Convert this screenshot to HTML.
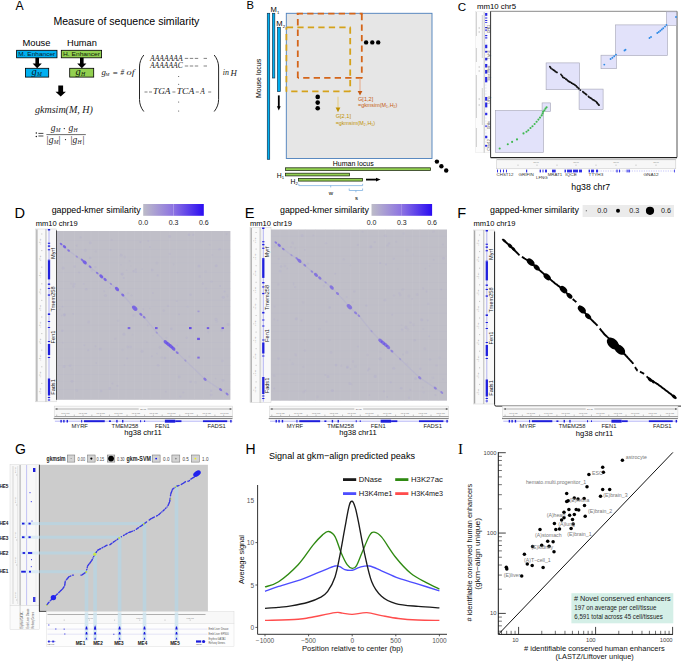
<!DOCTYPE html>
<html><head><meta charset="utf-8"><style>
html,body{margin:0;padding:0;background:#fff;}
body{width:685px;height:661px;overflow:hidden;font-family:"Liberation Sans",sans-serif;}
svg{display:block;}
</style></head><body>
<svg width="685" height="661" viewBox="0 0 685 661">
<rect x="0" y="0" width="685" height="661" fill="#fff"/>
<text x="15.6" y="10.4" font-size="12.2" fill="#000" text-anchor="start" font-family='"Liberation Sans", sans-serif' >A</text>
<text x="53.4" y="25.0" font-size="10.6" fill="#000" text-anchor="start" font-family='"Liberation Sans", sans-serif' textLength="146" lengthAdjust="spacingAndGlyphs" >Measure of sequence similarity</text>
<text x="22.4" y="45.8" font-size="9.3" fill="#000" text-anchor="start" font-family='"Liberation Sans", sans-serif' textLength="28.1" lengthAdjust="spacingAndGlyphs" >Mouse</text>
<text x="67.0" y="45.8" font-size="9.3" fill="#000" text-anchor="start" font-family='"Liberation Sans", sans-serif' textLength="29.9" lengthAdjust="spacingAndGlyphs" >Human</text>
<rect x="16.6" y="50.3" width="40.4" height="7.5" fill="#00b0f0" stroke="#000" stroke-width="0.8" />
<text x="36.8" y="56.3" font-size="6.0" fill="#0a1a28" text-anchor="middle" font-family='"Liberation Sans", sans-serif' textLength="37" lengthAdjust="spacingAndGlyphs" >M. Enhancer</text>
<rect x="61.3" y="50.3" width="40.3" height="7.5" fill="#92d050" stroke="#000" stroke-width="0.8" />
<text x="81.5" y="56.3" font-size="6.0" fill="#0a1a0a" text-anchor="middle" font-family='"Liberation Sans", sans-serif' textLength="37" lengthAdjust="spacingAndGlyphs" >H. Enhancer</text>
<path d="M35.400000000000006,57.8 L39.0,57.8 L39.0,63.6 L41.800000000000004,63.6 L37.2,68.3 L32.6,63.6 L35.400000000000006,63.6 Z" fill="#000" stroke="none" stroke-width="1" />
<path d="M80.0,57.8 L83.6,57.8 L83.6,63.6 L86.39999999999999,63.6 L81.8,68.3 L77.2,63.6 L80.0,63.6 Z" fill="#000" stroke="none" stroke-width="1" />
<rect x="25.4" y="68.3" width="23.3" height="8.8" fill="#00b0f0" stroke="#000" stroke-width="0.8" />
<rect x="69.7" y="68.3" width="24.0" height="8.8" fill="#92d050" stroke="#000" stroke-width="0.8" />
<text x="31.4" y="74.6" font-size="10.5" fill="#0a1a28" text-anchor="start" font-family='"Liberation Serif", serif' font-style="italic" >g</text>
<text x="36.9" y="75.9" font-size="5.8" fill="#0a1a28" text-anchor="start" font-family='"Liberation Serif", serif' font-style="italic" >M</text>
<text x="75.6" y="74.6" font-size="10.5" fill="#0a1a0a" text-anchor="start" font-family='"Liberation Serif", serif' font-style="italic" >g</text>
<text x="81.1" y="75.9" font-size="5.8" fill="#0a1a0a" text-anchor="start" font-family='"Liberation Serif", serif' font-style="italic" >H</text>
<path d="M58.3,85.4 L63.1,85.4 L63.1,91.8 L65.9,91.8 L60.7,96.6 L55.5,91.8 L58.3,91.8 Z" fill="#000" stroke="none" stroke-width="1" />
<text x="101.6" y="75.0" font-size="8.8" fill="#1a1a1a" text-anchor="start" font-family='"Liberation Serif", serif' font-style="italic" >g</text>
<text x="105.6" y="76.4" font-size="4.6" fill="#1a1a1a" text-anchor="start" font-family='"Liberation Serif", serif' font-style="italic" >M</text>
<text x="112.8" y="75.6" font-size="7.6" fill="#1a1a1a" text-anchor="start" font-family='"Liberation Serif", serif' textLength="5.0" lengthAdjust="spacingAndGlyphs" >=</text>
<text x="120.6" y="75.0" font-size="7.4" fill="#1a1a1a" text-anchor="start" font-family='"Liberation Serif", serif' font-style="italic" textLength="3.6" lengthAdjust="spacingAndGlyphs" >#</text>
<text x="126.6" y="75.0" font-size="8.8" fill="#1a1a1a" text-anchor="start" font-family='"Liberation Serif", serif' font-style="italic" textLength="8.0" lengthAdjust="spacingAndGlyphs" >of</text>
<path d="M143.8,55.0 C141.0,58.5 139.5,62.5 139.5,67.0 L139.5,99.5 C139.5,104 141.0,108 143.8,111.5" fill="none" stroke="#1a1a1a" stroke-width="0.95" />
<path d="M214.2,55.0 C217.0,58.5 218.6,62.5 218.6,67.0 L218.6,99.5 C218.6,104 217.0,108 214.2,111.5" fill="none" stroke="#1a1a1a" stroke-width="0.95" />
<text x="150.0" y="60.6" font-size="7.4" fill="#1a1a1a" text-anchor="start" font-family='"Liberation Serif", serif' font-style="italic" textLength="32.7" lengthAdjust="spacingAndGlyphs" >AAAAAAA</text>
<text x="150.0" y="68.2" font-size="7.4" fill="#1a1a1a" text-anchor="start" font-family='"Liberation Serif", serif' font-style="italic" textLength="32.7" lengthAdjust="spacingAndGlyphs" >AAAAAAC</text>
<line x1="184.8" y1="58.4" x2="188.20000000000002" y2="58.4" stroke="#1a1a1a" stroke-width="0.55" />
<line x1="189.8" y1="58.4" x2="193.20000000000002" y2="58.4" stroke="#1a1a1a" stroke-width="0.55" />
<line x1="194.8" y1="58.4" x2="198.20000000000002" y2="58.4" stroke="#1a1a1a" stroke-width="0.55" />
<line x1="203.6" y1="58.4" x2="207.0" y2="58.4" stroke="#1a1a1a" stroke-width="0.55" />
<line x1="184.8" y1="66.0" x2="188.20000000000002" y2="66.0" stroke="#1a1a1a" stroke-width="0.55" />
<line x1="189.8" y1="66.0" x2="193.20000000000002" y2="66.0" stroke="#1a1a1a" stroke-width="0.55" />
<line x1="194.8" y1="66.0" x2="198.20000000000002" y2="66.0" stroke="#1a1a1a" stroke-width="0.55" />
<line x1="203.6" y1="66.0" x2="207.0" y2="66.0" stroke="#1a1a1a" stroke-width="0.55" />
<circle cx="178.7" cy="76.4" r="0.5" fill="#333" />
<circle cx="178.7" cy="84.2" r="0.5" fill="#333" />
<circle cx="178.7" cy="102.0" r="0.5" fill="#333" />
<circle cx="178.7" cy="111.0" r="0.5" fill="#333" />
<line x1="144.5" y1="92.0" x2="147.5" y2="92.0" stroke="#1a1a1a" stroke-width="0.55" />
<line x1="149.0" y1="92.0" x2="152.0" y2="92.0" stroke="#1a1a1a" stroke-width="0.55" />
<line x1="172.4" y1="92.0" x2="175.4" y2="92.0" stroke="#1a1a1a" stroke-width="0.55" />
<line x1="195.8" y1="92.0" x2="198.8" y2="92.0" stroke="#1a1a1a" stroke-width="0.55" />
<line x1="208.2" y1="92.0" x2="211.2" y2="92.0" stroke="#1a1a1a" stroke-width="0.55" />
<text x="153.0" y="94.4" font-size="7.4" fill="#1a1a1a" text-anchor="start" font-family='"Liberation Serif", serif' font-style="italic" textLength="17.5" lengthAdjust="spacingAndGlyphs" >TGA</text>
<text x="176.8" y="94.4" font-size="7.4" fill="#1a1a1a" text-anchor="start" font-family='"Liberation Serif", serif' font-style="italic" textLength="17.5" lengthAdjust="spacingAndGlyphs" >TCA</text>
<text x="200.2" y="94.4" font-size="7.4" fill="#1a1a1a" text-anchor="start" font-family='"Liberation Serif", serif' font-style="italic" >A</text>
<text x="222.8" y="75.4" font-size="8.8" fill="#1a1a1a" text-anchor="start" font-family='"Liberation Serif", serif' font-style="italic" textLength="6.2" lengthAdjust="spacingAndGlyphs" >in</text>
<text x="230.6" y="76.2" font-size="8.8" fill="#1a1a1a" text-anchor="start" font-family='"Liberation Serif", serif' font-style="italic" >H</text>
<text x="35.0" y="112.6" font-size="10.4" fill="#1a1a1a" text-anchor="start" font-family='"Liberation Serif", serif' font-style="italic" textLength="57.9" lengthAdjust="spacingAndGlyphs" >gkmsim(M, H)</text>
<circle cx="36.3" cy="133.0" r="0.75" fill="#1a1a1a" />
<circle cx="36.3" cy="136.4" r="0.75" fill="#1a1a1a" />
<line x1="38.4" y1="133.4" x2="43.4" y2="133.4" stroke="#1a1a1a" stroke-width="0.8" />
<line x1="38.4" y1="136.0" x2="43.4" y2="136.0" stroke="#1a1a1a" stroke-width="0.8" />
<text x="50.8" y="131.0" font-size="9.6" fill="#1a1a1a" text-anchor="start" font-family='"Liberation Serif", serif' font-style="italic" >g</text>
<text x="55.8" y="132.2" font-size="5.6" fill="#1a1a1a" text-anchor="start" font-family='"Liberation Serif", serif' font-style="italic" >M</text>
<circle cx="64.3" cy="128.6" r="0.65" fill="#1a1a1a" />
<text x="68.6" y="131.0" font-size="9.6" fill="#1a1a1a" text-anchor="start" font-family='"Liberation Serif", serif' font-style="italic" >g</text>
<text x="73.6" y="132.2" font-size="5.6" fill="#1a1a1a" text-anchor="start" font-family='"Liberation Serif", serif' font-style="italic" >H</text>
<line x1="46.4" y1="134.6" x2="85.8" y2="134.6" stroke="#1a1a1a" stroke-width="0.65" />
<text x="46.6" y="142.8" font-size="9.6" fill="#1a1a1a" text-anchor="start" font-family='"Liberation Serif", serif' >|</text>
<text x="48.8" y="142.6" font-size="9.6" fill="#1a1a1a" text-anchor="start" font-family='"Liberation Serif", serif' font-style="italic" >g</text>
<text x="53.8" y="143.8" font-size="5.6" fill="#1a1a1a" text-anchor="start" font-family='"Liberation Serif", serif' font-style="italic" >M</text>
<text x="58.6" y="142.8" font-size="9.6" fill="#1a1a1a" text-anchor="start" font-family='"Liberation Serif", serif' >|</text>
<circle cx="65.5" cy="139.6" r="0.65" fill="#1a1a1a" />
<text x="70.4" y="142.8" font-size="9.6" fill="#1a1a1a" text-anchor="start" font-family='"Liberation Serif", serif' >|</text>
<text x="72.6" y="142.6" font-size="9.6" fill="#1a1a1a" text-anchor="start" font-family='"Liberation Serif", serif' font-style="italic" >g</text>
<text x="77.6" y="143.8" font-size="5.6" fill="#1a1a1a" text-anchor="start" font-family='"Liberation Serif", serif' font-style="italic" >H</text>
<text x="82.4" y="142.8" font-size="9.6" fill="#1a1a1a" text-anchor="start" font-family='"Liberation Serif", serif' >|</text>
<text x="246.4" y="8.9" font-size="11.2" fill="#000" text-anchor="start" font-family='"Liberation Sans", sans-serif' >B</text>
<rect x="267.3" y="13.3" width="2.4" height="146" fill="#00b0f0" stroke="#0d3a5a" stroke-width="0.7" />
<rect x="272.5" y="13.3" width="2.3" height="64.7" fill="#00b0f0" stroke="#0d3a5a" stroke-width="0.7" />
<rect x="277.5" y="27.3" width="2.8" height="64.2" fill="#00b0f0" stroke="#0d3a5a" stroke-width="0.7" />
<text x="270.5" y="12.4" font-size="7.6" fill="#000" text-anchor="start" font-family='"Liberation Sans", sans-serif' >M</text>
<text x="276.9" y="13.6" font-size="4.2" fill="#000" text-anchor="start" font-family='"Liberation Sans", sans-serif' >1</text>
<text x="276.3" y="26.4" font-size="7.6" fill="#000" text-anchor="start" font-family='"Liberation Sans", sans-serif' >M</text>
<text x="282.7" y="27.6" font-size="4.2" fill="#000" text-anchor="start" font-family='"Liberation Sans", sans-serif' >2</text>
<line x1="278.8" y1="95.4" x2="278.8" y2="107.5" stroke="#000" stroke-width="1.8" />
<path d="M276.9,106.3 L280.7,106.3 L278.8,110.5 Z" fill="#000" stroke="none" stroke-width="1" />
<rect x="286.3" y="13.3" width="145.7" height="145.2" fill="#e6e6e6" stroke="#4a7ebb" stroke-width="0.9" />
<line x1="296.7" y1="13.6" x2="362.7" y2="13.6" stroke="#d4651a" stroke-width="1.8" stroke-dasharray="6.3 4.2" stroke-dashoffset="0.00"/>
<line x1="361.8" y1="13.6" x2="361.8" y2="78.5" stroke="#d4651a" stroke-width="1.8" stroke-dasharray="6.3 4.2" stroke-dashoffset="10.10"/>
<line x1="297.8" y1="77.8" x2="362.7" y2="77.8" stroke="#d4651a" stroke-width="1.8" stroke-dasharray="6.3 4.2" stroke-dashoffset="5.10"/>
<line x1="297.8" y1="13.6" x2="297.8" y2="78.5" stroke="#d4651a" stroke-width="1.8" stroke-dasharray="6.3 4.2" stroke-dashoffset="5.00"/>
<line x1="286.4" y1="27.3" x2="350.8" y2="27.3" stroke="#d5a21b" stroke-width="1.8" stroke-dasharray="6.3 4.2" stroke-dashoffset="10.10"/>
<line x1="350.2" y1="27.3" x2="350.2" y2="91.8" stroke="#d5a21b" stroke-width="1.8" stroke-dasharray="6.3 4.2" stroke-dashoffset="10.30"/>
<line x1="286.4" y1="91.3" x2="351.0" y2="91.3" stroke="#d5a21b" stroke-width="1.8" stroke-dasharray="6.3 4.2" stroke-dashoffset="5.70"/>
<line x1="286.4" y1="27.3" x2="286.4" y2="91.8" stroke="#d5a21b" stroke-width="1.8" stroke-dasharray="6.3 4.2" stroke-dashoffset="3.80"/>
<circle cx="366.1" cy="42.4" r="2.2" fill="#000" />
<circle cx="372.3" cy="42.4" r="2.2" fill="#000" />
<circle cx="378.2" cy="42.4" r="2.2" fill="#000" />
<circle cx="317.7" cy="96.9" r="2.3" fill="#000" />
<circle cx="317.7" cy="102.6" r="2.3" fill="#000" />
<circle cx="317.7" cy="108.3" r="2.3" fill="#000" />
<line x1="360.0" y1="78.5" x2="360.0" y2="92.0" stroke="#e8a07a" stroke-width="0.9" />
<path d="M357.6,91.0 L362.4,91.0 L360.0,95.6 Z" fill="#c55a11" stroke="none" stroke-width="1" />
<text x="358.0" y="100.6" font-size="5.4" fill="#c55a11" text-anchor="start" font-family='"Liberation Sans", sans-serif' textLength="15.3" lengthAdjust="spacingAndGlyphs" >G[1,2]</text>
<text x="358.0" y="106.9" font-size="5.4" fill="#c55a11" text-anchor="start" font-family='"Liberation Sans", sans-serif' >=gkmsim(M</text>
<text x="386.0" y="107.5" font-size="3.5" fill="#c55a11" text-anchor="start" font-family='"Liberation Sans", sans-serif' >1</text>
<text x="388.2" y="106.9" font-size="5.4" fill="#c55a11" text-anchor="start" font-family='"Liberation Sans", sans-serif' >,H</text>
<text x="393.6" y="107.5" font-size="3.5" fill="#c55a11" text-anchor="start" font-family='"Liberation Sans", sans-serif' >2</text>
<text x="395.5" y="106.9" font-size="5.4" fill="#c55a11" text-anchor="start" font-family='"Liberation Sans", sans-serif' >)</text>
<line x1="338.0" y1="96.7" x2="338.0" y2="108.5" stroke="#e7c870" stroke-width="0.9" />
<path d="M335.6,107.5 L340.4,107.5 L338.0,112.3 Z" fill="#bf9000" stroke="none" stroke-width="1" />
<text x="335.7" y="118.4" font-size="5.4" fill="#bf9000" text-anchor="start" font-family='"Liberation Sans", sans-serif' textLength="15.3" lengthAdjust="spacingAndGlyphs" >G[2,1]</text>
<text x="335.7" y="124.9" font-size="5.4" fill="#bf9000" text-anchor="start" font-family='"Liberation Sans", sans-serif' >=gkmsim(M</text>
<text x="363.7" y="125.5" font-size="3.5" fill="#bf9000" text-anchor="start" font-family='"Liberation Sans", sans-serif' >2</text>
<text x="365.9" y="124.9" font-size="5.4" fill="#bf9000" text-anchor="start" font-family='"Liberation Sans", sans-serif' >,H</text>
<text x="371.3" y="125.5" font-size="3.5" fill="#bf9000" text-anchor="start" font-family='"Liberation Sans", sans-serif' >1</text>
<text x="373.2" y="124.9" font-size="5.4" fill="#bf9000" text-anchor="start" font-family='"Liberation Sans", sans-serif' >)</text>
<text x="0" y="0" font-size="7.0" fill="#000" text-anchor="middle" font-family='"Liberation Sans", sans-serif' textLength="39.3" lengthAdjust="spacingAndGlyphs" transform="translate(261.3,78.4) rotate(-90)">Mouse locus</text>
<text x="332.8" y="166.0" font-size="7.0" fill="#000" text-anchor="start" font-family='"Liberation Sans", sans-serif' textLength="40.9" lengthAdjust="spacingAndGlyphs" >Human locus</text>
<rect x="285.5" y="167.8" width="145.1" height="2.7" fill="#92d050" stroke="#1e2a12" stroke-width="0.75" />
<rect x="285.5" y="173.2" width="64.0" height="2.7" fill="#92d050" stroke="#1e2a12" stroke-width="0.75" />
<rect x="298.6" y="178.4" width="64.0" height="2.7" fill="#92d050" stroke="#1e2a12" stroke-width="0.75" />
<text x="276.8" y="178.0" font-size="6.8" fill="#000" text-anchor="start" font-family='"Liberation Sans", sans-serif' >H</text>
<text x="281.8" y="179.3" font-size="4.2" fill="#000" text-anchor="start" font-family='"Liberation Sans", sans-serif' >1</text>
<text x="290.6" y="183.5" font-size="6.8" fill="#000" text-anchor="start" font-family='"Liberation Sans", sans-serif' >H</text>
<text x="295.6" y="184.8" font-size="4.2" fill="#000" text-anchor="start" font-family='"Liberation Sans", sans-serif' >2</text>
<line x1="366.0" y1="179.6" x2="377.0" y2="179.6" stroke="#000" stroke-width="1.8" />
<path d="M376.0,177.7 L380.6,179.6 L376.0,181.5 Z" fill="#000" stroke="none" stroke-width="1" />
<circle cx="436.9" cy="161.6" r="2.2" fill="#000" />
<circle cx="441.4" cy="166.3" r="2.2" fill="#000" />
<circle cx="446.2" cy="170.5" r="2.2" fill="#000" />
<path d="M298.8,183.8 L298.8,185.6 L362.6,185.6 L362.6,183.8 M330.7,185.6 L330.7,187.4" fill="none" stroke="#6fa8dc" stroke-width="0.7" />
<path d="M349.2,188.5 L349.2,190.5 L362.6,190.5 L362.6,188.5 M355.9,190.5 L355.9,192.3" fill="none" stroke="#6fa8dc" stroke-width="0.7" />
<text x="330.8" y="194.6" font-size="6.0" fill="#000" text-anchor="middle" font-family='"Liberation Sans", sans-serif' >w</text>
<text x="356.6" y="200.2" font-size="6.0" fill="#000" text-anchor="middle" font-family='"Liberation Sans", sans-serif' >s</text>
<text x="457.8" y="10.6" font-size="11.6" fill="#000" text-anchor="start" font-family='"Liberation Sans", sans-serif' >C</text>
<text x="476.9" y="8.9" font-size="7.8" fill="#000" text-anchor="start" font-family='"Liberation Sans", sans-serif' textLength="39.1" lengthAdjust="spacingAndGlyphs" >mm10 chr5</text>
<rect x="475.3" y="11.5" width="15.2" height="141.2" fill="#fcfcfc" stroke="#e0e0e0" stroke-width="0.4" />
<line x1="476.4" y1="12" x2="476.4" y2="36" stroke="#a0a0a0" stroke-width="0.5" />
<line x1="476.4" y1="48" x2="476.4" y2="62" stroke="#a0a0a0" stroke-width="0.5" />
<line x1="476.4" y1="75" x2="476.4" y2="118" stroke="#a0a0a0" stroke-width="0.5" />
<line x1="476.4" y1="128" x2="476.4" y2="147" stroke="#a0a0a0" stroke-width="0.5" />
<line x1="482.3" y1="15" x2="482.3" y2="58" stroke="#b0b0b0" stroke-width="0.55" />
<line x1="482.3" y1="88" x2="482.3" y2="125" stroke="#b0b0b0" stroke-width="0.55" />
<line x1="479.2" y1="27" x2="479.2" y2="29" stroke="#888" stroke-width="0.4" />
<line x1="479.2" y1="31" x2="479.2" y2="33" stroke="#888" stroke-width="0.4" />
<line x1="479.2" y1="66" x2="479.2" y2="68" stroke="#888" stroke-width="0.4" />
<line x1="479.2" y1="70" x2="479.2" y2="72" stroke="#888" stroke-width="0.4" />
<line x1="479.2" y1="98" x2="479.2" y2="100" stroke="#888" stroke-width="0.4" />
<line x1="479.2" y1="104" x2="479.2" y2="106" stroke="#888" stroke-width="0.4" />
<line x1="484.2" y1="12" x2="484.2" y2="152.7" stroke="#8a8a8a" stroke-width="0.5" />
<line x1="485.4" y1="16" x2="486.4" y2="16" stroke="#8080f0" stroke-width="0.3" />
<line x1="485.4" y1="19" x2="486.4" y2="19" stroke="#8080f0" stroke-width="0.3" />
<line x1="485.4" y1="22" x2="486.4" y2="22" stroke="#8080f0" stroke-width="0.3" />
<line x1="485.4" y1="25" x2="486.4" y2="25" stroke="#8080f0" stroke-width="0.3" />
<line x1="485.4" y1="28" x2="486.4" y2="28" stroke="#8080f0" stroke-width="0.3" />
<line x1="485.4" y1="31" x2="486.4" y2="31" stroke="#8080f0" stroke-width="0.3" />
<line x1="485.4" y1="34" x2="486.4" y2="34" stroke="#8080f0" stroke-width="0.3" />
<line x1="485.4" y1="37" x2="486.4" y2="37" stroke="#8080f0" stroke-width="0.3" />
<line x1="485.4" y1="40" x2="486.4" y2="40" stroke="#8080f0" stroke-width="0.3" />
<line x1="485.4" y1="43" x2="486.4" y2="43" stroke="#8080f0" stroke-width="0.3" />
<line x1="485.4" y1="46" x2="486.4" y2="46" stroke="#8080f0" stroke-width="0.3" />
<line x1="485.4" y1="49" x2="486.4" y2="49" stroke="#8080f0" stroke-width="0.3" />
<line x1="485.4" y1="52" x2="486.4" y2="52" stroke="#8080f0" stroke-width="0.3" />
<line x1="485.4" y1="55" x2="486.4" y2="55" stroke="#8080f0" stroke-width="0.3" />
<line x1="485.4" y1="58" x2="486.4" y2="58" stroke="#8080f0" stroke-width="0.3" />
<line x1="485.4" y1="61" x2="486.4" y2="61" stroke="#8080f0" stroke-width="0.3" />
<line x1="485.4" y1="64" x2="486.4" y2="64" stroke="#8080f0" stroke-width="0.3" />
<line x1="485.4" y1="67" x2="486.4" y2="67" stroke="#8080f0" stroke-width="0.3" />
<line x1="485.4" y1="70" x2="486.4" y2="70" stroke="#8080f0" stroke-width="0.3" />
<line x1="485.4" y1="73" x2="486.4" y2="73" stroke="#8080f0" stroke-width="0.3" />
<line x1="485.4" y1="76" x2="486.4" y2="76" stroke="#8080f0" stroke-width="0.3" />
<line x1="485.4" y1="79" x2="486.4" y2="79" stroke="#8080f0" stroke-width="0.3" />
<line x1="485.4" y1="82" x2="486.4" y2="82" stroke="#8080f0" stroke-width="0.3" />
<line x1="485.4" y1="85" x2="486.4" y2="85" stroke="#8080f0" stroke-width="0.3" />
<line x1="485.4" y1="88" x2="486.4" y2="88" stroke="#8080f0" stroke-width="0.3" />
<line x1="485.4" y1="91" x2="486.4" y2="91" stroke="#8080f0" stroke-width="0.3" />
<line x1="485.4" y1="94" x2="486.4" y2="94" stroke="#8080f0" stroke-width="0.3" />
<line x1="485.4" y1="97" x2="486.4" y2="97" stroke="#8080f0" stroke-width="0.3" />
<line x1="485.4" y1="100" x2="486.4" y2="100" stroke="#8080f0" stroke-width="0.3" />
<line x1="485.4" y1="103" x2="486.4" y2="103" stroke="#8080f0" stroke-width="0.3" />
<line x1="485.4" y1="106" x2="486.4" y2="106" stroke="#8080f0" stroke-width="0.3" />
<line x1="485.4" y1="109" x2="486.4" y2="109" stroke="#8080f0" stroke-width="0.3" />
<line x1="485.4" y1="112" x2="486.4" y2="112" stroke="#8080f0" stroke-width="0.3" />
<line x1="485.4" y1="115" x2="486.4" y2="115" stroke="#8080f0" stroke-width="0.3" />
<line x1="485.4" y1="118" x2="486.4" y2="118" stroke="#8080f0" stroke-width="0.3" />
<line x1="485.4" y1="121" x2="486.4" y2="121" stroke="#8080f0" stroke-width="0.3" />
<line x1="485.4" y1="124" x2="486.4" y2="124" stroke="#8080f0" stroke-width="0.3" />
<line x1="485.4" y1="127" x2="486.4" y2="127" stroke="#8080f0" stroke-width="0.3" />
<line x1="485.4" y1="130" x2="486.4" y2="130" stroke="#8080f0" stroke-width="0.3" />
<line x1="485.4" y1="133" x2="486.4" y2="133" stroke="#8080f0" stroke-width="0.3" />
<line x1="485.4" y1="136" x2="486.4" y2="136" stroke="#8080f0" stroke-width="0.3" />
<line x1="485.4" y1="139" x2="486.4" y2="139" stroke="#8080f0" stroke-width="0.3" />
<line x1="485.4" y1="142" x2="486.4" y2="142" stroke="#8080f0" stroke-width="0.3" />
<line x1="485.4" y1="145" x2="486.4" y2="145" stroke="#8080f0" stroke-width="0.3" />
<line x1="485.4" y1="148" x2="486.4" y2="148" stroke="#8080f0" stroke-width="0.3" />
<rect x="485.1" y="13" width="2.2" height="2.8000000000000007" fill="#2a2ae6" stroke="none" stroke-width="1" />
<rect x="485.1" y="17.5" width="2.2" height="1.0" fill="#2a2ae6" stroke="none" stroke-width="1" />
<rect x="485.1" y="20" width="2.2" height="1" fill="#2a2ae6" stroke="none" stroke-width="1" />
<rect x="485.1" y="22" width="2.2" height="0.8000000000000007" fill="#2a2ae6" stroke="none" stroke-width="1" />
<rect x="485.1" y="27" width="2.2" height="1.1999999999999993" fill="#2a2ae6" stroke="none" stroke-width="1" />
<rect x="485.1" y="29.5" width="2.2" height="1.1999999999999993" fill="#2a2ae6" stroke="none" stroke-width="1" />
<rect x="485.1" y="35" width="2.2" height="1.2000000000000028" fill="#2a2ae6" stroke="none" stroke-width="1" />
<rect x="485.1" y="37.3" width="2.2" height="1.2000000000000028" fill="#2a2ae6" stroke="none" stroke-width="1" />
<rect x="485.1" y="44.7" width="2.2" height="3.5" fill="#2a2ae6" stroke="none" stroke-width="1" />
<rect x="485.1" y="50.8" width="2.2" height="1.8000000000000043" fill="#2a2ae6" stroke="none" stroke-width="1" />
<rect x="485.1" y="57.8" width="2.2" height="2.6000000000000014" fill="#2a2ae6" stroke="none" stroke-width="1" />
<rect x="485.1" y="64" width="2.2" height="3.5" fill="#2a2ae6" stroke="none" stroke-width="1" />
<rect x="485.1" y="70" width="2.2" height="3.5999999999999943" fill="#2a2ae6" stroke="none" stroke-width="1" />
<rect x="485.1" y="77" width="2.2" height="5.299999999999997" fill="#2a2ae6" stroke="none" stroke-width="1" />
<rect x="485.1" y="97" width="2.2" height="3.700000000000003" fill="#2a2ae6" stroke="none" stroke-width="1" />
<rect x="485.1" y="102.5" width="2.2" height="4.900000000000006" fill="#2a2ae6" stroke="none" stroke-width="1" />
<rect x="485.1" y="112.8" width="2.2" height="2.4000000000000057" fill="#2a2ae6" stroke="none" stroke-width="1" />
<rect x="485.1" y="125.5" width="2.2" height="1.2000000000000028" fill="#2a2ae6" stroke="none" stroke-width="1" />
<rect x="485.1" y="135.8" width="2.2" height="2.3999999999999773" fill="#2a2ae6" stroke="none" stroke-width="1" />
<rect x="485.1" y="144.9" width="2.2" height="1.799999999999983" fill="#2a2ae6" stroke="none" stroke-width="1" />
<text x="0" y="0" font-size="3.6" fill="#444" text-anchor="middle" font-family='"Liberation Sans", sans-serif' transform="translate(489.6,29) rotate(-90)">Orf11</text>
<text x="0" y="0" font-size="3.6" fill="#444" text-anchor="middle" font-family='"Liberation Sans", sans-serif' transform="translate(489.6,55) rotate(-90)">Ttyh3</text>
<text x="0" y="0" font-size="3.6" fill="#444" text-anchor="middle" font-family='"Liberation Sans", sans-serif' transform="translate(489.6,69) rotate(-90)">Mrat</text>
<text x="0" y="0" font-size="3.6" fill="#444" text-anchor="middle" font-family='"Liberation Sans", sans-serif' transform="translate(489.6,77) rotate(-90)">Iqce</text>
<text x="0" y="0" font-size="3.6" fill="#444" text-anchor="middle" font-family='"Liberation Sans", sans-serif' transform="translate(489.6,100) rotate(-90)">Lfng</text>
<text x="0" y="0" font-size="3.6" fill="#444" text-anchor="middle" font-family='"Liberation Sans", sans-serif' transform="translate(489.6,125) rotate(-90)">Grifin</text>
<text x="0" y="0" font-size="3.6" fill="#444" text-anchor="middle" font-family='"Liberation Sans", sans-serif' transform="translate(489.6,145) rotate(-90)">Chst12</text>
<line x1="490.6" y1="11.3" x2="677.0" y2="11.3" stroke="#8a8a8a" stroke-width="1.0" />
<line x1="677.0" y1="11.3" x2="677.0" y2="157.4" stroke="#555555" stroke-width="1.0" />
<line x1="490.6" y1="11.3" x2="490.6" y2="157.6" stroke="#333333" stroke-width="1.0" />
<line x1="490.6" y1="157.6" x2="677.0" y2="157.6" stroke="#222222" stroke-width="1.1" />
<rect x="495.3" y="110.5" width="48.19999999999999" height="42.0" fill="#e2e2fa" stroke="#a4a4b4" stroke-width="0.6" />
<rect x="542.1" y="102.9" width="8.600000000000023" height="8.699999999999989" fill="#e2e2fa" stroke="#a4a4b4" stroke-width="0.6" />
<rect x="546.1" y="62.9" width="33.60000000000002" height="26.800000000000004" fill="#e2e2fa" stroke="#a4a4b4" stroke-width="0.6" />
<rect x="579.1" y="89.1" width="24.0" height="20.400000000000006" fill="#e2e2fa" stroke="#a4a4b4" stroke-width="0.6" />
<rect x="601.0" y="55.2" width="15.5" height="13.5" fill="#e2e2fa" stroke="#a4a4b4" stroke-width="0.6" />
<rect x="615.5" y="24.9" width="52.0" height="30.800000000000004" fill="#e2e2fa" stroke="#a4a4b4" stroke-width="0.6" />
<rect x="666.3" y="11.8" width="10.200000000000045" height="13.599999999999998" fill="#e2e2fa" stroke="#a4a4b4" stroke-width="0.6" />
<circle cx="499.7" cy="148.5" r="1.05" fill="#3fb950" />
<circle cx="507.8" cy="144.3" r="1.05" fill="#3fb950" />
<circle cx="512.1" cy="141.9" r="1.05" fill="#3fb950" />
<circle cx="517.0" cy="139.4" r="1.05" fill="#3fb950" />
<circle cx="523.5" cy="133.4" r="1.05" fill="#3fb950" />
<circle cx="526.5" cy="131.8" r="1.05" fill="#3fb950" />
<circle cx="528.3" cy="130.3" r="1.05" fill="#3fb950" />
<circle cx="530.5" cy="128.0" r="1.05" fill="#3fb950" />
<circle cx="532.5" cy="126.2" r="1.05" fill="#3fb950" />
<circle cx="534.6" cy="124.0" r="1.05" fill="#3fb950" />
<circle cx="536.6" cy="121.8" r="1.05" fill="#3fb950" />
<circle cx="538.4" cy="119.6" r="1.05" fill="#3fb950" />
<circle cx="540.0" cy="117.6" r="1.05" fill="#3fb950" />
<circle cx="541.7" cy="115.4" r="1.05" fill="#3fb950" />
<circle cx="542.6" cy="113.4" r="1.05" fill="#3fb950" />
<circle cx="543.2" cy="111.6" r="1.05" fill="#3fb950" />
<circle cx="544.4" cy="110.2" r="1.05" fill="#3fb950" />
<circle cx="545.5" cy="108.6" r="1.05" fill="#3fb950" />
<circle cx="546.6" cy="107.2" r="1.05" fill="#3fb950" />
<circle cx="549.82" cy="66.58" r="0.88" fill="#111"/>
<circle cx="550.47" cy="67.45" r="0.88" fill="#111"/>
<circle cx="550.97" cy="68.37" r="0.88" fill="#111"/>
<circle cx="552.10" cy="69.09" r="0.88" fill="#111"/>
<circle cx="552.93" cy="69.52" r="0.88" fill="#111"/>
<circle cx="553.74" cy="70.13" r="0.88" fill="#111"/>
<circle cx="554.50" cy="70.68" r="0.88" fill="#111"/>
<circle cx="555.28" cy="71.49" r="0.88" fill="#111"/>
<circle cx="556.23" cy="72.03" r="0.88" fill="#111"/>
<circle cx="556.99" cy="72.41" r="0.88" fill="#111"/>
<circle cx="560.94" cy="74.34" r="0.88" fill="#111"/>
<circle cx="561.67" cy="75.37" r="0.88" fill="#111"/>
<circle cx="562.31" cy="76.11" r="0.88" fill="#111"/>
<circle cx="562.83" cy="77.25" r="0.88" fill="#111"/>
<circle cx="563.77" cy="77.67" r="0.88" fill="#111"/>
<circle cx="564.73" cy="78.21" r="0.88" fill="#111"/>
<circle cx="565.83" cy="79.01" r="0.88" fill="#111"/>
<circle cx="566.44" cy="79.44" r="0.88" fill="#111"/>
<circle cx="567.27" cy="80.12" r="0.88" fill="#111"/>
<circle cx="567.99" cy="80.80" r="0.88" fill="#111"/>
<circle cx="568.60" cy="81.27" r="0.88" fill="#111"/>
<circle cx="569.45" cy="81.74" r="0.88" fill="#111"/>
<circle cx="570.14" cy="82.16" r="0.88" fill="#111"/>
<circle cx="571.15" cy="82.54" r="0.88" fill="#111"/>
<circle cx="571.74" cy="83.18" r="0.88" fill="#111"/>
<circle cx="572.63" cy="83.61" r="0.88" fill="#111"/>
<circle cx="573.57" cy="84.15" r="0.88" fill="#111"/>
<circle cx="574.60" cy="84.71" r="0.88" fill="#111"/>
<circle cx="575.30" cy="85.31" r="0.88" fill="#111"/>
<circle cx="576.24" cy="85.93" r="0.88" fill="#111"/>
<circle cx="576.88" cy="86.80" r="0.88" fill="#111"/>
<circle cx="577.60" cy="87.47" r="0.88" fill="#111"/>
<circle cx="578.50" cy="88.06" r="0.88" fill="#111"/>
<circle cx="578.97" cy="88.82" r="0.88" fill="#111"/>
<circle cx="580.38" cy="90.03" r="0.88" fill="#111"/>
<circle cx="582.85" cy="91.75" r="0.88" fill="#111"/>
<circle cx="583.70" cy="92.39" r="0.88" fill="#111"/>
<circle cx="584.39" cy="93.03" r="0.88" fill="#111"/>
<circle cx="585.37" cy="93.69" r="0.88" fill="#111"/>
<circle cx="586.05" cy="94.26" r="0.88" fill="#111"/>
<circle cx="586.56" cy="94.64" r="0.88" fill="#111"/>
<circle cx="588.44" cy="96.32" r="0.88" fill="#111"/>
<circle cx="589.07" cy="97.13" r="0.88" fill="#111"/>
<circle cx="590.01" cy="97.70" r="0.88" fill="#111"/>
<circle cx="590.79" cy="98.11" r="0.88" fill="#111"/>
<circle cx="591.71" cy="98.69" r="0.88" fill="#111"/>
<circle cx="592.56" cy="99.54" r="0.88" fill="#111"/>
<circle cx="593.42" cy="99.83" r="0.88" fill="#111"/>
<circle cx="594.21" cy="100.45" r="0.88" fill="#111"/>
<circle cx="595.31" cy="101.08" r="0.88" fill="#111"/>
<circle cx="596.04" cy="101.58" r="0.88" fill="#111"/>
<circle cx="596.82" cy="102.38" r="0.88" fill="#111"/>
<circle cx="597.17" cy="102.97" r="0.88" fill="#111"/>
<circle cx="597.71" cy="103.70" r="0.88" fill="#111"/>
<circle cx="598.47" cy="104.39" r="0.88" fill="#111"/>
<circle cx="599.00" cy="105.20" r="0.88" fill="#111"/>
<circle cx="604.3" cy="64.6" r="0.95" fill="#2e8be6" />
<circle cx="610.6" cy="59.0" r="0.95" fill="#2e8be6" />
<circle cx="612.4" cy="57.7" r="0.95" fill="#2e8be6" />
<circle cx="614.2" cy="56.2" r="0.95" fill="#2e8be6" />
<circle cx="616.0" cy="54.6" r="0.95" fill="#2e8be6" />
<circle cx="624.5" cy="50.5" r="0.95" fill="#2e8be6" />
<circle cx="625.5" cy="49.8" r="0.95" fill="#2e8be6" />
<circle cx="649.5" cy="38.0" r="0.95" fill="#2e8be6" />
<circle cx="651.0" cy="37.0" r="0.95" fill="#2e8be6" />
<circle cx="657.3" cy="33.0" r="0.95" fill="#2e8be6" />
<circle cx="658.8" cy="32.0" r="0.95" fill="#2e8be6" />
<circle cx="660.3" cy="30.8" r="0.95" fill="#2e8be6" />
<circle cx="661.8" cy="29.5" r="0.95" fill="#2e8be6" />
<circle cx="663.2" cy="28.3" r="0.95" fill="#2e8be6" />
<circle cx="665.0" cy="26.6" r="0.95" fill="#2e8be6" />
<circle cx="666.5" cy="24.9" r="0.95" fill="#2e8be6" />
<circle cx="676.0" cy="17.0" r="0.95" fill="#2e8be6" />
<rect x="496.6" y="158.6" width="179.2" height="10.2" fill="#f7f7f7" stroke="#c4c4c4" stroke-width="0.5" />
<line x1="497" y1="159.6" x2="675.5" y2="159.6" stroke="#666" stroke-width="0.4" />
<line x1="518" y1="164.6" x2="518" y2="165.8" stroke="#777" stroke-width="0.4" />
<line x1="537" y1="164.6" x2="537" y2="165.8" stroke="#777" stroke-width="0.4" />
<line x1="557" y1="164.6" x2="557" y2="165.8" stroke="#777" stroke-width="0.4" />
<line x1="576" y1="164.6" x2="576" y2="165.8" stroke="#777" stroke-width="0.4" />
<line x1="596" y1="164.6" x2="596" y2="165.8" stroke="#777" stroke-width="0.4" />
<line x1="616" y1="164.6" x2="616" y2="165.8" stroke="#777" stroke-width="0.4" />
<line x1="636" y1="164.6" x2="636" y2="165.8" stroke="#777" stroke-width="0.4" />
<line x1="656" y1="164.6" x2="656" y2="165.8" stroke="#777" stroke-width="0.4" />
<text x="536" y="163.2" font-size="1.9" fill="#888" text-anchor="middle" font-family='"Liberation Sans", sans-serif' >150 kb</text>
<text x="576" y="163.2" font-size="1.9" fill="#888" text-anchor="middle" font-family='"Liberation Sans", sans-serif' >150 kb</text>
<text x="616" y="163.2" font-size="1.9" fill="#888" text-anchor="middle" font-family='"Liberation Sans", sans-serif' >150 kb</text>
<text x="656" y="163.2" font-size="1.9" fill="#888" text-anchor="middle" font-family='"Liberation Sans", sans-serif' >150 kb</text>
<line x1="588.6" y1="171.0" x2="674.5" y2="171.0" stroke="#6a6af0" stroke-width="0.4" stroke-dasharray="1.2 1.2"/>
<rect x="497" y="169.6" width="1" height="2.8" fill="#3030e6" stroke="none" stroke-width="1" />
<rect x="500" y="169.6" width="1" height="2.8" fill="#3030e6" stroke="none" stroke-width="1" />
<rect x="503" y="169.6" width="1" height="2.8" fill="#3030e6" stroke="none" stroke-width="1" />
<rect x="506" y="169.6" width="1" height="2.8" fill="#3030e6" stroke="none" stroke-width="1" />
<rect x="526" y="169.6" width="1.2000000000000455" height="2.8" fill="#3030e6" stroke="none" stroke-width="1" />
<rect x="539.6" y="169.6" width="1.3999999999999773" height="2.8" fill="#3030e6" stroke="none" stroke-width="1" />
<rect x="542.5" y="169.6" width="1.0" height="2.8" fill="#3030e6" stroke="none" stroke-width="1" />
<rect x="545" y="169.6" width="2" height="2.8" fill="#3030e6" stroke="none" stroke-width="1" />
<rect x="552" y="169.6" width="3.7000000000000455" height="2.8" fill="#3030e6" stroke="none" stroke-width="1" />
<rect x="564.5" y="169.6" width="1.5" height="2.8" fill="#3030e6" stroke="none" stroke-width="1" />
<rect x="567" y="169.6" width="5" height="2.8" fill="#3030e6" stroke="none" stroke-width="1" />
<rect x="573" y="169.6" width="5" height="2.8" fill="#3030e6" stroke="none" stroke-width="1" />
<rect x="579" y="169.6" width="3" height="2.8" fill="#3030e6" stroke="none" stroke-width="1" />
<rect x="588.6" y="169.6" width="1.3999999999999773" height="2.8" fill="#3030e6" stroke="none" stroke-width="1" />
<rect x="591" y="169.6" width="3" height="2.8" fill="#3030e6" stroke="none" stroke-width="1" />
<rect x="596" y="169.6" width="2" height="2.8" fill="#3030e6" stroke="none" stroke-width="1" />
<rect x="616.4" y="169.6" width="1.2000000000000455" height="2.8" fill="#3030e6" stroke="none" stroke-width="1" />
<rect x="619" y="169.6" width="1" height="2.8" fill="#3030e6" stroke="none" stroke-width="1" />
<rect x="626.6" y="169.6" width="1.0" height="2.8" fill="#3030e6" stroke="none" stroke-width="1" />
<rect x="628.4" y="169.6" width="1.3999999999999773" height="2.8" fill="#3030e6" stroke="none" stroke-width="1" />
<rect x="674" y="169.6" width="0.7999999999999545" height="2.8" fill="#3030e6" stroke="none" stroke-width="1" />
<text x="496.6" y="175.5" font-size="4.4" fill="#333" text-anchor="start" font-family='"Liberation Sans", sans-serif' textLength="16.8" lengthAdjust="spacingAndGlyphs" >CHST12</text>
<text x="518.5" y="175.5" font-size="4.4" fill="#333" text-anchor="start" font-family='"Liberation Sans", sans-serif' textLength="15.3" lengthAdjust="spacingAndGlyphs" >GRIFIN</text>
<text x="547.7" y="175.5" font-size="4.4" fill="#333" text-anchor="start" font-family='"Liberation Sans", sans-serif' textLength="14.6" lengthAdjust="spacingAndGlyphs" >MRAT1</text>
<text x="565.2" y="175.5" font-size="4.4" fill="#333" text-anchor="start" font-family='"Liberation Sans", sans-serif' textLength="11.7" lengthAdjust="spacingAndGlyphs" >IQCE</text>
<text x="588.6" y="175.5" font-size="4.4" fill="#333" text-anchor="start" font-family='"Liberation Sans", sans-serif' textLength="14.6" lengthAdjust="spacingAndGlyphs" >TTYH3</text>
<text x="643.4" y="175.5" font-size="4.4" fill="#333" text-anchor="start" font-family='"Liberation Sans", sans-serif' textLength="15.3" lengthAdjust="spacingAndGlyphs" >GNA12</text>
<text x="536.0" y="178.6" font-size="4.4" fill="#333" text-anchor="start" font-family='"Liberation Sans", sans-serif' textLength="11.7" lengthAdjust="spacingAndGlyphs" >LFNG</text>
<text x="571.3" y="190.2" font-size="8.75" fill="#000" text-anchor="start" font-family='"Liberation Sans", sans-serif' textLength="38.9" lengthAdjust="spacingAndGlyphs" >hg38 chr7</text>
<text x="14.6" y="218.3" font-size="14.6" fill="#000" text-anchor="start" font-family='"Liberation Sans", sans-serif' >D</text>
<text x="51.7" y="213.0" font-size="8.85" fill="#000" text-anchor="start" font-family='"Liberation Sans", sans-serif' textLength="89" lengthAdjust="spacingAndGlyphs" >gapped-kmer similarity</text>
<defs><linearGradient id="cbD" x1="0" x2="1" y1="0" y2="0"><stop offset="0" stop-color="#bdbcc8"/><stop offset="0.5" stop-color="#8c72e2"/><stop offset="1" stop-color="#2a0cf2"/></linearGradient></defs>
<rect x="143.2" y="204.0" width="60.6" height="11.8" fill="url(#cbD)" stroke="none" stroke-width="1" />
<line x1="173.5" y1="204" x2="173.5" y2="215.8" stroke="#ffffff" stroke-width="0.4" opacity="0.6"/>
<text x="143.2" y="225.2" font-size="7.0" fill="#222" text-anchor="middle" font-family='"Liberation Sans", sans-serif' >0.0</text>
<text x="173.5" y="225.2" font-size="7.0" fill="#222" text-anchor="middle" font-family='"Liberation Sans", sans-serif' >0.3</text>
<text x="203.79999999999998" y="225.2" font-size="7.0" fill="#222" text-anchor="middle" font-family='"Liberation Sans", sans-serif' >0.6</text>
<text x="35.7" y="225.7" font-size="7.6" fill="#000" text-anchor="start" font-family='"Liberation Sans", sans-serif' textLength="42" lengthAdjust="spacingAndGlyphs" >mm10 chr19</text>
<rect x="35.7" y="229.0" width="20.599999999999994" height="172.8" fill="#f9f9f9" stroke="#d0d0d0" stroke-width="0.5" />
<line x1="36.900000000000006" y1="229.5" x2="36.900000000000006" y2="401.3" stroke="#333" stroke-width="0.5" />
<line x1="45.7" y1="229.0" x2="45.7" y2="401.8" stroke="#999" stroke-width="0.45" />
<line x1="46.5" y1="229.0" x2="46.5" y2="401.8" stroke="#bbb" stroke-width="0.4" />
<line x1="49.0" y1="230.0" x2="49.0" y2="400.8" stroke="#4a4ae8" stroke-width="0.4" />
<rect x="47.85" y="229.0" width="2.3" height="1.5" fill="#1f1fdd" stroke="none" stroke-width="1" />
<rect x="47.85" y="242.7" width="2.3" height="1.1000000000000014" fill="#1f1fdd" stroke="none" stroke-width="1" />
<rect x="47.85" y="245.4" width="2.3" height="1.4000000000000004" fill="#1f1fdd" stroke="none" stroke-width="1" />
<rect x="47.85" y="249.2" width="2.3" height="1.1000000000000014" fill="#1f1fdd" stroke="none" stroke-width="1" />
<rect x="47.85" y="259.7" width="2.3" height="0.9000000000000021" fill="#1f1fdd" stroke="none" stroke-width="1" />
<rect x="47.85" y="260.6" width="2.3" height="18.799999999999997" fill="#1f1fdd" stroke="none" stroke-width="1" />
<rect x="47.85" y="283.5" width="2.3" height="1.3999999999999986" fill="#1f1fdd" stroke="none" stroke-width="1" />
<rect x="47.85" y="287.9" width="2.3" height="1.1000000000000014" fill="#1f1fdd" stroke="none" stroke-width="1" />
<rect x="47.85" y="294.4" width="2.3" height="1.3000000000000043" fill="#1f1fdd" stroke="none" stroke-width="1" />
<rect x="47.85" y="313.4" width="2.3" height="1.5999999999999943" fill="#1f1fdd" stroke="none" stroke-width="1" />
<rect x="47.85" y="321.0" width="2.3" height="1" fill="#1f1fdd" stroke="none" stroke-width="1" />
<rect x="47.85" y="327.0" width="2.3" height="1" fill="#1f1fdd" stroke="none" stroke-width="1" />
<rect x="47.85" y="341.0" width="2.3" height="1" fill="#1f1fdd" stroke="none" stroke-width="1" />
<rect x="47.85" y="344.0" width="2.3" height="11" fill="#1f1fdd" stroke="none" stroke-width="1" />
<rect x="47.85" y="357.0" width="2.3" height="1" fill="#1f1fdd" stroke="none" stroke-width="1" />
<rect x="47.85" y="378.5" width="2.3" height="17.0" fill="#1f1fdd" stroke="none" stroke-width="1" />
<rect x="47.85" y="397.0" width="2.3" height="1" fill="#1f1fdd" stroke="none" stroke-width="1" />
<rect x="47.85" y="399.5" width="2.3" height="1.0" fill="#1f1fdd" stroke="none" stroke-width="1" />
<text x="0" y="0" font-size="5.6" fill="#222" text-anchor="middle" font-family='"Liberation Sans", sans-serif' transform="translate(55.1,253.5) rotate(-90)">Myrf</text>
<text x="0" y="0" font-size="5.6" fill="#222" text-anchor="middle" font-family='"Liberation Sans", sans-serif' transform="translate(55.1,299.0) rotate(-90)">Tmem258</text>
<text x="0" y="0" font-size="5.6" fill="#222" text-anchor="middle" font-family='"Liberation Sans", sans-serif' transform="translate(55.1,337.0) rotate(-90)">Fen1</text>
<text x="0" y="0" font-size="5.6" fill="#222" text-anchor="middle" font-family='"Liberation Sans", sans-serif' transform="translate(55.1,387.0) rotate(-90)">Fads1</text>
<line x1="41.300000000000004" y1="234.0" x2="42.300000000000004" y2="234.0" stroke="#666" stroke-width="0.4" />
<line x1="38.900000000000006" y1="242.3" x2="39.900000000000006" y2="242.3" stroke="#888" stroke-width="0.35" />
<text x="0" y="0" font-size="1.9" fill="#999" text-anchor="middle" font-family='"Liberation Sans", sans-serif' transform="translate(41.300000000000004,241.5) rotate(-90)">5.5 Mb</text>
<line x1="41.300000000000004" y1="250.6" x2="42.300000000000004" y2="250.6" stroke="#666" stroke-width="0.4" />
<line x1="38.900000000000006" y1="258.9" x2="39.900000000000006" y2="258.9" stroke="#888" stroke-width="0.35" />
<text x="0" y="0" font-size="1.9" fill="#999" text-anchor="middle" font-family='"Liberation Sans", sans-serif' transform="translate(41.300000000000004,258.1) rotate(-90)">5.5 Mb</text>
<line x1="41.300000000000004" y1="267.2" x2="42.300000000000004" y2="267.2" stroke="#666" stroke-width="0.4" />
<line x1="38.900000000000006" y1="275.5" x2="39.900000000000006" y2="275.5" stroke="#888" stroke-width="0.35" />
<text x="0" y="0" font-size="1.9" fill="#999" text-anchor="middle" font-family='"Liberation Sans", sans-serif' transform="translate(41.300000000000004,274.7) rotate(-90)">5.5 Mb</text>
<line x1="41.300000000000004" y1="283.8" x2="42.300000000000004" y2="283.8" stroke="#666" stroke-width="0.4" />
<line x1="38.900000000000006" y1="292.1" x2="39.900000000000006" y2="292.1" stroke="#888" stroke-width="0.35" />
<text x="0" y="0" font-size="1.9" fill="#999" text-anchor="middle" font-family='"Liberation Sans", sans-serif' transform="translate(41.300000000000004,291.3) rotate(-90)">5.5 Mb</text>
<line x1="41.300000000000004" y1="300.4" x2="42.300000000000004" y2="300.4" stroke="#666" stroke-width="0.4" />
<line x1="38.900000000000006" y1="308.7" x2="39.900000000000006" y2="308.7" stroke="#888" stroke-width="0.35" />
<text x="0" y="0" font-size="1.9" fill="#999" text-anchor="middle" font-family='"Liberation Sans", sans-serif' transform="translate(41.300000000000004,307.9) rotate(-90)">5.5 Mb</text>
<line x1="41.300000000000004" y1="317.0" x2="42.300000000000004" y2="317.0" stroke="#666" stroke-width="0.4" />
<line x1="38.900000000000006" y1="325.3" x2="39.900000000000006" y2="325.3" stroke="#888" stroke-width="0.35" />
<text x="0" y="0" font-size="1.9" fill="#999" text-anchor="middle" font-family='"Liberation Sans", sans-serif' transform="translate(41.300000000000004,324.5) rotate(-90)">5.5 Mb</text>
<line x1="41.300000000000004" y1="333.6" x2="42.300000000000004" y2="333.6" stroke="#666" stroke-width="0.4" />
<line x1="38.900000000000006" y1="341.90000000000003" x2="39.900000000000006" y2="341.90000000000003" stroke="#888" stroke-width="0.35" />
<text x="0" y="0" font-size="1.9" fill="#999" text-anchor="middle" font-family='"Liberation Sans", sans-serif' transform="translate(41.300000000000004,341.1) rotate(-90)">5.5 Mb</text>
<line x1="41.300000000000004" y1="350.20000000000005" x2="42.300000000000004" y2="350.20000000000005" stroke="#666" stroke-width="0.4" />
<line x1="38.900000000000006" y1="358.50000000000006" x2="39.900000000000006" y2="358.50000000000006" stroke="#888" stroke-width="0.35" />
<text x="0" y="0" font-size="1.9" fill="#999" text-anchor="middle" font-family='"Liberation Sans", sans-serif' transform="translate(41.300000000000004,357.70000000000005) rotate(-90)">5.5 Mb</text>
<line x1="41.300000000000004" y1="366.8" x2="42.300000000000004" y2="366.8" stroke="#666" stroke-width="0.4" />
<line x1="38.900000000000006" y1="375.1" x2="39.900000000000006" y2="375.1" stroke="#888" stroke-width="0.35" />
<text x="0" y="0" font-size="1.9" fill="#999" text-anchor="middle" font-family='"Liberation Sans", sans-serif' transform="translate(41.300000000000004,374.3) rotate(-90)">5.5 Mb</text>
<line x1="41.300000000000004" y1="383.4" x2="42.300000000000004" y2="383.4" stroke="#666" stroke-width="0.4" />
<line x1="38.900000000000006" y1="391.7" x2="39.900000000000006" y2="391.7" stroke="#888" stroke-width="0.35" />
<text x="0" y="0" font-size="1.9" fill="#999" text-anchor="middle" font-family='"Liberation Sans", sans-serif' transform="translate(41.300000000000004,390.9) rotate(-90)">5.5 Mb</text>
<rect x="56.3" y="231.0" width="174.10000000000002" height="168.8" fill="#c0bfc8" stroke="none" stroke-width="1" />
<line x1="63.7" y1="231.0" x2="63.7" y2="399.8" stroke="#c8c7cf" stroke-width="0.7" opacity="0.45"/>
<line x1="74.5" y1="231.0" x2="74.5" y2="399.8" stroke="#c8c7cf" stroke-width="0.7" opacity="0.45"/>
<line x1="83.0" y1="231.0" x2="83.0" y2="399.8" stroke="#c8c7cf" stroke-width="0.7" opacity="0.45"/>
<line x1="91.0" y1="231.0" x2="91.0" y2="399.8" stroke="#c8c7cf" stroke-width="0.7" opacity="0.45"/>
<line x1="98.7" y1="231.0" x2="98.7" y2="399.8" stroke="#c8c7cf" stroke-width="0.7" opacity="0.45"/>
<line x1="109.7" y1="231.0" x2="109.7" y2="399.8" stroke="#c8c7cf" stroke-width="0.7" opacity="0.45"/>
<line x1="118.5" y1="231.0" x2="118.5" y2="399.8" stroke="#c8c7cf" stroke-width="0.7" opacity="0.45"/>
<line x1="126.0" y1="231.0" x2="126.0" y2="399.8" stroke="#c8c7cf" stroke-width="0.7" opacity="0.45"/>
<line x1="134.7" y1="231.0" x2="134.7" y2="399.8" stroke="#c8c7cf" stroke-width="0.7" opacity="0.45"/>
<line x1="142.3" y1="231.0" x2="142.3" y2="399.8" stroke="#c8c7cf" stroke-width="0.7" opacity="0.45"/>
<line x1="150.1" y1="231.0" x2="150.1" y2="399.8" stroke="#c8c7cf" stroke-width="0.7" opacity="0.45"/>
<line x1="160.2" y1="231.0" x2="160.2" y2="399.8" stroke="#c8c7cf" stroke-width="0.7" opacity="0.45"/>
<line x1="169.8" y1="231.0" x2="169.8" y2="399.8" stroke="#c8c7cf" stroke-width="0.7" opacity="0.45"/>
<line x1="176.4" y1="231.0" x2="176.4" y2="399.8" stroke="#c8c7cf" stroke-width="0.7" opacity="0.45"/>
<line x1="188.1" y1="231.0" x2="188.1" y2="399.8" stroke="#c8c7cf" stroke-width="0.7" opacity="0.45"/>
<line x1="194.5" y1="231.0" x2="194.5" y2="399.8" stroke="#c8c7cf" stroke-width="0.7" opacity="0.45"/>
<line x1="203.2" y1="231.0" x2="203.2" y2="399.8" stroke="#c8c7cf" stroke-width="0.7" opacity="0.45"/>
<line x1="211.2" y1="231.0" x2="211.2" y2="399.8" stroke="#c8c7cf" stroke-width="0.7" opacity="0.45"/>
<line x1="223.7" y1="231.0" x2="223.7" y2="399.8" stroke="#c8c7cf" stroke-width="0.7" opacity="0.45"/>
<line x1="56.3" y1="240.4" x2="230.4" y2="240.4" stroke="#b8b6c8" stroke-width="0.7" opacity="0.25"/>
<line x1="56.3" y1="249.4" x2="230.4" y2="249.4" stroke="#b8b6c8" stroke-width="0.7" opacity="0.25"/>
<line x1="56.3" y1="256.8" x2="230.4" y2="256.8" stroke="#b8b6c8" stroke-width="0.7" opacity="0.25"/>
<line x1="56.3" y1="262.9" x2="230.4" y2="262.9" stroke="#b8b6c8" stroke-width="0.7" opacity="0.25"/>
<line x1="56.3" y1="272.5" x2="230.4" y2="272.5" stroke="#b8b6c8" stroke-width="0.7" opacity="0.25"/>
<line x1="56.3" y1="281.6" x2="230.4" y2="281.6" stroke="#b8b6c8" stroke-width="0.7" opacity="0.25"/>
<line x1="56.3" y1="288.5" x2="230.4" y2="288.5" stroke="#b8b6c8" stroke-width="0.7" opacity="0.25"/>
<line x1="56.3" y1="300.3" x2="230.4" y2="300.3" stroke="#b8b6c8" stroke-width="0.7" opacity="0.25"/>
<line x1="56.3" y1="306.4" x2="230.4" y2="306.4" stroke="#b8b6c8" stroke-width="0.7" opacity="0.25"/>
<line x1="56.3" y1="314.0" x2="230.4" y2="314.0" stroke="#b8b6c8" stroke-width="0.7" opacity="0.25"/>
<line x1="56.3" y1="325.1" x2="230.4" y2="325.1" stroke="#b8b6c8" stroke-width="0.7" opacity="0.25"/>
<line x1="56.3" y1="330.8" x2="230.4" y2="330.8" stroke="#b8b6c8" stroke-width="0.7" opacity="0.25"/>
<line x1="56.3" y1="342.4" x2="230.4" y2="342.4" stroke="#b8b6c8" stroke-width="0.7" opacity="0.25"/>
<line x1="56.3" y1="349.0" x2="230.4" y2="349.0" stroke="#b8b6c8" stroke-width="0.7" opacity="0.25"/>
<line x1="56.3" y1="357.8" x2="230.4" y2="357.8" stroke="#b8b6c8" stroke-width="0.7" opacity="0.25"/>
<line x1="56.3" y1="365.4" x2="230.4" y2="365.4" stroke="#b8b6c8" stroke-width="0.7" opacity="0.25"/>
<line x1="56.3" y1="374.4" x2="230.4" y2="374.4" stroke="#b8b6c8" stroke-width="0.7" opacity="0.25"/>
<line x1="56.3" y1="381.7" x2="230.4" y2="381.7" stroke="#b8b6c8" stroke-width="0.7" opacity="0.25"/>
<line x1="56.3" y1="389.5" x2="230.4" y2="389.5" stroke="#b8b6c8" stroke-width="0.7" opacity="0.25"/>
<circle cx="205.6" cy="271.7" r="1.4" fill="#9c94d8" opacity="0.08"/>
<circle cx="223.1" cy="380.3" r="1.4" fill="#9c94d8" opacity="0.14"/>
<circle cx="157.1" cy="353.3" r="0.9" fill="#9c94d8" opacity="0.11"/>
<circle cx="199.0" cy="266.1" r="1.5" fill="#9c94d8" opacity="0.15"/>
<circle cx="128.0" cy="293.2" r="1.2" fill="#9c94d8" opacity="0.10"/>
<circle cx="227.5" cy="296.7" r="0.8" fill="#9c94d8" opacity="0.07"/>
<circle cx="180.4" cy="396.6" r="1.2" fill="#9c94d8" opacity="0.11"/>
<circle cx="151.9" cy="356.3" r="1.0" fill="#9c94d8" opacity="0.12"/>
<circle cx="153.0" cy="335.6" r="0.9" fill="#9c94d8" opacity="0.08"/>
<circle cx="117.5" cy="385.8" r="1.1" fill="#9c94d8" opacity="0.12"/>
<circle cx="110.5" cy="250.0" r="0.9" fill="#9c94d8" opacity="0.14"/>
<circle cx="190.5" cy="294.8" r="1.3" fill="#9c94d8" opacity="0.13"/>
<circle cx="211.2" cy="390.9" r="1.1" fill="#9c94d8" opacity="0.16"/>
<circle cx="221.8" cy="330.3" r="1.5" fill="#9c94d8" opacity="0.11"/>
<circle cx="122.2" cy="273.7" r="1.5" fill="#9c94d8" opacity="0.08"/>
<circle cx="70.1" cy="365.7" r="1.4" fill="#9c94d8" opacity="0.11"/>
<circle cx="200.7" cy="241.6" r="1.0" fill="#9c94d8" opacity="0.09"/>
<circle cx="129.7" cy="261.1" r="0.9" fill="#9c94d8" opacity="0.09"/>
<circle cx="211.2" cy="395.1" r="1.4" fill="#9c94d8" opacity="0.11"/>
<circle cx="101.2" cy="391.0" r="1.2" fill="#9c94d8" opacity="0.13"/>
<circle cx="63.1" cy="268.0" r="1.5" fill="#9c94d8" opacity="0.14"/>
<circle cx="208.2" cy="332.1" r="1.1" fill="#9c94d8" opacity="0.12"/>
<circle cx="202.8" cy="283.8" r="1.2" fill="#9c94d8" opacity="0.09"/>
<circle cx="189.0" cy="234.7" r="1.3" fill="#9c94d8" opacity="0.16"/>
<circle cx="62.3" cy="330.8" r="1.3" fill="#9c94d8" opacity="0.15"/>
<circle cx="157.7" cy="275.4" r="1.1" fill="#9c94d8" opacity="0.16"/>
<circle cx="212.3" cy="255.0" r="0.9" fill="#9c94d8" opacity="0.07"/>
<circle cx="62.6" cy="306.6" r="0.9" fill="#9c94d8" opacity="0.15"/>
<circle cx="169.8" cy="253.9" r="1.2" fill="#9c94d8" opacity="0.09"/>
<circle cx="142.3" cy="269.2" r="0.9" fill="#9c94d8" opacity="0.08"/>
<circle cx="122.6" cy="350.0" r="1.2" fill="#9c94d8" opacity="0.06"/>
<circle cx="179.2" cy="377.0" r="1.4" fill="#9c94d8" opacity="0.14"/>
<circle cx="59.6" cy="309.4" r="0.9" fill="#9c94d8" opacity="0.14"/>
<circle cx="88.1" cy="350.3" r="1.0" fill="#9c94d8" opacity="0.13"/>
<circle cx="111.6" cy="239.9" r="1.1" fill="#9c94d8" opacity="0.09"/>
<circle cx="211.5" cy="281.6" r="1.2" fill="#9c94d8" opacity="0.11"/>
<circle cx="219.6" cy="249.2" r="1.3" fill="#9c94d8" opacity="0.11"/>
<circle cx="183.3" cy="392.4" r="1.0" fill="#9c94d8" opacity="0.13"/>
<circle cx="147.7" cy="325.4" r="0.9" fill="#9c94d8" opacity="0.14"/>
<circle cx="224.5" cy="291.5" r="1.1" fill="#9c94d8" opacity="0.16"/>
<circle cx="76.6" cy="245.5" r="0.9" fill="#9c94d8" opacity="0.14"/>
<circle cx="187.6" cy="306.8" r="1.3" fill="#9c94d8" opacity="0.06"/>
<circle cx="168.0" cy="305.9" r="1.2" fill="#9c94d8" opacity="0.10"/>
<circle cx="126.6" cy="270.2" r="0.8" fill="#9c94d8" opacity="0.10"/>
<circle cx="100.3" cy="349.0" r="1.5" fill="#9c94d8" opacity="0.13"/>
<circle cx="135.9" cy="272.0" r="1.1" fill="#9c94d8" opacity="0.11"/>
<circle cx="165.8" cy="391.7" r="0.9" fill="#9c94d8" opacity="0.11"/>
<circle cx="142.0" cy="351.2" r="1.5" fill="#9c94d8" opacity="0.14"/>
<circle cx="164.9" cy="358.0" r="1.3" fill="#9c94d8" opacity="0.15"/>
<circle cx="177.2" cy="345.6" r="1.0" fill="#9c94d8" opacity="0.15"/>
<circle cx="124.0" cy="334.3" r="1.5" fill="#9c94d8" opacity="0.16"/>
<circle cx="226.6" cy="234.1" r="1.1" fill="#9c94d8" opacity="0.09"/>
<circle cx="124.8" cy="257.0" r="1.2" fill="#9c94d8" opacity="0.07"/>
<circle cx="109.8" cy="388.5" r="1.4" fill="#9c94d8" opacity="0.11"/>
<circle cx="76.7" cy="390.5" r="1.4" fill="#9c94d8" opacity="0.08"/>
<circle cx="115.3" cy="338.7" r="1.3" fill="#9c94d8" opacity="0.09"/>
<circle cx="220.1" cy="286.1" r="1.0" fill="#9c94d8" opacity="0.14"/>
<circle cx="84.4" cy="345.3" r="1.0" fill="#9c94d8" opacity="0.12"/>
<circle cx="105.5" cy="295.5" r="1.6" fill="#9c94d8" opacity="0.11"/>
<circle cx="132.6" cy="334.7" r="1.0" fill="#9c94d8" opacity="0.08"/>
<circle cx="123.7" cy="277.9" r="1.0" fill="#9c94d8" opacity="0.16"/>
<circle cx="64.1" cy="366.6" r="1.5" fill="#9c94d8" opacity="0.13"/>
<circle cx="61.5" cy="315.6" r="0.8" fill="#9c94d8" opacity="0.12"/>
<circle cx="177.4" cy="272.6" r="0.8" fill="#9c94d8" opacity="0.11"/>
<circle cx="74.4" cy="283.9" r="1.2" fill="#9c94d8" opacity="0.15"/>
<circle cx="121.2" cy="255.2" r="1.4" fill="#9c94d8" opacity="0.14"/>
<circle cx="148.4" cy="241.1" r="1.0" fill="#9c94d8" opacity="0.10"/>
<circle cx="152.2" cy="270.1" r="1.4" fill="#9c94d8" opacity="0.14"/>
<circle cx="215.7" cy="378.6" r="0.8" fill="#9c94d8" opacity="0.12"/>
<circle cx="72.0" cy="381.3" r="1.4" fill="#9c94d8" opacity="0.14"/>
<circle cx="90.3" cy="242.8" r="1.5" fill="#9c94d8" opacity="0.12"/>
<circle cx="163.8" cy="310.6" r="1.4" fill="#9c94d8" opacity="0.09"/>
<circle cx="104.2" cy="291.2" r="1.0" fill="#9c94d8" opacity="0.12"/>
<circle cx="209.7" cy="244.7" r="0.9" fill="#9c94d8" opacity="0.11"/>
<circle cx="173.6" cy="264.3" r="1.0" fill="#9c94d8" opacity="0.07"/>
<circle cx="64.6" cy="314.6" r="1.3" fill="#9c94d8" opacity="0.13"/>
<circle cx="85.2" cy="250.2" r="1.5" fill="#9c94d8" opacity="0.11"/>
<circle cx="127.8" cy="346.9" r="1.4" fill="#9c94d8" opacity="0.11"/>
<circle cx="71.6" cy="369.3" r="1.0" fill="#9c94d8" opacity="0.06"/>
<circle cx="118.2" cy="320.8" r="1.3" fill="#9c94d8" opacity="0.08"/>
<circle cx="179.0" cy="314.4" r="0.9" fill="#9c94d8" opacity="0.15"/>
<circle cx="195.5" cy="382.4" r="1.3" fill="#9c94d8" opacity="0.08"/>
<circle cx="190.6" cy="381.8" r="1.2" fill="#9c94d8" opacity="0.15"/>
<circle cx="223.3" cy="297.3" r="1.6" fill="#9c94d8" opacity="0.15"/>
<circle cx="193.3" cy="234.9" r="1.1" fill="#9c94d8" opacity="0.12"/>
<circle cx="161.6" cy="357.5" r="1.3" fill="#9c94d8" opacity="0.08"/>
<circle cx="216.6" cy="321.4" r="1.5" fill="#9c94d8" opacity="0.08"/>
<circle cx="228.1" cy="324.4" r="1.4" fill="#9c94d8" opacity="0.13"/>
<circle cx="208.5" cy="292.7" r="0.9" fill="#9c94d8" opacity="0.10"/>
<circle cx="88.6" cy="322.0" r="1.5" fill="#9c94d8" opacity="0.10"/>
<circle cx="80.6" cy="237.4" r="1.1" fill="#9c94d8" opacity="0.12"/>
<circle cx="62.8" cy="342.7" r="1.0" fill="#9c94d8" opacity="0.07"/>
<circle cx="216.1" cy="319.2" r="1.5" fill="#9c94d8" opacity="0.11"/>
<circle cx="79.2" cy="272.6" r="1.1" fill="#9c94d8" opacity="0.12"/>
<circle cx="189.4" cy="356.8" r="1.3" fill="#9c94d8" opacity="0.09"/>
<circle cx="131.5" cy="295.3" r="1.2" fill="#9c94d8" opacity="0.09"/>
<circle cx="149.8" cy="308.6" r="0.8" fill="#9c94d8" opacity="0.14"/>
<circle cx="158.1" cy="365.3" r="1.4" fill="#9c94d8" opacity="0.13"/>
<circle cx="227.3" cy="295.1" r="1.1" fill="#9c94d8" opacity="0.06"/>
<circle cx="171.3" cy="328.8" r="1.3" fill="#9c94d8" opacity="0.16"/>
<circle cx="91.8" cy="270.5" r="1.4" fill="#9c94d8" opacity="0.14"/>
<circle cx="140.4" cy="242.1" r="1.1" fill="#9c94d8" opacity="0.14"/>
<circle cx="143.3" cy="309.1" r="1.1" fill="#9c94d8" opacity="0.12"/>
<circle cx="160.1" cy="347.2" r="1.5" fill="#9c94d8" opacity="0.14"/>
<circle cx="122.1" cy="274.3" r="1.4" fill="#9c94d8" opacity="0.14"/>
<circle cx="216.2" cy="265.8" r="1.5" fill="#9c94d8" opacity="0.15"/>
<circle cx="71.4" cy="283.8" r="1.3" fill="#9c94d8" opacity="0.07"/>
<circle cx="199.7" cy="276.6" r="1.3" fill="#9c94d8" opacity="0.09"/>
<circle cx="95.4" cy="267.1" r="1.2" fill="#9c94d8" opacity="0.13"/>
<circle cx="95.4" cy="346.1" r="1.1" fill="#9c94d8" opacity="0.12"/>
<circle cx="120.9" cy="264.8" r="0.9" fill="#9c94d8" opacity="0.07"/>
<circle cx="176.7" cy="301.2" r="0.9" fill="#9c94d8" opacity="0.15"/>
<circle cx="169.7" cy="236.5" r="1.4" fill="#9c94d8" opacity="0.12"/>
<circle cx="133.8" cy="315.5" r="1.6" fill="#9c94d8" opacity="0.10"/>
<circle cx="166.5" cy="337.8" r="1.1" fill="#9c94d8" opacity="0.09"/>
<circle cx="186.7" cy="337.8" r="1.2" fill="#9c94d8" opacity="0.11"/>
<circle cx="96.3" cy="363.1" r="0.8" fill="#9c94d8" opacity="0.12"/>
<circle cx="135.7" cy="269.5" r="1.3" fill="#9c94d8" opacity="0.12"/>
<circle cx="73.1" cy="313.8" r="0.9" fill="#9c94d8" opacity="0.14"/>
<circle cx="113.9" cy="287.1" r="1.0" fill="#9c94d8" opacity="0.06"/>
<circle cx="90.1" cy="258.0" r="1.3" fill="#9c94d8" opacity="0.14"/>
<circle cx="95.9" cy="251.4" r="1.2" fill="#9c94d8" opacity="0.07"/>
<circle cx="127.2" cy="358.4" r="1.0" fill="#9c94d8" opacity="0.13"/>
<circle cx="149.9" cy="247.0" r="1.0" fill="#9c94d8" opacity="0.12"/>
<circle cx="74.7" cy="266.6" r="1.3" fill="#9c94d8" opacity="0.14"/>
<circle cx="146.8" cy="342.3" r="0.8" fill="#9c94d8" opacity="0.09"/>
<circle cx="112.4" cy="383.5" r="1.1" fill="#9c94d8" opacity="0.14"/>
<circle cx="64.1" cy="315.1" r="1.5" fill="#9c94d8" opacity="0.14"/>
<circle cx="156.9" cy="263.0" r="1.5" fill="#9c94d8" opacity="0.07"/>
<circle cx="222.4" cy="360.9" r="1.4" fill="#9c94d8" opacity="0.11"/>
<circle cx="86.2" cy="289.2" r="1.3" fill="#9c94d8" opacity="0.13"/>
<circle cx="124.5" cy="365.0" r="0.8" fill="#9c94d8" opacity="0.09"/>
<circle cx="73.7" cy="286.5" r="1.4" fill="#9c94d8" opacity="0.14"/>
<circle cx="83.7" cy="283.8" r="0.9" fill="#9c94d8" opacity="0.13"/>
<circle cx="133.6" cy="271.2" r="1.1" fill="#9c94d8" opacity="0.15"/>
<circle cx="130.6" cy="346.9" r="1.3" fill="#9c94d8" opacity="0.11"/>
<circle cx="152.9" cy="293.0" r="1.0" fill="#9c94d8" opacity="0.11"/>
<circle cx="110.1" cy="287.4" r="0.9" fill="#9c94d8" opacity="0.15"/>
<circle cx="130.7" cy="266.0" r="0.8" fill="#9c94d8" opacity="0.08"/>
<circle cx="206.0" cy="288.5" r="1.3" fill="#9c94d8" opacity="0.08"/>
<line x1="56.5" y1="230.4" x2="56.5" y2="399.8" stroke="#3a3a3a" stroke-width="0.9" />
<defs><filter id="blD" x="-10%" y="-10%" width="120%" height="120%"><feGaussianBlur stdDeviation="0.45"/></filter></defs>
<g filter="url(#blD)">
<polyline points="61.1,244.0 64.5,246.8 68.6,250.5 76.8,256.6 82.2,260.0 84.7,262.3 90.1,266.8 97.2,273.0 101.3,276.4 105.1,279.5 110.9,283.9 117.0,289.0 122.8,295.0 134.7,308.2 140.9,314.4 144.2,317.2 156.8,332.7 165.8,342.2 168.3,344.3 170.8,346.3 173.3,348.5 177.2,352.6 185.4,360.5 205.0,379.3 220.6,389.6 227.1,394.0" fill="none" stroke="#8e80e0" stroke-width="1.3" opacity="0.13"/>
<ellipse cx="61.1" cy="244.0" rx="1.56" ry="1.02" transform="rotate(42 61.1 244.0)" fill="#6a52e8" opacity="0.77"/>
<ellipse cx="64.5" cy="246.8" rx="1.95" ry="1.27" transform="rotate(42 64.5 246.8)" fill="#6a52e8" opacity="0.85"/>
<ellipse cx="68.6" cy="250.5" rx="1.56" ry="1.02" transform="rotate(42 68.6 250.5)" fill="#6a52e8" opacity="0.68"/>
<ellipse cx="76.8" cy="256.6" rx="1.30" ry="0.85" transform="rotate(42 76.8 256.6)" fill="#6a52e8" opacity="0.38"/>
<ellipse cx="82.2" cy="260.0" rx="1.69" ry="1.10" transform="rotate(42 82.2 260.0)" fill="#6a52e8" opacity="0.68"/>
<ellipse cx="84.7" cy="262.3" rx="2.47" ry="1.61" transform="rotate(42 84.7 262.3)" fill="#6a52e8" opacity="0.85"/>
<ellipse cx="90.1" cy="266.8" rx="1.69" ry="1.10" transform="rotate(42 90.1 266.8)" fill="#6a52e8" opacity="0.64"/>
<ellipse cx="97.2" cy="273.0" rx="1.56" ry="1.02" transform="rotate(42 97.2 273.0)" fill="#6a52e8" opacity="0.59"/>
<ellipse cx="101.3" cy="276.4" rx="2.34" ry="1.53" transform="rotate(42 101.3 276.4)" fill="#6a52e8" opacity="0.85"/>
<ellipse cx="105.1" cy="279.5" rx="1.95" ry="1.27" transform="rotate(42 105.1 279.5)" fill="#6a52e8" opacity="0.77"/>
<ellipse cx="110.9" cy="283.9" rx="1.30" ry="0.85" transform="rotate(42 110.9 283.9)" fill="#6a52e8" opacity="0.42"/>
<ellipse cx="117.0" cy="289.0" rx="2.47" ry="1.61" transform="rotate(42 117.0 289.0)" fill="#6a52e8" opacity="0.85"/>
<ellipse cx="122.8" cy="295.0" rx="1.82" ry="1.19" transform="rotate(42 122.8 295.0)" fill="#6a52e8" opacity="0.72"/>
<ellipse cx="134.7" cy="308.2" rx="3.12" ry="2.04" transform="rotate(42 134.7 308.2)" fill="#6a52e8" opacity="0.81"/>
<ellipse cx="140.9" cy="314.4" rx="1.82" ry="1.19" transform="rotate(42 140.9 314.4)" fill="#6a52e8" opacity="0.68"/>
<ellipse cx="144.2" cy="317.2" rx="1.56" ry="1.02" transform="rotate(42 144.2 317.2)" fill="#6a52e8" opacity="0.59"/>
<ellipse cx="156.8" cy="332.7" rx="1.30" ry="0.85" transform="rotate(42 156.8 332.7)" fill="#6a52e8" opacity="0.30"/>
<ellipse cx="165.8" cy="342.2" rx="2.60" ry="1.70" transform="rotate(42 165.8 342.2)" fill="#6a52e8" opacity="0.85"/>
<ellipse cx="168.3" cy="344.3" rx="2.60" ry="1.70" transform="rotate(42 168.3 344.3)" fill="#6a52e8" opacity="0.85"/>
<ellipse cx="170.8" cy="346.3" rx="2.60" ry="1.70" transform="rotate(42 170.8 346.3)" fill="#6a52e8" opacity="0.85"/>
<ellipse cx="173.3" cy="348.5" rx="2.47" ry="1.61" transform="rotate(42 173.3 348.5)" fill="#6a52e8" opacity="0.85"/>
<ellipse cx="177.2" cy="352.6" rx="1.69" ry="1.10" transform="rotate(42 177.2 352.6)" fill="#6a52e8" opacity="0.64"/>
<ellipse cx="185.4" cy="360.5" rx="1.30" ry="0.85" transform="rotate(42 185.4 360.5)" fill="#6a52e8" opacity="0.30"/>
<ellipse cx="205.0" cy="379.3" rx="1.95" ry="1.27" transform="rotate(42 205.0 379.3)" fill="#6a52e8" opacity="0.64"/>
<ellipse cx="220.6" cy="389.6" rx="1.82" ry="1.19" transform="rotate(42 220.6 389.6)" fill="#6a52e8" opacity="0.64"/>
<ellipse cx="227.1" cy="394.0" rx="1.69" ry="1.10" transform="rotate(42 227.1 394.0)" fill="#6a52e8" opacity="0.59"/>
</g>
<rect x="127.7" y="327.06" width="2.6" height="2.08" fill="#5234ee" stroke="none" stroke-width="1" opacity="0.63" filter="url(#blD)"/>
<rect x="155.0" y="327.06" width="2.6" height="2.08" fill="#5234ee" stroke="none" stroke-width="1" opacity="0.72" filter="url(#blD)"/>
<rect x="189.0" y="327.06" width="2.6" height="2.08" fill="#5234ee" stroke="none" stroke-width="1" opacity="0.85" filter="url(#blD)"/>
<rect x="206.8" y="327.14000000000004" width="2.4" height="1.92" fill="#5234ee" stroke="none" stroke-width="1" opacity="0.72" filter="url(#blD)"/>
<rect x="221.5" y="327.14000000000004" width="2.4" height="1.92" fill="#5234ee" stroke="none" stroke-width="1" opacity="0.72" filter="url(#blD)"/>
<rect x="197.1" y="337.78" width="2.8" height="2.2399999999999998" fill="#5234ee" stroke="none" stroke-width="1" opacity="0.77" filter="url(#blD)"/>
<rect x="197.3" y="356.64000000000004" width="2.4" height="1.92" fill="#5234ee" stroke="none" stroke-width="1" opacity="0.59" filter="url(#blD)"/>
<rect x="197.5" y="310.59999999999997" width="2.0" height="1.6" fill="#5234ee" stroke="none" stroke-width="1" opacity="0.27" filter="url(#blD)"/>
<rect x="54.2" y="406.1" width="178.3" height="12.0" fill="#f8f8f8" stroke="#d0d0d0" stroke-width="0.5" />
<line x1="55.300000000000004" y1="409.0" x2="138.70521008403364" y2="409.0" stroke="#9a9a9a" stroke-width="0.7" />
<line x1="147.49535014005605" y1="409.0" x2="231.8" y2="409.0" stroke="#9a9a9a" stroke-width="0.7" />
<path d="M55.2,409 L57.400000000000006,408 L57.400000000000006,410 Z" fill="#555" stroke="none" stroke-width="1" />
<path d="M231.9,409 L229.7,408 L229.7,410 Z" fill="#555" stroke="none" stroke-width="1" />
<text x="143.10028011204483" y="410.2" font-size="2.4" fill="#666" text-anchor="middle" font-family='"Liberation Sans", sans-serif' >20 kb</text>
<line x1="56.69719887955183" y1="414.6" x2="56.69719887955183" y2="416.0" stroke="#777" stroke-width="0.4" />
<line x1="65.48733893557424" y1="414.6" x2="65.48733893557424" y2="416.0" stroke="#777" stroke-width="0.4" />
<line x1="74.27747899159665" y1="414.6" x2="74.27747899159665" y2="416.0" stroke="#777" stroke-width="0.4" />
<line x1="83.06761904761906" y1="414.6" x2="83.06761904761906" y2="416.0" stroke="#777" stroke-width="0.4" />
<line x1="91.85775910364147" y1="414.6" x2="91.85775910364147" y2="416.0" stroke="#777" stroke-width="0.4" />
<line x1="100.64789915966388" y1="414.6" x2="100.64789915966388" y2="416.0" stroke="#777" stroke-width="0.4" />
<line x1="109.43803921568629" y1="414.6" x2="109.43803921568629" y2="416.0" stroke="#777" stroke-width="0.4" />
<line x1="118.22817927170871" y1="414.6" x2="118.22817927170871" y2="416.0" stroke="#777" stroke-width="0.4" />
<line x1="127.01831932773112" y1="414.6" x2="127.01831932773112" y2="416.0" stroke="#777" stroke-width="0.4" />
<line x1="135.80845938375353" y1="414.6" x2="135.80845938375353" y2="416.0" stroke="#777" stroke-width="0.4" />
<line x1="144.59859943977594" y1="414.6" x2="144.59859943977594" y2="416.0" stroke="#777" stroke-width="0.4" />
<line x1="153.38873949579835" y1="414.6" x2="153.38873949579835" y2="416.0" stroke="#777" stroke-width="0.4" />
<line x1="162.17887955182076" y1="414.6" x2="162.17887955182076" y2="416.0" stroke="#777" stroke-width="0.4" />
<line x1="170.96901960784317" y1="414.6" x2="170.96901960784317" y2="416.0" stroke="#777" stroke-width="0.4" />
<line x1="179.75915966386557" y1="414.6" x2="179.75915966386557" y2="416.0" stroke="#777" stroke-width="0.4" />
<line x1="188.54929971988798" y1="414.6" x2="188.54929971988798" y2="416.0" stroke="#777" stroke-width="0.4" />
<line x1="197.3394397759104" y1="414.6" x2="197.3394397759104" y2="416.0" stroke="#777" stroke-width="0.4" />
<line x1="206.1295798319328" y1="414.6" x2="206.1295798319328" y2="416.0" stroke="#777" stroke-width="0.4" />
<line x1="214.9197198879552" y1="414.6" x2="214.9197198879552" y2="416.0" stroke="#777" stroke-width="0.4" />
<line x1="223.70985994397762" y1="414.6" x2="223.70985994397762" y2="416.0" stroke="#777" stroke-width="0.4" />
<text x="65.28756302521009" y="413.6" font-size="2.3" fill="#777" text-anchor="middle" font-family='"Liberation Sans", sans-serif' >61.5 Mb</text>
<text x="82.96773109243698" y="413.6" font-size="2.3" fill="#777" text-anchor="middle" font-family='"Liberation Sans", sans-serif' >61.5 Mb</text>
<text x="100.64789915966387" y="413.6" font-size="2.3" fill="#777" text-anchor="middle" font-family='"Liberation Sans", sans-serif' >61.5 Mb</text>
<text x="118.32806722689077" y="413.6" font-size="2.3" fill="#777" text-anchor="middle" font-family='"Liberation Sans", sans-serif' >61.5 Mb</text>
<text x="136.00823529411764" y="413.6" font-size="2.3" fill="#777" text-anchor="middle" font-family='"Liberation Sans", sans-serif' >61.5 Mb</text>
<text x="153.68840336134457" y="413.6" font-size="2.3" fill="#777" text-anchor="middle" font-family='"Liberation Sans", sans-serif' >61.5 Mb</text>
<text x="171.36857142857144" y="413.6" font-size="2.3" fill="#777" text-anchor="middle" font-family='"Liberation Sans", sans-serif' >61.5 Mb</text>
<text x="189.04873949579832" y="413.6" font-size="2.3" fill="#777" text-anchor="middle" font-family='"Liberation Sans", sans-serif' >61.5 Mb</text>
<text x="206.72890756302522" y="413.6" font-size="2.3" fill="#777" text-anchor="middle" font-family='"Liberation Sans", sans-serif' >61.5 Mb</text>
<text x="224.40907563025212" y="413.6" font-size="2.3" fill="#777" text-anchor="middle" font-family='"Liberation Sans", sans-serif' >61.5 Mb</text>
<line x1="54.5" y1="416.5" x2="232.5" y2="416.5" stroke="#9a9a9a" stroke-width="0.9" />
<line x1="53.6" y1="418.6" x2="232.5" y2="418.6" stroke="#7a7a7a" stroke-width="1.0" />
<line x1="54.900000000000006" y1="421.2" x2="232.5" y2="421.2" stroke="#5a5aea" stroke-width="0.45" />
<rect x="60.39305322128852" y="419.9" width="1.3984313725490192" height="2.6" fill="#1e1edc" stroke="none" stroke-width="1" />
<rect x="63.18991596638656" y="419.9" width="1.39843137254902" height="2.6" fill="#1e1edc" stroke="none" stroke-width="1" />
<rect x="66.58610644257703" y="419.9" width="1.39843137254902" height="2.6" fill="#1e1edc" stroke="none" stroke-width="1" />
<rect x="81.16974789915967" y="419.9" width="0.9988795518207284" height="2.6" fill="#1e1edc" stroke="none" stroke-width="1" />
<rect x="83.96661064425771" y="420.2" width="20.776694677871152" height="2.0" fill="#1e1edc" stroke="none" stroke-width="1" />
<rect x="108.93859943977591" y="420.4" width="1.9977591036414568" height="1.6" fill="#1e1edc" stroke="none" stroke-width="1" />
<rect x="116.23042016806724" y="419.9" width="1.3984313725490183" height="2.6" fill="#1e1edc" stroke="none" stroke-width="1" />
<rect x="122.02392156862747" y="419.9" width="1.3984313725490112" height="2.6" fill="#1e1edc" stroke="none" stroke-width="1" />
<rect x="140.10364145658264" y="420.2" width="0.9988795518207284" height="2.0" fill="#1e1edc" stroke="none" stroke-width="1" />
<rect x="144.09915966386558" y="420.4" width="0.9988795518207284" height="1.6" fill="#1e1edc" stroke="none" stroke-width="1" />
<rect x="164.87585434173673" y="419.7" width="10.388347338935581" height="3.0" fill="#1e1edc" stroke="none" stroke-width="1" />
<rect x="175.26420168067227" y="420.3" width="6.193053221288519" height="1.8" fill="#1e1edc" stroke="none" stroke-width="1" />
<rect x="202.93316526610647" y="420.3" width="24.272773109243683" height="1.8" fill="#1e1edc" stroke="none" stroke-width="1" />
<rect x="230.20257703081234" y="419.9" width="1.3984313725490254" height="2.6" fill="#1e1edc" stroke="none" stroke-width="1" />
<text x="79.6969" y="427.6" font-size="5.8" fill="#222" text-anchor="middle" font-family='"Liberation Sans", sans-serif' >MYRF</text>
<text x="124.98510000000002" y="427.6" font-size="5.8" fill="#222" text-anchor="middle" font-family='"Liberation Sans", sans-serif' >TMEM258</text>
<text x="162.4281" y="427.6" font-size="5.8" fill="#222" text-anchor="middle" font-family='"Liberation Sans", sans-serif' >FEN1</text>
<text x="216.6313" y="427.6" font-size="5.8" fill="#222" text-anchor="middle" font-family='"Liberation Sans", sans-serif' >FADS1</text>
<text x="143.0" y="434.6" font-size="7.6" fill="#000" text-anchor="middle" font-family='"Liberation Sans", sans-serif' textLength="37.3" lengthAdjust="spacingAndGlyphs" >hg38 chr11</text>
<text x="244.8" y="218.3" font-size="14.6" fill="#000" text-anchor="start" font-family='"Liberation Sans", sans-serif' >E</text>
<text x="280.0" y="213.0" font-size="8.85" fill="#000" text-anchor="start" font-family='"Liberation Sans", sans-serif' textLength="89" lengthAdjust="spacingAndGlyphs" >gapped-kmer similarity</text>
<defs><linearGradient id="cbE" x1="0" x2="1" y1="0" y2="0"><stop offset="0" stop-color="#bdbcc8"/><stop offset="0.5" stop-color="#8c72e2"/><stop offset="1" stop-color="#2a0cf2"/></linearGradient></defs>
<rect x="371.5" y="204.0" width="60.6" height="11.8" fill="url(#cbE)" stroke="none" stroke-width="1" />
<line x1="401.8" y1="204" x2="401.8" y2="215.8" stroke="#ffffff" stroke-width="0.4" opacity="0.6"/>
<text x="371.5" y="225.2" font-size="7.0" fill="#222" text-anchor="middle" font-family='"Liberation Sans", sans-serif' >0.0</text>
<text x="401.8" y="225.2" font-size="7.0" fill="#222" text-anchor="middle" font-family='"Liberation Sans", sans-serif' >0.3</text>
<text x="432.1" y="225.2" font-size="7.0" fill="#222" text-anchor="middle" font-family='"Liberation Sans", sans-serif' >0.6</text>
<text x="250.0" y="225.7" font-size="7.6" fill="#000" text-anchor="start" font-family='"Liberation Sans", sans-serif' textLength="42" lengthAdjust="spacingAndGlyphs" >mm10 chr19</text>
<rect x="250.0" y="227.5" width="21.0" height="175.2" fill="#f9f9f9" stroke="#d0d0d0" stroke-width="0.5" />
<line x1="251.2" y1="228.0" x2="251.2" y2="402.2" stroke="#333" stroke-width="0.5" />
<line x1="260.0" y1="227.5" x2="260.0" y2="402.7" stroke="#999" stroke-width="0.45" />
<line x1="260.8" y1="227.5" x2="260.8" y2="402.7" stroke="#bbb" stroke-width="0.4" />
<line x1="263.3" y1="228.5" x2="263.3" y2="401.7" stroke="#4a4ae8" stroke-width="0.4" />
<rect x="262.15000000000003" y="227.5" width="2.3" height="1.5" fill="#1f1fdd" stroke="none" stroke-width="1" />
<rect x="262.15000000000003" y="241.2" width="2.3" height="1.1000000000000014" fill="#1f1fdd" stroke="none" stroke-width="1" />
<rect x="262.15000000000003" y="243.9" width="2.3" height="1.4000000000000004" fill="#1f1fdd" stroke="none" stroke-width="1" />
<rect x="262.15000000000003" y="247.7" width="2.3" height="1.1000000000000014" fill="#1f1fdd" stroke="none" stroke-width="1" />
<rect x="262.15000000000003" y="258.2" width="2.3" height="0.9000000000000021" fill="#1f1fdd" stroke="none" stroke-width="1" />
<rect x="262.15000000000003" y="259.1" width="2.3" height="18.799999999999997" fill="#1f1fdd" stroke="none" stroke-width="1" />
<rect x="262.15000000000003" y="282.0" width="2.3" height="1.3999999999999986" fill="#1f1fdd" stroke="none" stroke-width="1" />
<rect x="262.15000000000003" y="286.4" width="2.3" height="1.1000000000000014" fill="#1f1fdd" stroke="none" stroke-width="1" />
<rect x="262.15000000000003" y="292.9" width="2.3" height="1.3000000000000043" fill="#1f1fdd" stroke="none" stroke-width="1" />
<rect x="262.15000000000003" y="311.9" width="2.3" height="1.5999999999999943" fill="#1f1fdd" stroke="none" stroke-width="1" />
<rect x="262.15000000000003" y="319.5" width="2.3" height="1" fill="#1f1fdd" stroke="none" stroke-width="1" />
<rect x="262.15000000000003" y="325.5" width="2.3" height="1" fill="#1f1fdd" stroke="none" stroke-width="1" />
<rect x="262.15000000000003" y="339.5" width="2.3" height="1" fill="#1f1fdd" stroke="none" stroke-width="1" />
<rect x="262.15000000000003" y="342.5" width="2.3" height="11" fill="#1f1fdd" stroke="none" stroke-width="1" />
<rect x="262.15000000000003" y="355.5" width="2.3" height="1" fill="#1f1fdd" stroke="none" stroke-width="1" />
<rect x="262.15000000000003" y="377.0" width="2.3" height="17.0" fill="#1f1fdd" stroke="none" stroke-width="1" />
<rect x="262.15000000000003" y="395.5" width="2.3" height="1" fill="#1f1fdd" stroke="none" stroke-width="1" />
<rect x="262.15000000000003" y="398.0" width="2.3" height="1.0" fill="#1f1fdd" stroke="none" stroke-width="1" />
<text x="0" y="0" font-size="5.6" fill="#222" text-anchor="middle" font-family='"Liberation Sans", sans-serif' transform="translate(269.4,252.0) rotate(-90)">Myrf</text>
<text x="0" y="0" font-size="5.6" fill="#222" text-anchor="middle" font-family='"Liberation Sans", sans-serif' transform="translate(269.4,297.5) rotate(-90)">Tmem258</text>
<text x="0" y="0" font-size="5.6" fill="#222" text-anchor="middle" font-family='"Liberation Sans", sans-serif' transform="translate(269.4,335.5) rotate(-90)">Fen1</text>
<text x="0" y="0" font-size="5.6" fill="#222" text-anchor="middle" font-family='"Liberation Sans", sans-serif' transform="translate(269.4,385.5) rotate(-90)">Fads1</text>
<line x1="255.6" y1="232.5" x2="256.6" y2="232.5" stroke="#666" stroke-width="0.4" />
<line x1="253.2" y1="240.8" x2="254.2" y2="240.8" stroke="#888" stroke-width="0.35" />
<text x="0" y="0" font-size="1.9" fill="#999" text-anchor="middle" font-family='"Liberation Sans", sans-serif' transform="translate(255.6,240.0) rotate(-90)">5.5 Mb</text>
<line x1="255.6" y1="249.1" x2="256.6" y2="249.1" stroke="#666" stroke-width="0.4" />
<line x1="253.2" y1="257.4" x2="254.2" y2="257.4" stroke="#888" stroke-width="0.35" />
<text x="0" y="0" font-size="1.9" fill="#999" text-anchor="middle" font-family='"Liberation Sans", sans-serif' transform="translate(255.6,256.6) rotate(-90)">5.5 Mb</text>
<line x1="255.6" y1="265.7" x2="256.6" y2="265.7" stroke="#666" stroke-width="0.4" />
<line x1="253.2" y1="274.0" x2="254.2" y2="274.0" stroke="#888" stroke-width="0.35" />
<text x="0" y="0" font-size="1.9" fill="#999" text-anchor="middle" font-family='"Liberation Sans", sans-serif' transform="translate(255.6,273.2) rotate(-90)">5.5 Mb</text>
<line x1="255.6" y1="282.3" x2="256.6" y2="282.3" stroke="#666" stroke-width="0.4" />
<line x1="253.2" y1="290.6" x2="254.2" y2="290.6" stroke="#888" stroke-width="0.35" />
<text x="0" y="0" font-size="1.9" fill="#999" text-anchor="middle" font-family='"Liberation Sans", sans-serif' transform="translate(255.6,289.8) rotate(-90)">5.5 Mb</text>
<line x1="255.6" y1="298.9" x2="256.6" y2="298.9" stroke="#666" stroke-width="0.4" />
<line x1="253.2" y1="307.2" x2="254.2" y2="307.2" stroke="#888" stroke-width="0.35" />
<text x="0" y="0" font-size="1.9" fill="#999" text-anchor="middle" font-family='"Liberation Sans", sans-serif' transform="translate(255.6,306.4) rotate(-90)">5.5 Mb</text>
<line x1="255.6" y1="315.5" x2="256.6" y2="315.5" stroke="#666" stroke-width="0.4" />
<line x1="253.2" y1="323.8" x2="254.2" y2="323.8" stroke="#888" stroke-width="0.35" />
<text x="0" y="0" font-size="1.9" fill="#999" text-anchor="middle" font-family='"Liberation Sans", sans-serif' transform="translate(255.6,323.0) rotate(-90)">5.5 Mb</text>
<line x1="255.6" y1="332.1" x2="256.6" y2="332.1" stroke="#666" stroke-width="0.4" />
<line x1="253.2" y1="340.40000000000003" x2="254.2" y2="340.40000000000003" stroke="#888" stroke-width="0.35" />
<text x="0" y="0" font-size="1.9" fill="#999" text-anchor="middle" font-family='"Liberation Sans", sans-serif' transform="translate(255.6,339.6) rotate(-90)">5.5 Mb</text>
<line x1="255.6" y1="348.70000000000005" x2="256.6" y2="348.70000000000005" stroke="#666" stroke-width="0.4" />
<line x1="253.2" y1="357.00000000000006" x2="254.2" y2="357.00000000000006" stroke="#888" stroke-width="0.35" />
<text x="0" y="0" font-size="1.9" fill="#999" text-anchor="middle" font-family='"Liberation Sans", sans-serif' transform="translate(255.6,356.20000000000005) rotate(-90)">5.5 Mb</text>
<line x1="255.6" y1="365.3" x2="256.6" y2="365.3" stroke="#666" stroke-width="0.4" />
<line x1="253.2" y1="373.6" x2="254.2" y2="373.6" stroke="#888" stroke-width="0.35" />
<text x="0" y="0" font-size="1.9" fill="#999" text-anchor="middle" font-family='"Liberation Sans", sans-serif' transform="translate(255.6,372.8) rotate(-90)">5.5 Mb</text>
<line x1="255.6" y1="381.9" x2="256.6" y2="381.9" stroke="#666" stroke-width="0.4" />
<line x1="253.2" y1="390.2" x2="254.2" y2="390.2" stroke="#888" stroke-width="0.35" />
<text x="0" y="0" font-size="1.9" fill="#999" text-anchor="middle" font-family='"Liberation Sans", sans-serif' transform="translate(255.6,389.4) rotate(-90)">5.5 Mb</text>
<rect x="271.0" y="229.5" width="176.0" height="171.2" fill="#c0bfc8" stroke="none" stroke-width="1" />
<line x1="280.1" y1="229.5" x2="280.1" y2="400.7" stroke="#c8c7cf" stroke-width="0.7" opacity="0.45"/>
<line x1="289.1" y1="229.5" x2="289.1" y2="400.7" stroke="#c8c7cf" stroke-width="0.7" opacity="0.45"/>
<line x1="298.7" y1="229.5" x2="298.7" y2="400.7" stroke="#c8c7cf" stroke-width="0.7" opacity="0.45"/>
<line x1="305.3" y1="229.5" x2="305.3" y2="400.7" stroke="#c8c7cf" stroke-width="0.7" opacity="0.45"/>
<line x1="315.6" y1="229.5" x2="315.6" y2="400.7" stroke="#c8c7cf" stroke-width="0.7" opacity="0.45"/>
<line x1="325.4" y1="229.5" x2="325.4" y2="400.7" stroke="#c8c7cf" stroke-width="0.7" opacity="0.45"/>
<line x1="334.2" y1="229.5" x2="334.2" y2="400.7" stroke="#c8c7cf" stroke-width="0.7" opacity="0.45"/>
<line x1="340.1" y1="229.5" x2="340.1" y2="400.7" stroke="#c8c7cf" stroke-width="0.7" opacity="0.45"/>
<line x1="350.8" y1="229.5" x2="350.8" y2="400.7" stroke="#c8c7cf" stroke-width="0.7" opacity="0.45"/>
<line x1="359.5" y1="229.5" x2="359.5" y2="400.7" stroke="#c8c7cf" stroke-width="0.7" opacity="0.45"/>
<line x1="367.8" y1="229.5" x2="367.8" y2="400.7" stroke="#c8c7cf" stroke-width="0.7" opacity="0.45"/>
<line x1="378.5" y1="229.5" x2="378.5" y2="400.7" stroke="#c8c7cf" stroke-width="0.7" opacity="0.45"/>
<line x1="385.5" y1="229.5" x2="385.5" y2="400.7" stroke="#c8c7cf" stroke-width="0.7" opacity="0.45"/>
<line x1="394.0" y1="229.5" x2="394.0" y2="400.7" stroke="#c8c7cf" stroke-width="0.7" opacity="0.45"/>
<line x1="404.8" y1="229.5" x2="404.8" y2="400.7" stroke="#c8c7cf" stroke-width="0.7" opacity="0.45"/>
<line x1="412.3" y1="229.5" x2="412.3" y2="400.7" stroke="#c8c7cf" stroke-width="0.7" opacity="0.45"/>
<line x1="419.8" y1="229.5" x2="419.8" y2="400.7" stroke="#c8c7cf" stroke-width="0.7" opacity="0.45"/>
<line x1="428.6" y1="229.5" x2="428.6" y2="400.7" stroke="#c8c7cf" stroke-width="0.7" opacity="0.45"/>
<line x1="438.2" y1="229.5" x2="438.2" y2="400.7" stroke="#c8c7cf" stroke-width="0.7" opacity="0.45"/>
<line x1="271.0" y1="236.3" x2="447.0" y2="236.3" stroke="#b8b6c8" stroke-width="0.7" opacity="0.25"/>
<line x1="271.0" y1="247.1" x2="447.0" y2="247.1" stroke="#b8b6c8" stroke-width="0.7" opacity="0.25"/>
<line x1="271.0" y1="256.1" x2="447.0" y2="256.1" stroke="#b8b6c8" stroke-width="0.7" opacity="0.25"/>
<line x1="271.0" y1="263.4" x2="447.0" y2="263.4" stroke="#b8b6c8" stroke-width="0.7" opacity="0.25"/>
<line x1="271.0" y1="273.7" x2="447.0" y2="273.7" stroke="#b8b6c8" stroke-width="0.7" opacity="0.25"/>
<line x1="271.0" y1="282.6" x2="447.0" y2="282.6" stroke="#b8b6c8" stroke-width="0.7" opacity="0.25"/>
<line x1="271.0" y1="289.6" x2="447.0" y2="289.6" stroke="#b8b6c8" stroke-width="0.7" opacity="0.25"/>
<line x1="271.0" y1="298.7" x2="447.0" y2="298.7" stroke="#b8b6c8" stroke-width="0.7" opacity="0.25"/>
<line x1="271.0" y1="305.0" x2="447.0" y2="305.0" stroke="#b8b6c8" stroke-width="0.7" opacity="0.25"/>
<line x1="271.0" y1="313.3" x2="447.0" y2="313.3" stroke="#b8b6c8" stroke-width="0.7" opacity="0.25"/>
<line x1="271.0" y1="325.6" x2="447.0" y2="325.6" stroke="#b8b6c8" stroke-width="0.7" opacity="0.25"/>
<line x1="271.0" y1="331.4" x2="447.0" y2="331.4" stroke="#b8b6c8" stroke-width="0.7" opacity="0.25"/>
<line x1="271.0" y1="339.6" x2="447.0" y2="339.6" stroke="#b8b6c8" stroke-width="0.7" opacity="0.25"/>
<line x1="271.0" y1="350.9" x2="447.0" y2="350.9" stroke="#b8b6c8" stroke-width="0.7" opacity="0.25"/>
<line x1="271.0" y1="358.9" x2="447.0" y2="358.9" stroke="#b8b6c8" stroke-width="0.7" opacity="0.25"/>
<line x1="271.0" y1="365.0" x2="447.0" y2="365.0" stroke="#b8b6c8" stroke-width="0.7" opacity="0.25"/>
<line x1="271.0" y1="374.3" x2="447.0" y2="374.3" stroke="#b8b6c8" stroke-width="0.7" opacity="0.25"/>
<line x1="271.0" y1="382.6" x2="447.0" y2="382.6" stroke="#b8b6c8" stroke-width="0.7" opacity="0.25"/>
<line x1="271.0" y1="391.2" x2="447.0" y2="391.2" stroke="#b8b6c8" stroke-width="0.7" opacity="0.25"/>
<circle cx="274.1" cy="319.2" r="1.0" fill="#9c94d8" opacity="0.10"/>
<circle cx="304.9" cy="249.9" r="0.8" fill="#9c94d8" opacity="0.15"/>
<circle cx="401.5" cy="325.1" r="0.9" fill="#9c94d8" opacity="0.07"/>
<circle cx="293.6" cy="284.4" r="0.8" fill="#9c94d8" opacity="0.09"/>
<circle cx="307.9" cy="263.7" r="1.3" fill="#9c94d8" opacity="0.11"/>
<circle cx="354.4" cy="291.4" r="1.2" fill="#9c94d8" opacity="0.14"/>
<circle cx="326.0" cy="243.2" r="1.2" fill="#9c94d8" opacity="0.10"/>
<circle cx="407.2" cy="250.1" r="1.5" fill="#9c94d8" opacity="0.06"/>
<circle cx="366.3" cy="305.7" r="1.1" fill="#9c94d8" opacity="0.15"/>
<circle cx="393.8" cy="258.8" r="1.2" fill="#9c94d8" opacity="0.12"/>
<circle cx="278.8" cy="246.1" r="1.3" fill="#9c94d8" opacity="0.13"/>
<circle cx="352.6" cy="302.1" r="1.2" fill="#9c94d8" opacity="0.09"/>
<circle cx="423.8" cy="392.3" r="1.2" fill="#9c94d8" opacity="0.06"/>
<circle cx="341.3" cy="365.8" r="1.1" fill="#9c94d8" opacity="0.07"/>
<circle cx="304.9" cy="350.5" r="1.3" fill="#9c94d8" opacity="0.09"/>
<circle cx="380.3" cy="358.7" r="1.6" fill="#9c94d8" opacity="0.14"/>
<circle cx="347.6" cy="366.9" r="1.5" fill="#9c94d8" opacity="0.15"/>
<circle cx="402.1" cy="329.6" r="1.2" fill="#9c94d8" opacity="0.15"/>
<circle cx="380.5" cy="352.1" r="1.0" fill="#9c94d8" opacity="0.07"/>
<circle cx="319.5" cy="329.0" r="1.3" fill="#9c94d8" opacity="0.08"/>
<circle cx="305.4" cy="390.4" r="0.9" fill="#9c94d8" opacity="0.15"/>
<circle cx="405.8" cy="327.4" r="1.6" fill="#9c94d8" opacity="0.13"/>
<circle cx="274.2" cy="388.5" r="1.1" fill="#9c94d8" opacity="0.15"/>
<circle cx="413.0" cy="254.6" r="0.8" fill="#9c94d8" opacity="0.06"/>
<circle cx="407.3" cy="363.8" r="1.0" fill="#9c94d8" opacity="0.07"/>
<circle cx="336.0" cy="365.1" r="1.4" fill="#9c94d8" opacity="0.15"/>
<circle cx="439.5" cy="357.7" r="1.5" fill="#9c94d8" opacity="0.06"/>
<circle cx="274.1" cy="375.7" r="1.3" fill="#9c94d8" opacity="0.09"/>
<circle cx="295.1" cy="287.1" r="1.1" fill="#9c94d8" opacity="0.11"/>
<circle cx="350.4" cy="265.3" r="0.9" fill="#9c94d8" opacity="0.08"/>
<circle cx="295.1" cy="248.3" r="1.1" fill="#9c94d8" opacity="0.07"/>
<circle cx="410.6" cy="322.6" r="1.2" fill="#9c94d8" opacity="0.12"/>
<circle cx="313.4" cy="235.4" r="0.9" fill="#9c94d8" opacity="0.09"/>
<circle cx="335.1" cy="273.7" r="1.0" fill="#9c94d8" opacity="0.14"/>
<circle cx="274.5" cy="306.6" r="1.1" fill="#9c94d8" opacity="0.09"/>
<circle cx="397.7" cy="269.0" r="0.8" fill="#9c94d8" opacity="0.08"/>
<circle cx="441.3" cy="289.3" r="0.9" fill="#9c94d8" opacity="0.16"/>
<circle cx="383.9" cy="391.4" r="1.1" fill="#9c94d8" opacity="0.14"/>
<circle cx="280.1" cy="271.2" r="1.4" fill="#9c94d8" opacity="0.11"/>
<circle cx="408.8" cy="296.0" r="1.5" fill="#9c94d8" opacity="0.07"/>
<circle cx="380.2" cy="263.0" r="1.0" fill="#9c94d8" opacity="0.15"/>
<circle cx="347.0" cy="367.4" r="1.0" fill="#9c94d8" opacity="0.13"/>
<circle cx="429.1" cy="336.3" r="1.0" fill="#9c94d8" opacity="0.13"/>
<circle cx="436.5" cy="365.5" r="1.2" fill="#9c94d8" opacity="0.10"/>
<circle cx="290.0" cy="360.0" r="0.9" fill="#9c94d8" opacity="0.08"/>
<circle cx="278.7" cy="258.9" r="1.1" fill="#9c94d8" opacity="0.11"/>
<circle cx="303.1" cy="302.5" r="1.4" fill="#9c94d8" opacity="0.07"/>
<circle cx="296.3" cy="318.8" r="1.5" fill="#9c94d8" opacity="0.15"/>
<circle cx="370.9" cy="246.8" r="1.5" fill="#9c94d8" opacity="0.16"/>
<circle cx="427.7" cy="320.3" r="1.1" fill="#9c94d8" opacity="0.12"/>
<circle cx="409.0" cy="397.7" r="1.2" fill="#9c94d8" opacity="0.11"/>
<circle cx="326.4" cy="321.8" r="1.2" fill="#9c94d8" opacity="0.09"/>
<circle cx="351.8" cy="384.6" r="1.0" fill="#9c94d8" opacity="0.09"/>
<circle cx="325.4" cy="375.0" r="1.0" fill="#9c94d8" opacity="0.14"/>
<circle cx="432.8" cy="377.9" r="1.4" fill="#9c94d8" opacity="0.08"/>
<circle cx="350.5" cy="369.1" r="1.0" fill="#9c94d8" opacity="0.12"/>
<circle cx="422.8" cy="387.6" r="1.1" fill="#9c94d8" opacity="0.07"/>
<circle cx="278.3" cy="284.4" r="1.2" fill="#9c94d8" opacity="0.09"/>
<circle cx="414.7" cy="340.2" r="1.3" fill="#9c94d8" opacity="0.14"/>
<circle cx="329.5" cy="340.2" r="1.1" fill="#9c94d8" opacity="0.09"/>
<circle cx="292.7" cy="363.4" r="1.5" fill="#9c94d8" opacity="0.06"/>
<circle cx="396.2" cy="241.9" r="1.1" fill="#9c94d8" opacity="0.09"/>
<circle cx="428.3" cy="303.9" r="1.2" fill="#9c94d8" opacity="0.10"/>
<circle cx="316.8" cy="272.2" r="0.8" fill="#9c94d8" opacity="0.06"/>
<circle cx="367.6" cy="355.0" r="1.3" fill="#9c94d8" opacity="0.09"/>
<circle cx="443.0" cy="244.7" r="1.1" fill="#9c94d8" opacity="0.09"/>
<circle cx="303.8" cy="392.2" r="1.4" fill="#9c94d8" opacity="0.07"/>
<circle cx="303.4" cy="366.9" r="1.1" fill="#9c94d8" opacity="0.09"/>
<circle cx="324.0" cy="285.9" r="1.3" fill="#9c94d8" opacity="0.09"/>
<circle cx="374.8" cy="242.1" r="1.2" fill="#9c94d8" opacity="0.12"/>
<circle cx="328.0" cy="376.6" r="1.5" fill="#9c94d8" opacity="0.13"/>
<circle cx="343.8" cy="259.2" r="1.3" fill="#9c94d8" opacity="0.09"/>
<circle cx="301.4" cy="320.5" r="1.0" fill="#9c94d8" opacity="0.12"/>
<circle cx="403.7" cy="233.5" r="1.3" fill="#9c94d8" opacity="0.08"/>
<circle cx="331.0" cy="352.4" r="1.6" fill="#9c94d8" opacity="0.09"/>
<circle cx="402.8" cy="289.5" r="1.6" fill="#9c94d8" opacity="0.08"/>
<circle cx="387.4" cy="245.4" r="1.2" fill="#9c94d8" opacity="0.13"/>
<circle cx="430.1" cy="359.5" r="1.2" fill="#9c94d8" opacity="0.10"/>
<circle cx="381.4" cy="339.9" r="1.3" fill="#9c94d8" opacity="0.13"/>
<circle cx="401.2" cy="388.2" r="1.3" fill="#9c94d8" opacity="0.15"/>
<circle cx="400.3" cy="295.1" r="1.4" fill="#9c94d8" opacity="0.10"/>
<circle cx="415.5" cy="378.5" r="1.5" fill="#9c94d8" opacity="0.15"/>
<circle cx="392.1" cy="314.8" r="1.0" fill="#9c94d8" opacity="0.12"/>
<circle cx="426.5" cy="291.4" r="1.0" fill="#9c94d8" opacity="0.14"/>
<circle cx="429.4" cy="266.0" r="0.9" fill="#9c94d8" opacity="0.07"/>
<circle cx="367.9" cy="370.6" r="1.0" fill="#9c94d8" opacity="0.14"/>
<circle cx="281.0" cy="266.5" r="1.2" fill="#9c94d8" opacity="0.14"/>
<circle cx="357.9" cy="346.5" r="1.1" fill="#9c94d8" opacity="0.10"/>
<circle cx="362.6" cy="231.8" r="1.0" fill="#9c94d8" opacity="0.10"/>
<circle cx="385.9" cy="264.4" r="1.0" fill="#9c94d8" opacity="0.16"/>
<circle cx="384.9" cy="300.2" r="1.4" fill="#9c94d8" opacity="0.13"/>
<circle cx="413.5" cy="324.9" r="1.3" fill="#9c94d8" opacity="0.07"/>
<circle cx="346.7" cy="297.1" r="1.0" fill="#9c94d8" opacity="0.10"/>
<circle cx="425.4" cy="268.7" r="0.9" fill="#9c94d8" opacity="0.09"/>
<circle cx="302.1" cy="235.4" r="1.5" fill="#9c94d8" opacity="0.11"/>
<circle cx="277.6" cy="320.3" r="0.9" fill="#9c94d8" opacity="0.11"/>
<circle cx="435.5" cy="395.1" r="1.1" fill="#9c94d8" opacity="0.14"/>
<circle cx="357.8" cy="244.9" r="1.1" fill="#9c94d8" opacity="0.14"/>
<circle cx="406.8" cy="352.4" r="1.6" fill="#9c94d8" opacity="0.10"/>
<circle cx="393.8" cy="368.3" r="1.5" fill="#9c94d8" opacity="0.15"/>
<circle cx="423.1" cy="288.4" r="1.1" fill="#9c94d8" opacity="0.12"/>
<circle cx="293.6" cy="283.0" r="1.1" fill="#9c94d8" opacity="0.08"/>
<circle cx="304.9" cy="340.6" r="1.0" fill="#9c94d8" opacity="0.07"/>
<circle cx="410.3" cy="389.7" r="1.0" fill="#9c94d8" opacity="0.13"/>
<circle cx="287.3" cy="268.4" r="0.9" fill="#9c94d8" opacity="0.12"/>
<circle cx="369.1" cy="368.9" r="1.3" fill="#9c94d8" opacity="0.14"/>
<circle cx="423.4" cy="329.0" r="1.0" fill="#9c94d8" opacity="0.08"/>
<circle cx="420.3" cy="368.7" r="1.3" fill="#9c94d8" opacity="0.16"/>
<circle cx="412.2" cy="298.9" r="0.9" fill="#9c94d8" opacity="0.10"/>
<circle cx="430.8" cy="380.1" r="0.8" fill="#9c94d8" opacity="0.06"/>
<circle cx="349.8" cy="383.6" r="1.5" fill="#9c94d8" opacity="0.14"/>
<circle cx="284.9" cy="265.9" r="1.4" fill="#9c94d8" opacity="0.10"/>
<circle cx="327.9" cy="392.1" r="0.8" fill="#9c94d8" opacity="0.11"/>
<circle cx="424.8" cy="348.7" r="1.5" fill="#9c94d8" opacity="0.09"/>
<circle cx="369.4" cy="395.2" r="0.9" fill="#9c94d8" opacity="0.10"/>
<circle cx="443.5" cy="258.3" r="1.4" fill="#9c94d8" opacity="0.13"/>
<circle cx="317.3" cy="397.0" r="1.4" fill="#9c94d8" opacity="0.07"/>
<circle cx="443.3" cy="379.1" r="1.2" fill="#9c94d8" opacity="0.06"/>
<circle cx="407.9" cy="329.3" r="1.4" fill="#9c94d8" opacity="0.07"/>
<circle cx="355.5" cy="366.6" r="1.4" fill="#9c94d8" opacity="0.08"/>
<circle cx="329.7" cy="307.5" r="1.2" fill="#9c94d8" opacity="0.16"/>
<circle cx="433.6" cy="231.8" r="1.3" fill="#9c94d8" opacity="0.07"/>
<circle cx="421.7" cy="319.7" r="1.5" fill="#9c94d8" opacity="0.15"/>
<circle cx="433.7" cy="259.7" r="0.9" fill="#9c94d8" opacity="0.14"/>
<circle cx="353.0" cy="361.5" r="1.2" fill="#9c94d8" opacity="0.10"/>
<circle cx="399.3" cy="293.1" r="1.2" fill="#9c94d8" opacity="0.10"/>
<circle cx="389.1" cy="243.4" r="1.2" fill="#9c94d8" opacity="0.12"/>
<circle cx="390.8" cy="382.3" r="1.1" fill="#9c94d8" opacity="0.16"/>
<circle cx="393.9" cy="295.6" r="1.2" fill="#9c94d8" opacity="0.10"/>
<circle cx="385.3" cy="235.7" r="1.5" fill="#9c94d8" opacity="0.10"/>
<circle cx="275.0" cy="245.9" r="1.1" fill="#9c94d8" opacity="0.09"/>
<circle cx="417.1" cy="294.4" r="1.5" fill="#9c94d8" opacity="0.09"/>
<circle cx="332.3" cy="390.6" r="1.5" fill="#9c94d8" opacity="0.15"/>
<circle cx="292.7" cy="243.0" r="1.4" fill="#9c94d8" opacity="0.09"/>
<circle cx="291.0" cy="247.0" r="1.1" fill="#9c94d8" opacity="0.09"/>
<circle cx="387.2" cy="396.9" r="0.9" fill="#9c94d8" opacity="0.14"/>
<circle cx="375.2" cy="376.4" r="1.6" fill="#9c94d8" opacity="0.15"/>
<circle cx="295.7" cy="355.0" r="1.4" fill="#9c94d8" opacity="0.10"/>
<circle cx="278.5" cy="358.6" r="1.3" fill="#9c94d8" opacity="0.14"/>
<circle cx="403.0" cy="354.4" r="0.8" fill="#9c94d8" opacity="0.15"/>
<defs><filter id="blE" x="-10%" y="-10%" width="120%" height="120%"><feGaussianBlur stdDeviation="0.45"/></filter></defs>
<g filter="url(#blE)">
<polyline points="275.8,242.5 279.2,245.3 283.3,249.0 291.5,255.1 296.9,258.5 299.4,260.8 304.8,265.3 311.9,271.5 316.0,274.9 319.8,278.0 325.6,282.4 331.7,287.5 337.5,293.5 349.4,306.7 355.6,312.9 358.9,315.7 371.5,331.2 380.5,340.7 383.0,342.8 385.5,344.8 388.0,347.0 391.9,351.1 400.1,359.0 419.7,377.8 435.3,388.1 441.8,392.5" fill="none" stroke="#8e80e0" stroke-width="1.3" opacity="0.13"/>
<ellipse cx="275.8" cy="242.5" rx="1.56" ry="1.02" transform="rotate(42 275.8 242.5)" fill="#6a52e8" opacity="0.61"/>
<ellipse cx="279.2" cy="245.3" rx="1.95" ry="1.27" transform="rotate(42 279.2 245.3)" fill="#6a52e8" opacity="0.68"/>
<ellipse cx="283.3" cy="249.0" rx="1.56" ry="1.02" transform="rotate(42 283.3 249.0)" fill="#6a52e8" opacity="0.54"/>
<ellipse cx="291.5" cy="255.1" rx="1.30" ry="0.85" transform="rotate(42 291.5 255.1)" fill="#6a52e8" opacity="0.31"/>
<ellipse cx="296.9" cy="258.5" rx="1.69" ry="1.10" transform="rotate(42 296.9 258.5)" fill="#6a52e8" opacity="0.54"/>
<ellipse cx="299.4" cy="260.8" rx="2.47" ry="1.61" transform="rotate(42 299.4 260.8)" fill="#6a52e8" opacity="0.68"/>
<ellipse cx="304.8" cy="265.3" rx="1.69" ry="1.10" transform="rotate(42 304.8 265.3)" fill="#6a52e8" opacity="0.51"/>
<ellipse cx="311.9" cy="271.5" rx="1.56" ry="1.02" transform="rotate(42 311.9 271.5)" fill="#6a52e8" opacity="0.48"/>
<ellipse cx="316.0" cy="274.9" rx="2.34" ry="1.53" transform="rotate(42 316.0 274.9)" fill="#6a52e8" opacity="0.68"/>
<ellipse cx="319.8" cy="278.0" rx="1.95" ry="1.27" transform="rotate(42 319.8 278.0)" fill="#6a52e8" opacity="0.61"/>
<ellipse cx="325.6" cy="282.4" rx="1.30" ry="0.85" transform="rotate(42 325.6 282.4)" fill="#6a52e8" opacity="0.34"/>
<ellipse cx="331.7" cy="287.5" rx="2.47" ry="1.61" transform="rotate(42 331.7 287.5)" fill="#6a52e8" opacity="0.68"/>
<ellipse cx="337.5" cy="293.5" rx="1.82" ry="1.19" transform="rotate(42 337.5 293.5)" fill="#6a52e8" opacity="0.58"/>
<ellipse cx="349.4" cy="306.7" rx="3.12" ry="2.04" transform="rotate(42 349.4 306.7)" fill="#6a52e8" opacity="0.65"/>
<ellipse cx="355.6" cy="312.9" rx="1.82" ry="1.19" transform="rotate(42 355.6 312.9)" fill="#6a52e8" opacity="0.54"/>
<ellipse cx="358.9" cy="315.7" rx="1.56" ry="1.02" transform="rotate(42 358.9 315.7)" fill="#6a52e8" opacity="0.48"/>
<ellipse cx="371.5" cy="331.2" rx="1.30" ry="0.85" transform="rotate(42 371.5 331.2)" fill="#6a52e8" opacity="0.24"/>
<ellipse cx="380.5" cy="340.7" rx="2.60" ry="1.70" transform="rotate(42 380.5 340.7)" fill="#6a52e8" opacity="0.68"/>
<ellipse cx="383.0" cy="342.8" rx="2.60" ry="1.70" transform="rotate(42 383.0 342.8)" fill="#6a52e8" opacity="0.68"/>
<ellipse cx="385.5" cy="344.8" rx="2.60" ry="1.70" transform="rotate(42 385.5 344.8)" fill="#6a52e8" opacity="0.68"/>
<ellipse cx="388.0" cy="347.0" rx="2.47" ry="1.61" transform="rotate(42 388.0 347.0)" fill="#6a52e8" opacity="0.68"/>
<ellipse cx="391.9" cy="351.1" rx="1.69" ry="1.10" transform="rotate(42 391.9 351.1)" fill="#6a52e8" opacity="0.51"/>
<ellipse cx="400.1" cy="359.0" rx="1.30" ry="0.85" transform="rotate(42 400.1 359.0)" fill="#6a52e8" opacity="0.24"/>
<ellipse cx="419.7" cy="377.8" rx="1.95" ry="1.27" transform="rotate(42 419.7 377.8)" fill="#6a52e8" opacity="0.51"/>
<ellipse cx="435.3" cy="388.1" rx="1.82" ry="1.19" transform="rotate(42 435.3 388.1)" fill="#6a52e8" opacity="0.51"/>
<ellipse cx="441.8" cy="392.5" rx="1.69" ry="1.10" transform="rotate(42 441.8 392.5)" fill="#6a52e8" opacity="0.48"/>
</g>
<rect x="269.3" y="406.1" width="179.39999999999998" height="12.0" fill="#f8f8f8" stroke="#d0d0d0" stroke-width="0.5" />
<line x1="270.40000000000003" y1="409.0" x2="354.32655462184874" y2="409.0" stroke="#9a9a9a" stroke-width="0.7" />
<line x1="363.1709243697479" y1="409.0" x2="448.0" y2="409.0" stroke="#9a9a9a" stroke-width="0.7" />
<path d="M270.3,409 L272.5,408 L272.5,410 Z" fill="#555" stroke="none" stroke-width="1" />
<path d="M448.09999999999997,409 L445.9,408 L445.9,410 Z" fill="#555" stroke="none" stroke-width="1" />
<text x="358.7487394957983" y="410.2" font-size="2.4" fill="#666" text-anchor="middle" font-family='"Liberation Sans", sans-serif' >20 kb</text>
<line x1="271.8126050420168" y1="414.6" x2="271.8126050420168" y2="416.0" stroke="#777" stroke-width="0.4" />
<line x1="280.656974789916" y1="414.6" x2="280.656974789916" y2="416.0" stroke="#777" stroke-width="0.4" />
<line x1="289.5013445378151" y1="414.6" x2="289.5013445378151" y2="416.0" stroke="#777" stroke-width="0.4" />
<line x1="298.3457142857143" y1="414.6" x2="298.3457142857143" y2="416.0" stroke="#777" stroke-width="0.4" />
<line x1="307.19008403361346" y1="414.6" x2="307.19008403361346" y2="416.0" stroke="#777" stroke-width="0.4" />
<line x1="316.0344537815126" y1="414.6" x2="316.0344537815126" y2="416.0" stroke="#777" stroke-width="0.4" />
<line x1="324.87882352941176" y1="414.6" x2="324.87882352941176" y2="416.0" stroke="#777" stroke-width="0.4" />
<line x1="333.72319327731094" y1="414.6" x2="333.72319327731094" y2="416.0" stroke="#777" stroke-width="0.4" />
<line x1="342.56756302521006" y1="414.6" x2="342.56756302521006" y2="416.0" stroke="#777" stroke-width="0.4" />
<line x1="351.41193277310924" y1="414.6" x2="351.41193277310924" y2="416.0" stroke="#777" stroke-width="0.4" />
<line x1="360.25630252100837" y1="414.6" x2="360.25630252100837" y2="416.0" stroke="#777" stroke-width="0.4" />
<line x1="369.10067226890754" y1="414.6" x2="369.10067226890754" y2="416.0" stroke="#777" stroke-width="0.4" />
<line x1="377.9450420168067" y1="414.6" x2="377.9450420168067" y2="416.0" stroke="#777" stroke-width="0.4" />
<line x1="386.78941176470585" y1="414.6" x2="386.78941176470585" y2="416.0" stroke="#777" stroke-width="0.4" />
<line x1="395.6337815126051" y1="414.6" x2="395.6337815126051" y2="416.0" stroke="#777" stroke-width="0.4" />
<line x1="404.4781512605042" y1="414.6" x2="404.4781512605042" y2="416.0" stroke="#777" stroke-width="0.4" />
<line x1="413.3225210084033" y1="414.6" x2="413.3225210084033" y2="416.0" stroke="#777" stroke-width="0.4" />
<line x1="422.16689075630256" y1="414.6" x2="422.16689075630256" y2="416.0" stroke="#777" stroke-width="0.4" />
<line x1="431.0112605042017" y1="414.6" x2="431.0112605042017" y2="416.0" stroke="#777" stroke-width="0.4" />
<line x1="439.8556302521008" y1="414.6" x2="439.8556302521008" y2="416.0" stroke="#777" stroke-width="0.4" />
<text x="280.4559663865546" y="413.6" font-size="2.3" fill="#777" text-anchor="middle" font-family='"Liberation Sans", sans-serif' >61.5 Mb</text>
<text x="298.2452100840336" y="413.6" font-size="2.3" fill="#777" text-anchor="middle" font-family='"Liberation Sans", sans-serif' >61.5 Mb</text>
<text x="316.0344537815126" y="413.6" font-size="2.3" fill="#777" text-anchor="middle" font-family='"Liberation Sans", sans-serif' >61.5 Mb</text>
<text x="333.82369747899156" y="413.6" font-size="2.3" fill="#777" text-anchor="middle" font-family='"Liberation Sans", sans-serif' >61.5 Mb</text>
<text x="351.6129411764706" y="413.6" font-size="2.3" fill="#777" text-anchor="middle" font-family='"Liberation Sans", sans-serif' >61.5 Mb</text>
<text x="369.4021848739496" y="413.6" font-size="2.3" fill="#777" text-anchor="middle" font-family='"Liberation Sans", sans-serif' >61.5 Mb</text>
<text x="387.19142857142856" y="413.6" font-size="2.3" fill="#777" text-anchor="middle" font-family='"Liberation Sans", sans-serif' >61.5 Mb</text>
<text x="404.98067226890754" y="413.6" font-size="2.3" fill="#777" text-anchor="middle" font-family='"Liberation Sans", sans-serif' >61.5 Mb</text>
<text x="422.7699159663865" y="413.6" font-size="2.3" fill="#777" text-anchor="middle" font-family='"Liberation Sans", sans-serif' >61.5 Mb</text>
<text x="440.55915966386556" y="413.6" font-size="2.3" fill="#777" text-anchor="middle" font-family='"Liberation Sans", sans-serif' >61.5 Mb</text>
<line x1="269.6" y1="416.5" x2="448.7" y2="416.5" stroke="#9a9a9a" stroke-width="0.9" />
<line x1="268.7" y1="418.6" x2="448.7" y2="418.6" stroke="#7a7a7a" stroke-width="1.0" />
<line x1="270.0" y1="421.2" x2="448.7" y2="421.2" stroke="#5a5aea" stroke-width="0.45" />
<rect x="275.53126050420167" y="419.9" width="1.4070588235294113" height="2.6" fill="#1e1edc" stroke="none" stroke-width="1" />
<rect x="278.3453781512605" y="419.9" width="1.4070588235294121" height="2.6" fill="#1e1edc" stroke="none" stroke-width="1" />
<rect x="281.7625210084034" y="419.9" width="1.4070588235294121" height="2.6" fill="#1e1edc" stroke="none" stroke-width="1" />
<rect x="296.4361344537815" y="419.9" width="1.0050420168067227" height="2.6" fill="#1e1edc" stroke="none" stroke-width="1" />
<rect x="299.2502521008403" y="420.2" width="20.904873949579834" height="2.0" fill="#1e1edc" stroke="none" stroke-width="1" />
<rect x="324.3763025210084" y="420.4" width="2.0100840336134453" height="1.6" fill="#1e1edc" stroke="none" stroke-width="1" />
<rect x="331.7131092436975" y="419.9" width="1.4070588235294104" height="2.6" fill="#1e1edc" stroke="none" stroke-width="1" />
<rect x="337.5423529411765" y="419.9" width="1.4070588235294033" height="2.6" fill="#1e1edc" stroke="none" stroke-width="1" />
<rect x="355.7336134453782" y="420.2" width="1.0050420168067227" height="2.0" fill="#1e1edc" stroke="none" stroke-width="1" />
<rect x="359.7537815126051" y="420.4" width="1.0050420168067227" height="1.6" fill="#1e1edc" stroke="none" stroke-width="1" />
<rect x="380.65865546218487" y="419.7" width="10.452436974789922" height="3.0" fill="#1e1edc" stroke="none" stroke-width="1" />
<rect x="391.1110924369748" y="420.3" width="6.231260504201684" height="1.8" fill="#1e1edc" stroke="none" stroke-width="1" />
<rect x="418.95075630252103" y="420.3" width="24.422521008403344" height="1.8" fill="#1e1edc" stroke="none" stroke-width="1" />
<rect x="446.38840336134456" y="419.9" width="1.4070588235294175" height="2.6" fill="#1e1edc" stroke="none" stroke-width="1" />
<text x="294.9542" y="427.6" font-size="5.8" fill="#222" text-anchor="middle" font-family='"Liberation Sans", sans-serif' >MYRF</text>
<text x="340.5218" y="427.6" font-size="5.8" fill="#222" text-anchor="middle" font-family='"Liberation Sans", sans-serif' >TMEM258</text>
<text x="378.19579999999996" y="427.6" font-size="5.8" fill="#222" text-anchor="middle" font-family='"Liberation Sans", sans-serif' >FEN1</text>
<text x="432.73339999999996" y="427.6" font-size="5.8" fill="#222" text-anchor="middle" font-family='"Liberation Sans", sans-serif' >FADS1</text>
<text x="358.0" y="434.6" font-size="7.6" fill="#000" text-anchor="middle" font-family='"Liberation Sans", sans-serif' textLength="37.3" lengthAdjust="spacingAndGlyphs" >hg38 chr11</text>
<text x="457.3" y="218.3" font-size="14.6" fill="#000" text-anchor="start" font-family='"Liberation Sans", sans-serif' >F</text>
<text x="490.0" y="213.0" font-size="8.85" fill="#000" text-anchor="start" font-family='"Liberation Sans", sans-serif' textLength="89" lengthAdjust="spacingAndGlyphs" >gapped-kmer similarity</text>
<rect x="582.6" y="205.0" width="91.4" height="12.0" fill="#ebebeb" stroke="none" stroke-width="1" />
<circle cx="586.3" cy="210.8" r="0.55" fill="#222" />
<text x="602.2" y="213.4" font-size="7.2" fill="#222" text-anchor="middle" font-family='"Liberation Sans", sans-serif' >0.0</text>
<circle cx="618.0" cy="210.8" r="2.0" fill="#000" />
<text x="634.2" y="213.4" font-size="7.2" fill="#222" text-anchor="middle" font-family='"Liberation Sans", sans-serif' >0.3</text>
<circle cx="650.0" cy="210.8" r="4.1" fill="#000" />
<text x="666.0" y="213.4" font-size="7.2" fill="#222" text-anchor="middle" font-family='"Liberation Sans", sans-serif' >0.6</text>
<text x="473.5" y="225.7" font-size="7.6" fill="#000" text-anchor="start" font-family='"Liberation Sans", sans-serif' textLength="42" lengthAdjust="spacingAndGlyphs" >mm10 chr19</text>
<rect x="473.5" y="230.0" width="21.100000000000023" height="174.0" fill="#f9f9f9" stroke="#d0d0d0" stroke-width="0.5" />
<line x1="474.7" y1="230.5" x2="474.7" y2="403.5" stroke="#333" stroke-width="0.5" />
<line x1="483.5" y1="230.0" x2="483.5" y2="404.0" stroke="#999" stroke-width="0.45" />
<line x1="484.3" y1="230.0" x2="484.3" y2="404.0" stroke="#bbb" stroke-width="0.4" />
<line x1="486.8" y1="231.0" x2="486.8" y2="403.0" stroke="#4a4ae8" stroke-width="0.4" />
<rect x="485.65000000000003" y="230.0" width="2.3" height="1.5" fill="#1f1fdd" stroke="none" stroke-width="1" />
<rect x="485.65000000000003" y="243.7" width="2.3" height="1.1000000000000014" fill="#1f1fdd" stroke="none" stroke-width="1" />
<rect x="485.65000000000003" y="246.4" width="2.3" height="1.4000000000000004" fill="#1f1fdd" stroke="none" stroke-width="1" />
<rect x="485.65000000000003" y="250.2" width="2.3" height="1.1000000000000014" fill="#1f1fdd" stroke="none" stroke-width="1" />
<rect x="485.65000000000003" y="260.7" width="2.3" height="0.9000000000000021" fill="#1f1fdd" stroke="none" stroke-width="1" />
<rect x="485.65000000000003" y="261.6" width="2.3" height="18.799999999999997" fill="#1f1fdd" stroke="none" stroke-width="1" />
<rect x="485.65000000000003" y="284.5" width="2.3" height="1.3999999999999986" fill="#1f1fdd" stroke="none" stroke-width="1" />
<rect x="485.65000000000003" y="288.9" width="2.3" height="1.1000000000000014" fill="#1f1fdd" stroke="none" stroke-width="1" />
<rect x="485.65000000000003" y="295.4" width="2.3" height="1.3000000000000043" fill="#1f1fdd" stroke="none" stroke-width="1" />
<rect x="485.65000000000003" y="314.4" width="2.3" height="1.5999999999999943" fill="#1f1fdd" stroke="none" stroke-width="1" />
<rect x="485.65000000000003" y="322.0" width="2.3" height="1" fill="#1f1fdd" stroke="none" stroke-width="1" />
<rect x="485.65000000000003" y="328.0" width="2.3" height="1" fill="#1f1fdd" stroke="none" stroke-width="1" />
<rect x="485.65000000000003" y="342.0" width="2.3" height="1" fill="#1f1fdd" stroke="none" stroke-width="1" />
<rect x="485.65000000000003" y="345.0" width="2.3" height="11" fill="#1f1fdd" stroke="none" stroke-width="1" />
<rect x="485.65000000000003" y="358.0" width="2.3" height="1" fill="#1f1fdd" stroke="none" stroke-width="1" />
<rect x="485.65000000000003" y="379.5" width="2.3" height="17.0" fill="#1f1fdd" stroke="none" stroke-width="1" />
<rect x="485.65000000000003" y="398.0" width="2.3" height="1" fill="#1f1fdd" stroke="none" stroke-width="1" />
<rect x="485.65000000000003" y="400.5" width="2.3" height="1.0" fill="#1f1fdd" stroke="none" stroke-width="1" />
<text x="0" y="0" font-size="5.6" fill="#222" text-anchor="middle" font-family='"Liberation Sans", sans-serif' transform="translate(492.9,254.5) rotate(-90)">Myrf</text>
<text x="0" y="0" font-size="5.6" fill="#222" text-anchor="middle" font-family='"Liberation Sans", sans-serif' transform="translate(492.9,300.0) rotate(-90)">Tmem258</text>
<text x="0" y="0" font-size="5.6" fill="#222" text-anchor="middle" font-family='"Liberation Sans", sans-serif' transform="translate(492.9,338.0) rotate(-90)">Fen1</text>
<text x="0" y="0" font-size="5.6" fill="#222" text-anchor="middle" font-family='"Liberation Sans", sans-serif' transform="translate(492.9,388.0) rotate(-90)">Fads1</text>
<line x1="479.1" y1="235.0" x2="480.1" y2="235.0" stroke="#666" stroke-width="0.4" />
<line x1="476.7" y1="243.3" x2="477.7" y2="243.3" stroke="#888" stroke-width="0.35" />
<text x="0" y="0" font-size="1.9" fill="#999" text-anchor="middle" font-family='"Liberation Sans", sans-serif' transform="translate(479.1,242.5) rotate(-90)">5.5 Mb</text>
<line x1="479.1" y1="251.6" x2="480.1" y2="251.6" stroke="#666" stroke-width="0.4" />
<line x1="476.7" y1="259.9" x2="477.7" y2="259.9" stroke="#888" stroke-width="0.35" />
<text x="0" y="0" font-size="1.9" fill="#999" text-anchor="middle" font-family='"Liberation Sans", sans-serif' transform="translate(479.1,259.1) rotate(-90)">5.5 Mb</text>
<line x1="479.1" y1="268.2" x2="480.1" y2="268.2" stroke="#666" stroke-width="0.4" />
<line x1="476.7" y1="276.5" x2="477.7" y2="276.5" stroke="#888" stroke-width="0.35" />
<text x="0" y="0" font-size="1.9" fill="#999" text-anchor="middle" font-family='"Liberation Sans", sans-serif' transform="translate(479.1,275.7) rotate(-90)">5.5 Mb</text>
<line x1="479.1" y1="284.8" x2="480.1" y2="284.8" stroke="#666" stroke-width="0.4" />
<line x1="476.7" y1="293.1" x2="477.7" y2="293.1" stroke="#888" stroke-width="0.35" />
<text x="0" y="0" font-size="1.9" fill="#999" text-anchor="middle" font-family='"Liberation Sans", sans-serif' transform="translate(479.1,292.3) rotate(-90)">5.5 Mb</text>
<line x1="479.1" y1="301.4" x2="480.1" y2="301.4" stroke="#666" stroke-width="0.4" />
<line x1="476.7" y1="309.7" x2="477.7" y2="309.7" stroke="#888" stroke-width="0.35" />
<text x="0" y="0" font-size="1.9" fill="#999" text-anchor="middle" font-family='"Liberation Sans", sans-serif' transform="translate(479.1,308.9) rotate(-90)">5.5 Mb</text>
<line x1="479.1" y1="318.0" x2="480.1" y2="318.0" stroke="#666" stroke-width="0.4" />
<line x1="476.7" y1="326.3" x2="477.7" y2="326.3" stroke="#888" stroke-width="0.35" />
<text x="0" y="0" font-size="1.9" fill="#999" text-anchor="middle" font-family='"Liberation Sans", sans-serif' transform="translate(479.1,325.5) rotate(-90)">5.5 Mb</text>
<line x1="479.1" y1="334.6" x2="480.1" y2="334.6" stroke="#666" stroke-width="0.4" />
<line x1="476.7" y1="342.90000000000003" x2="477.7" y2="342.90000000000003" stroke="#888" stroke-width="0.35" />
<text x="0" y="0" font-size="1.9" fill="#999" text-anchor="middle" font-family='"Liberation Sans", sans-serif' transform="translate(479.1,342.1) rotate(-90)">5.5 Mb</text>
<line x1="479.1" y1="351.20000000000005" x2="480.1" y2="351.20000000000005" stroke="#666" stroke-width="0.4" />
<line x1="476.7" y1="359.50000000000006" x2="477.7" y2="359.50000000000006" stroke="#888" stroke-width="0.35" />
<text x="0" y="0" font-size="1.9" fill="#999" text-anchor="middle" font-family='"Liberation Sans", sans-serif' transform="translate(479.1,358.70000000000005) rotate(-90)">5.5 Mb</text>
<line x1="479.1" y1="367.8" x2="480.1" y2="367.8" stroke="#666" stroke-width="0.4" />
<line x1="476.7" y1="376.1" x2="477.7" y2="376.1" stroke="#888" stroke-width="0.35" />
<text x="0" y="0" font-size="1.9" fill="#999" text-anchor="middle" font-family='"Liberation Sans", sans-serif' transform="translate(479.1,375.3) rotate(-90)">5.5 Mb</text>
<line x1="479.1" y1="384.4" x2="480.1" y2="384.4" stroke="#666" stroke-width="0.4" />
<line x1="476.7" y1="392.7" x2="477.7" y2="392.7" stroke="#888" stroke-width="0.35" />
<text x="0" y="0" font-size="1.9" fill="#999" text-anchor="middle" font-family='"Liberation Sans", sans-serif' transform="translate(479.1,391.9) rotate(-90)">5.5 Mb</text>
<path d="M494.6,231.5 L494.6,404.6 Q494.6,406.1 496.1,406.1 L681,406.1" fill="none" stroke="#222" stroke-width="1.0" />
<polyline points="502.3,239.1 503.1,239.8 503.9,240.5 504.6,241.1 505.4,241.8 506.2,242.5 507.0,243.2 507.8,243.9 508.5,244.5 509.3,245.2 510.1,245.9 510.8,246.6 511.6,247.4 512.3,248.1 513.0,248.8 513.7,249.5 514.5,250.3 515.2,251.0 515.9,251.7 516.7,252.5 517.4,253.2 518.1,253.9 518.8,254.6 519.6,255.3 519.6,255.3" fill="none" stroke="#000" stroke-width="1.9" stroke-linecap="butt"/>
<polyline points="521.9,256.8 522.7,257.3 523.6,257.9 524.5,258.5 525.4,259.0 526.2,259.5 527.1,260.0 528.0,260.6 528.9,261.1 529.7,261.6 530.6,262.1 531.4,262.8 532.1,263.5 532.9,264.1 533.6,264.8 534.4,265.5 535.1,266.1 535.9,266.8 536.6,267.5 537.4,268.2 538.1,268.8 538.9,269.5 539.6,270.2 540.4,270.9 541.1,271.5 541.9,272.2 542.7,272.9 543.4,273.5 544.2,274.2 544.9,274.9 545.7,275.6 546.4,276.2 547.2,276.9 548.0,277.5 548.8,278.2 549.6,278.8 550.4,279.5 551.2,280.1 551.9,280.8 552.7,281.4 553.5,282.1 554.3,282.7 555.1,283.4 555.9,284.0 556.8,284.6 557.6,285.3 558.4,285.9 559.3,286.5 560.1,287.1 561.0,287.7 561.8,288.4 562.7,289.0 563.5,289.6 564.2,290.3 564.9,291.1 565.6,291.8 566.3,292.6 567.0,293.3 567.7,294.0 568.4,294.8 569.1,295.5 569.9,296.3 569.9,296.3" fill="none" stroke="#000" stroke-width="1.9" stroke-linecap="butt"/>
<polyline points="572.7,299.0 573.5,299.7 574.3,300.4 575.1,301.1 575.9,301.8 576.3,302.2" fill="none" stroke="#000" stroke-width="1.9" stroke-linecap="butt"/>
<polyline points="579.0,305.9 579.7,306.7 580.3,307.5 580.9,308.3 581.5,309.1 582.1,309.9 582.8,310.6 583.5,311.4 584.2,312.1 585.0,312.9 585.6,313.7 586.4,314.4 587.0,315.2 587.8,315.9 588.5,316.7 589.2,317.4 589.9,318.1 590.6,318.8 591.4,319.6 592.1,320.3 592.8,321.0 593.6,321.8 594.3,322.5 595.0,323.2 595.7,323.9 596.5,324.7 597.2,325.4 597.5,325.8" fill="none" stroke="#000" stroke-width="1.9" stroke-linecap="butt"/>
<polyline points="599.7,328.5 600.4,329.3 601.0,330.1 601.6,330.9 602.3,331.7 602.9,332.4 603.5,333.2 604.2,334.0 604.9,334.8 605.7,335.5 606.5,336.2 607.2,336.9 608.0,337.6 608.8,338.3 609.5,339.1 610.2,339.9 610.8,340.7 611.4,341.6 612.0,342.4 612.7,343.2 613.4,343.9 614.1,344.6 614.9,345.3 615.6,345.9 616.4,346.6 617.2,347.3 617.9,347.9 618.7,348.6 619.4,349.3 620.2,350.0 620.9,350.7 621.7,351.4 622.4,352.1 623.2,352.9 623.9,353.6 624.7,354.3 625.4,355.0 626.1,355.8 626.8,356.5 627.5,357.3 628.2,358.1 628.9,358.8 629.6,359.6 630.3,360.3 631.0,361.1 631.7,361.9 632.4,362.6 633.0,363.4 633.2,363.9" fill="none" stroke="#000" stroke-width="1.9" stroke-linecap="butt"/>
<polyline points="635.1,367.0 635.6,367.9 636.1,368.7 636.7,369.6 637.2,370.5 637.7,370.7" fill="none" stroke="#000" stroke-width="1.9" stroke-linecap="butt"/>
<polyline points="640.0,371.7 640.9,372.2 641.8,372.6 642.7,373.0 643.6,373.6 644.0,373.9" fill="none" stroke="#000" stroke-width="1.9" stroke-linecap="butt"/>
<polyline points="646.6,376.4 647.4,377.1 648.1,377.8 648.9,378.5 649.6,379.2 650.4,379.9 651.3,380.4 652.2,380.9 653.1,381.5 654.0,382.0 654.9,382.5 655.8,383.0 656.7,383.6 657.6,384.1 658.4,384.7 659.3,385.4 660.1,386.0 660.9,386.6 661.7,387.2 662.6,387.9 663.4,388.5 664.2,389.1 665.0,389.7 665.9,390.4 666.7,391.0 667.5,391.6 668.3,392.2 669.2,392.9 670.0,393.5 670.8,394.1 671.6,394.8 672.4,395.4 673.2,396.0 674.0,396.6 674.9,397.2 675.7,397.9 676.5,398.5 676.5,398.5" fill="none" stroke="#000" stroke-width="1.9" stroke-linecap="butt"/>
<ellipse cx="504.5" cy="240.8" rx="1.82" ry="1.17" transform="rotate(43 504.5 240.8)" fill="#000"/>
<ellipse cx="510.1" cy="245.9" rx="2.66" ry="1.71" transform="rotate(43 510.1 245.9)" fill="#000"/>
<ellipse cx="513.5" cy="249.0" rx="2.24" ry="1.44" transform="rotate(43 513.5 249.0)" fill="#000"/>
<ellipse cx="530.6" cy="262.1" rx="4.48" ry="2.88" transform="rotate(43 530.6 262.1)" fill="#000"/>
<ellipse cx="536.6" cy="267.5" rx="3.50" ry="2.25" transform="rotate(43 536.6 267.5)" fill="#000"/>
<ellipse cx="547.2" cy="276.9" rx="4.20" ry="2.70" transform="rotate(43 547.2 276.9)" fill="#000"/>
<ellipse cx="563.5" cy="289.6" rx="4.34" ry="2.79" transform="rotate(43 563.5 289.6)" fill="#000"/>
<ellipse cx="569.5" cy="295.9" rx="3.36" ry="2.16" transform="rotate(43 569.5 295.9)" fill="#000"/>
<ellipse cx="581.8" cy="309.5" rx="4.62" ry="2.97" transform="rotate(43 581.8 309.5)" fill="#000"/>
<ellipse cx="588.1" cy="316.3" rx="3.50" ry="2.25" transform="rotate(43 588.1 316.3)" fill="#000"/>
<ellipse cx="613.0" cy="343.6" rx="7.28" ry="4.68" transform="rotate(43 613.0 343.6)" fill="#000"/>
<ellipse cx="619.8" cy="349.6" rx="6.30" ry="4.05" transform="rotate(43 619.8 349.6)" fill="#000"/>
<ellipse cx="650.0" cy="379.6" rx="2.52" ry="1.62" transform="rotate(43 650.0 379.6)" fill="#000"/>
<ellipse cx="653.0" cy="381.6" rx="2.10" ry="1.35" transform="rotate(43 653.0 381.6)" fill="#000"/>
<ellipse cx="674.0" cy="396.6" rx="2.52" ry="1.62" transform="rotate(43 674.0 396.6)" fill="#000"/>
<rect x="502.6" y="406.1" width="175.29999999999995" height="12.0" fill="#f8f8f8" stroke="#d0d0d0" stroke-width="0.5" />
<line x1="503.70000000000005" y1="409.0" x2="585.6833613445378" y2="409.0" stroke="#9a9a9a" stroke-width="0.7" />
<line x1="594.3256022408964" y1="409.0" x2="677.1999999999999" y2="409.0" stroke="#9a9a9a" stroke-width="0.7" />
<path d="M503.6,409 L505.8,408 L505.8,410 Z" fill="#555" stroke="none" stroke-width="1" />
<path d="M677.3,409 L675.1,408 L675.1,410 Z" fill="#555" stroke="none" stroke-width="1" />
<text x="590.0044817927171" y="410.2" font-size="2.4" fill="#666" text-anchor="middle" font-family='"Liberation Sans", sans-serif' >20 kb</text>
<line x1="505.05518207282915" y1="414.6" x2="505.05518207282915" y2="416.0" stroke="#777" stroke-width="0.4" />
<line x1="513.6974229691876" y1="414.6" x2="513.6974229691876" y2="416.0" stroke="#777" stroke-width="0.4" />
<line x1="522.3396638655462" y1="414.6" x2="522.3396638655462" y2="416.0" stroke="#777" stroke-width="0.4" />
<line x1="530.9819047619047" y1="414.6" x2="530.9819047619047" y2="416.0" stroke="#777" stroke-width="0.4" />
<line x1="539.6241456582633" y1="414.6" x2="539.6241456582633" y2="416.0" stroke="#777" stroke-width="0.4" />
<line x1="548.2663865546218" y1="414.6" x2="548.2663865546218" y2="416.0" stroke="#777" stroke-width="0.4" />
<line x1="556.9086274509804" y1="414.6" x2="556.9086274509804" y2="416.0" stroke="#777" stroke-width="0.4" />
<line x1="565.5508683473389" y1="414.6" x2="565.5508683473389" y2="416.0" stroke="#777" stroke-width="0.4" />
<line x1="574.1931092436974" y1="414.6" x2="574.1931092436974" y2="416.0" stroke="#777" stroke-width="0.4" />
<line x1="582.835350140056" y1="414.6" x2="582.835350140056" y2="416.0" stroke="#777" stroke-width="0.4" />
<line x1="591.4775910364145" y1="414.6" x2="591.4775910364145" y2="416.0" stroke="#777" stroke-width="0.4" />
<line x1="600.1198319327731" y1="414.6" x2="600.1198319327731" y2="416.0" stroke="#777" stroke-width="0.4" />
<line x1="608.7620728291316" y1="414.6" x2="608.7620728291316" y2="416.0" stroke="#777" stroke-width="0.4" />
<line x1="617.4043137254902" y1="414.6" x2="617.4043137254902" y2="416.0" stroke="#777" stroke-width="0.4" />
<line x1="626.0465546218487" y1="414.6" x2="626.0465546218487" y2="416.0" stroke="#777" stroke-width="0.4" />
<line x1="634.6887955182073" y1="414.6" x2="634.6887955182073" y2="416.0" stroke="#777" stroke-width="0.4" />
<line x1="643.3310364145658" y1="414.6" x2="643.3310364145658" y2="416.0" stroke="#777" stroke-width="0.4" />
<line x1="651.9732773109243" y1="414.6" x2="651.9732773109243" y2="416.0" stroke="#777" stroke-width="0.4" />
<line x1="660.6155182072829" y1="414.6" x2="660.6155182072829" y2="416.0" stroke="#777" stroke-width="0.4" />
<line x1="669.2577591036414" y1="414.6" x2="669.2577591036414" y2="416.0" stroke="#777" stroke-width="0.4" />
<text x="513.5010084033613" y="413.6" font-size="2.3" fill="#777" text-anchor="middle" font-family='"Liberation Sans", sans-serif' >61.5 Mb</text>
<text x="530.8836974789915" y="413.6" font-size="2.3" fill="#777" text-anchor="middle" font-family='"Liberation Sans", sans-serif' >61.5 Mb</text>
<text x="548.2663865546218" y="413.6" font-size="2.3" fill="#777" text-anchor="middle" font-family='"Liberation Sans", sans-serif' >61.5 Mb</text>
<text x="565.649075630252" y="413.6" font-size="2.3" fill="#777" text-anchor="middle" font-family='"Liberation Sans", sans-serif' >61.5 Mb</text>
<text x="583.0317647058823" y="413.6" font-size="2.3" fill="#777" text-anchor="middle" font-family='"Liberation Sans", sans-serif' >61.5 Mb</text>
<text x="600.4144537815125" y="413.6" font-size="2.3" fill="#777" text-anchor="middle" font-family='"Liberation Sans", sans-serif' >61.5 Mb</text>
<text x="617.7971428571428" y="413.6" font-size="2.3" fill="#777" text-anchor="middle" font-family='"Liberation Sans", sans-serif' >61.5 Mb</text>
<text x="635.179831932773" y="413.6" font-size="2.3" fill="#777" text-anchor="middle" font-family='"Liberation Sans", sans-serif' >61.5 Mb</text>
<text x="652.5625210084033" y="413.6" font-size="2.3" fill="#777" text-anchor="middle" font-family='"Liberation Sans", sans-serif' >61.5 Mb</text>
<text x="669.9452100840335" y="413.6" font-size="2.3" fill="#777" text-anchor="middle" font-family='"Liberation Sans", sans-serif' >61.5 Mb</text>
<line x1="502.90000000000003" y1="416.5" x2="677.9" y2="416.5" stroke="#9a9a9a" stroke-width="0.9" />
<line x1="502.0" y1="418.6" x2="677.9" y2="418.6" stroke="#7a7a7a" stroke-width="1.0" />
<line x1="503.3" y1="421.2" x2="677.9" y2="421.2" stroke="#5a5aea" stroke-width="0.45" />
<rect x="508.68885154061627" y="419.9" width="1.374901960784313" height="2.6" fill="#1e1edc" stroke="none" stroke-width="1" />
<rect x="511.4386554621849" y="419.9" width="1.3749019607843136" height="2.6" fill="#1e1edc" stroke="none" stroke-width="1" />
<rect x="514.7777030812325" y="419.9" width="1.3749019607843136" height="2.6" fill="#1e1edc" stroke="none" stroke-width="1" />
<rect x="529.1159663865546" y="419.9" width="0.9820728291316524" height="2.6" fill="#1e1edc" stroke="none" stroke-width="1" />
<rect x="531.8657703081233" y="420.2" width="20.42711484593837" height="2.0" fill="#1e1edc" stroke="none" stroke-width="1" />
<rect x="556.4175910364146" y="420.4" width="1.9641456582633048" height="1.6" fill="#1e1edc" stroke="none" stroke-width="1" />
<rect x="563.5867226890756" y="419.9" width="1.374901960784312" height="2.6" fill="#1e1edc" stroke="none" stroke-width="1" />
<rect x="569.2827450980392" y="419.9" width="1.374901960784305" height="2.6" fill="#1e1edc" stroke="none" stroke-width="1" />
<rect x="587.0582633053222" y="420.2" width="0.9820728291316524" height="2.0" fill="#1e1edc" stroke="none" stroke-width="1" />
<rect x="590.9865546218488" y="420.4" width="0.9820728291316524" height="1.6" fill="#1e1edc" stroke="none" stroke-width="1" />
<rect x="611.4136694677871" y="419.7" width="10.21355742296919" height="3.0" fill="#1e1edc" stroke="none" stroke-width="1" />
<rect x="621.6272268907563" y="420.3" width="6.088851540616248" height="1.8" fill="#1e1edc" stroke="none" stroke-width="1" />
<rect x="648.830644257703" y="420.3" width="23.864369747899136" height="1.8" fill="#1e1edc" stroke="none" stroke-width="1" />
<rect x="675.6412324929972" y="419.9" width="1.374901960784319" height="2.6" fill="#1e1edc" stroke="none" stroke-width="1" />
<text x="527.6679" y="427.6" font-size="5.8" fill="#222" text-anchor="middle" font-family='"Liberation Sans", sans-serif' >MYRF</text>
<text x="572.1941" y="427.6" font-size="5.8" fill="#222" text-anchor="middle" font-family='"Liberation Sans", sans-serif' >TMEM258</text>
<text x="609.0071" y="427.6" font-size="5.8" fill="#222" text-anchor="middle" font-family='"Liberation Sans", sans-serif' >FEN1</text>
<text x="662.2982999999999" y="427.6" font-size="5.8" fill="#222" text-anchor="middle" font-family='"Liberation Sans", sans-serif' >FADS1</text>
<text x="594.5" y="436.0" font-size="7.6" fill="#000" text-anchor="middle" font-family='"Liberation Sans", sans-serif' textLength="37.3" lengthAdjust="spacingAndGlyphs" >hg38 chr11</text>
<text x="15.0" y="453.7" font-size="14.0" fill="#000" text-anchor="start" font-family='"Liberation Sans", sans-serif' >G</text>
<text x="46.6" y="461.4" font-size="6.6" fill="#1a1a1a" text-anchor="start" font-family='"Liberation Sans", sans-serif' textLength="19" lengthAdjust="spacingAndGlyphs" font-weight="bold">gkmsim</text>
<rect x="67.3" y="455.0" width="7.5" height="7.1" fill="#d4d4d4" stroke="#6a6a6a" stroke-width="0.5" />
<circle cx="71.05" cy="458.55" r="0.35" fill="#000" />
<text x="77.5" y="460.7" font-size="4.6" fill="#444" text-anchor="start" font-family='"Liberation Sans", sans-serif' textLength="7.6" lengthAdjust="spacingAndGlyphs" >0.00</text>
<rect x="87.6" y="455.0" width="7.5" height="7.1" fill="#d4d4d4" stroke="#6a6a6a" stroke-width="0.5" />
<circle cx="91.35" cy="458.55" r="1.1" fill="#000" />
<text x="96.5" y="460.7" font-size="4.6" fill="#444" text-anchor="start" font-family='"Liberation Sans", sans-serif' textLength="7.6" lengthAdjust="spacingAndGlyphs" >0.15</text>
<rect x="107.3" y="455.0" width="7.5" height="7.1" fill="#d4d4d4" stroke="#6a6a6a" stroke-width="0.5" />
<circle cx="111.05" cy="458.55" r="2.9" fill="#000" />
<text x="116.9" y="460.7" font-size="4.6" fill="#444" text-anchor="start" font-family='"Liberation Sans", sans-serif' textLength="7.6" lengthAdjust="spacingAndGlyphs" >0.30</text>
<text x="126.6" y="461.4" font-size="6.6" fill="#1a1a1a" text-anchor="start" font-family='"Liberation Sans", sans-serif' textLength="24.3" lengthAdjust="spacingAndGlyphs" font-weight="bold">gkm-SVM</text>
<rect x="152.2" y="455.0" width="7.9" height="7.1" fill="#d4d4d4" stroke="#6a6a6a" stroke-width="0.5" />
<circle cx="156.14999999999998" cy="458.55" r="0.9" fill="#1010f0" />
<text x="163.1" y="460.7" font-size="4.6" fill="#444" text-anchor="start" font-family='"Liberation Sans", sans-serif' textLength="6.4" lengthAdjust="spacingAndGlyphs" >0.0</text>
<rect x="171.9" y="455.0" width="7.9" height="7.1" fill="#d4d4d4" stroke="#6a6a6a" stroke-width="0.5" />
<circle cx="175.85" cy="458.55" r="0.9" fill="#8a8a8a" />
<text x="182.4" y="460.7" font-size="4.6" fill="#444" text-anchor="start" font-family='"Liberation Sans", sans-serif' textLength="6.4" lengthAdjust="spacingAndGlyphs" >0.5</text>
<rect x="191.4" y="455.0" width="7.9" height="7.1" fill="#d4d4d4" stroke="#6a6a6a" stroke-width="0.5" />
<circle cx="195.35" cy="458.55" r="0.9" fill="#f0f020" />
<text x="202.1" y="460.7" font-size="4.6" fill="#444" text-anchor="start" font-family='"Liberation Sans", sans-serif' textLength="6.4" lengthAdjust="spacingAndGlyphs" >1.0</text>
<rect x="10.0" y="464.6" width="29.2" height="140.9" fill="#f8f8f8" stroke="#d0d0d0" stroke-width="0.4" />
<line x1="13.0" y1="466" x2="13.0" y2="604" stroke="#b0b0b0" stroke-width="0.45" />
<line x1="17.7" y1="466" x2="17.7" y2="604" stroke="#c8c8c8" stroke-width="0.4" />
<line x1="20.1" y1="465" x2="20.1" y2="605.5" stroke="#555" stroke-width="0.5" />
<line x1="26.6" y1="465" x2="26.6" y2="605.5" stroke="#8c8cf0" stroke-width="0.5" />
<line x1="36.0" y1="465" x2="36.0" y2="605.5" stroke="#d8d8d8" stroke-width="0.4" />
<line x1="16.0" y1="475" x2="17.2" y2="475" stroke="#777" stroke-width="0.35" />
<text x="0" y="0" font-size="2.0" fill="#999" text-anchor="middle" font-family='"Liberation Sans", sans-serif' transform="translate(15.6,470) rotate(-90)">8.5 Mb</text>
<line x1="16.0" y1="505" x2="17.2" y2="505" stroke="#777" stroke-width="0.35" />
<text x="0" y="0" font-size="2.0" fill="#999" text-anchor="middle" font-family='"Liberation Sans", sans-serif' transform="translate(15.6,500) rotate(-90)">8.6 Mb</text>
<line x1="16.0" y1="540" x2="17.2" y2="540" stroke="#777" stroke-width="0.35" />
<text x="0" y="0" font-size="2.0" fill="#999" text-anchor="middle" font-family='"Liberation Sans", sans-serif' transform="translate(15.6,535) rotate(-90)">8.7 Mb</text>
<line x1="16.0" y1="565" x2="17.2" y2="565" stroke="#777" stroke-width="0.35" />
<text x="0" y="0" font-size="2.0" fill="#999" text-anchor="middle" font-family='"Liberation Sans", sans-serif' transform="translate(15.6,560) rotate(-90)">8.8 Mb</text>
<line x1="16.0" y1="600" x2="17.2" y2="600" stroke="#777" stroke-width="0.35" />
<text x="0" y="0" font-size="2.0" fill="#999" text-anchor="middle" font-family='"Liberation Sans", sans-serif' transform="translate(15.6,595) rotate(-90)">8.9 Mb</text>
<rect x="10.0" y="605.5" width="29.2" height="23.7" fill="#fbfbfb" stroke="#d0d0d0" stroke-width="0.4" />
<line x1="20.1" y1="605.5" x2="20.1" y2="629" stroke="#999" stroke-width="0.4" />
<text x="0" y="0" font-size="2.6" fill="#555" text-anchor="start" font-family='"Liberation Sans", sans-serif' transform="translate(23.4,628.5) rotate(-90)">Erythro GATA1</text>
<text x="0" y="0" font-size="2.6" fill="#555" text-anchor="start" font-family='"Liberation Sans", sans-serif' transform="translate(28.6,628.5) rotate(-90)">Emb Liver Dnase</text>
<text x="0" y="0" font-size="2.6" fill="#555" text-anchor="start" font-family='"Liberation Sans", sans-serif' transform="translate(34.0,628.5) rotate(-90)">Refseq Genes</text>
<rect x="39.4" y="464.8" width="168.5" height="146.59999999999997" fill="#cccccc" stroke="none" stroke-width="1" />
<line x1="39.4" y1="464.8" x2="39.4" y2="611.4" stroke="#222" stroke-width="0.9" />
<line x1="39.0" y1="611.4" x2="46.5" y2="611.4" stroke="#222" stroke-width="0.8" />
<rect x="20.5" y="570.2" width="19.0" height="3.0" fill="#dcecf6" stroke="none" stroke-width="1" />
<rect x="39.9" y="570.2" width="48.4" height="3.0" fill="#bcd3de" stroke="none" stroke-width="1" />
<rect x="20.5" y="551.5" width="19.0" height="3.0" fill="#dcecf6" stroke="none" stroke-width="1" />
<rect x="39.9" y="551.5" width="56.99999999999999" height="3.0" fill="#bcd3de" stroke="none" stroke-width="1" />
<rect x="20.5" y="535.7" width="19.0" height="3.0" fill="#dcecf6" stroke="none" stroke-width="1" />
<rect x="39.9" y="535.7" width="81.49999999999999" height="3.0" fill="#bcd3de" stroke="none" stroke-width="1" />
<rect x="20.5" y="522.1" width="19.0" height="3.0" fill="#dcecf6" stroke="none" stroke-width="1" />
<rect x="39.9" y="522.1" width="106.39999999999999" height="3.0" fill="#bcd3de" stroke="none" stroke-width="1" />
<rect x="84.7" y="570.2" width="3.6" height="41.19999999999993" fill="#bcd3de" stroke="none" stroke-width="1" />
<rect x="93.3" y="551.5" width="3.6" height="59.89999999999998" fill="#bcd3de" stroke="none" stroke-width="1" />
<rect x="117.8" y="535.7" width="3.6" height="75.69999999999993" fill="#bcd3de" stroke="none" stroke-width="1" />
<rect x="142.7" y="522.1" width="3.6" height="89.29999999999995" fill="#bcd3de" stroke="none" stroke-width="1" />
<rect x="174.7" y="485.1" width="3.6" height="126.29999999999995" fill="#bcd3de" stroke="none" stroke-width="1" />
<text x="-0.6" y="573.1999999999999" font-size="5.4" fill="#111" text-anchor="start" font-family='"Liberation Sans", sans-serif' textLength="9.0" lengthAdjust="spacingAndGlyphs" font-weight="bold">HE1</text>
<text x="-0.6" y="554.5" font-size="5.4" fill="#111" text-anchor="start" font-family='"Liberation Sans", sans-serif' textLength="9.0" lengthAdjust="spacingAndGlyphs" font-weight="bold">HE2</text>
<text x="-0.6" y="539.6" font-size="5.4" fill="#111" text-anchor="start" font-family='"Liberation Sans", sans-serif' textLength="9.0" lengthAdjust="spacingAndGlyphs" font-weight="bold">HE3</text>
<text x="-0.6" y="525.4" font-size="5.4" fill="#111" text-anchor="start" font-family='"Liberation Sans", sans-serif' textLength="9.0" lengthAdjust="spacingAndGlyphs" font-weight="bold">HE4</text>
<text x="-0.6" y="488.4" font-size="5.4" fill="#111" text-anchor="start" font-family='"Liberation Sans", sans-serif' textLength="9.0" lengthAdjust="spacingAndGlyphs" font-weight="bold">HE5</text>
<rect x="21.2" y="570.8000000000001" width="4.6" height="1.8" fill="#1c1cdd" stroke="none" stroke-width="1" />
<rect x="29.0" y="570.8000000000001" width="2.0" height="1.8" fill="#1c1cdd" stroke="none" stroke-width="1" />
<rect x="22.6" y="552.1" width="2.5" height="1.8" fill="#1c1cdd" stroke="none" stroke-width="1" />
<rect x="28.0" y="552.1" width="4.2" height="1.8" fill="#1c1cdd" stroke="none" stroke-width="1" />
<rect x="22.0" y="536.3000000000001" width="2.5" height="1.8" fill="#1c1cdd" stroke="none" stroke-width="1" />
<rect x="28.5" y="536.3000000000001" width="2.2" height="1.8" fill="#1c1cdd" stroke="none" stroke-width="1" />
<rect x="22.0" y="522.7" width="2.5" height="1.8" fill="#1c1cdd" stroke="none" stroke-width="1" />
<rect x="28.5" y="522.7" width="2.2" height="1.8" fill="#1c1cdd" stroke="none" stroke-width="1" />
<rect x="33.0" y="468.0" width="2.4" height="4.0" fill="#1c1cdd" stroke="none" stroke-width="1" />
<rect x="29.5" y="492" width="1.0" height="1.2" fill="#4a4ae8" stroke="none" stroke-width="1" />
<rect x="30.8" y="501" width="1.0" height="1.2" fill="#4a4ae8" stroke="none" stroke-width="1" />
<rect x="31.5" y="520.5" width="1.0" height="1.2" fill="#4a4ae8" stroke="none" stroke-width="1" />
<rect x="31.0" y="559" width="1.0" height="1.2" fill="#4a4ae8" stroke="none" stroke-width="1" />
<rect x="30.8" y="566" width="1.0" height="1.2" fill="#4a4ae8" stroke="none" stroke-width="1" />
<rect x="33.0" y="597" width="2.4" height="5.0" fill="#1c1cdd" stroke="none" stroke-width="1" opacity="0.85"/>
<circle cx="46.90" cy="604.80" r="0.72" fill="#3434e4"/>
<circle cx="47.42" cy="604.14" r="0.72" fill="#3434e4"/>
<circle cx="47.94" cy="603.48" r="0.72" fill="#3434e4"/>
<circle cx="48.46" cy="602.82" r="0.72" fill="#3434e4"/>
<circle cx="48.98" cy="602.16" r="0.72" fill="#3434e4"/>
<circle cx="50.17" cy="600.85" r="0.72" fill="#3434e4"/>
<circle cx="50.83" cy="600.20" r="0.72" fill="#3434e4"/>
<circle cx="51.50" cy="599.55" r="0.72" fill="#3434e4"/>
<circle cx="52.17" cy="598.90" r="0.72" fill="#3434e4"/>
<circle cx="52.83" cy="598.25" r="0.72" fill="#3434e4"/>
<circle cx="53.50" cy="597.60" r="0.72" fill="#3434e4"/>
<circle cx="54.16" cy="596.99" r="0.72" fill="#3434e4"/>
<circle cx="55.47" cy="595.76" r="0.72" fill="#3434e4"/>
<circle cx="56.13" cy="595.14" r="0.72" fill="#3434e4"/>
<circle cx="56.79" cy="594.53" r="0.72" fill="#3434e4"/>
<circle cx="57.44" cy="593.91" r="0.72" fill="#3434e4"/>
<circle cx="58.73" cy="592.69" r="0.72" fill="#3434e4"/>
<circle cx="59.36" cy="592.07" r="0.72" fill="#3434e4"/>
<circle cx="59.99" cy="591.46" r="0.72" fill="#3434e4"/>
<circle cx="60.61" cy="590.84" r="0.72" fill="#3434e4"/>
<circle cx="61.24" cy="590.23" r="0.72" fill="#3434e4"/>
<circle cx="61.87" cy="589.61" r="0.72" fill="#3434e4"/>
<circle cx="62.50" cy="589.00" r="0.72" fill="#3434e4"/>
<circle cx="63.02" cy="588.27" r="0.72" fill="#3434e4"/>
<circle cx="63.55" cy="587.55" r="0.72" fill="#3434e4"/>
<circle cx="64.07" cy="586.83" r="0.72" fill="#3434e4"/>
<circle cx="64.72" cy="585.27" r="0.72" fill="#3434e4"/>
<circle cx="64.83" cy="584.43" r="0.72" fill="#3434e4"/>
<circle cx="64.95" cy="583.60" r="0.72" fill="#3434e4"/>
<circle cx="65.07" cy="582.77" r="0.72" fill="#3434e4"/>
<circle cx="65.18" cy="581.93" r="0.72" fill="#3434e4"/>
<circle cx="65.30" cy="581.10" r="0.72" fill="#3434e4"/>
<circle cx="66.33" cy="579.87" r="0.72" fill="#3434e4"/>
<circle cx="66.84" cy="579.26" r="0.72" fill="#3434e4"/>
<circle cx="67.36" cy="578.64" r="0.72" fill="#3434e4"/>
<circle cx="67.87" cy="578.03" r="0.72" fill="#3434e4"/>
<circle cx="68.39" cy="577.41" r="0.72" fill="#3434e4"/>
<circle cx="68.90" cy="576.80" r="0.72" fill="#3434e4"/>
<circle cx="69.80" cy="576.38" r="0.72" fill="#3434e4"/>
<circle cx="70.70" cy="575.95" r="0.72" fill="#3434e4"/>
<circle cx="72.50" cy="575.10" r="0.72" fill="#3434e4"/>
<circle cx="73.35" cy="575.10" r="0.72" fill="#3434e4"/>
<circle cx="80.95" cy="575.10" r="0.72" fill="#3434e4"/>
<circle cx="81.80" cy="575.10" r="0.72" fill="#3434e4"/>
<circle cx="82.53" cy="574.58" r="0.72" fill="#3434e4"/>
<circle cx="83.27" cy="574.07" r="0.72" fill="#3434e4"/>
<circle cx="84.00" cy="573.55" r="0.72" fill="#3434e4"/>
<circle cx="84.73" cy="573.03" r="0.72" fill="#3434e4"/>
<circle cx="85.47" cy="572.52" r="0.72" fill="#3434e4"/>
<circle cx="86.40" cy="571.14" r="0.72" fill="#3434e4"/>
<circle cx="86.80" cy="569.43" r="0.72" fill="#3434e4"/>
<circle cx="87.20" cy="567.71" r="0.72" fill="#3434e4"/>
<circle cx="87.40" cy="566.86" r="0.72" fill="#3434e4"/>
<circle cx="87.60" cy="566.00" r="0.72" fill="#3434e4"/>
<circle cx="88.14" cy="565.29" r="0.72" fill="#3434e4"/>
<circle cx="88.67" cy="564.58" r="0.72" fill="#3434e4"/>
<circle cx="89.21" cy="563.86" r="0.72" fill="#3434e4"/>
<circle cx="89.75" cy="563.15" r="0.72" fill="#3434e4"/>
<circle cx="90.29" cy="562.44" r="0.72" fill="#3434e4"/>
<circle cx="90.83" cy="561.72" r="0.72" fill="#3434e4"/>
<circle cx="91.36" cy="561.01" r="0.72" fill="#3434e4"/>
<circle cx="91.90" cy="560.30" r="0.72" fill="#3434e4"/>
<circle cx="92.26" cy="559.54" r="0.72" fill="#3434e4"/>
<circle cx="92.99" cy="558.01" r="0.72" fill="#3434e4"/>
<circle cx="93.71" cy="556.49" r="0.72" fill="#3434e4"/>
<circle cx="94.44" cy="554.96" r="0.72" fill="#3434e4"/>
<circle cx="95.28" cy="553.53" r="0.72" fill="#3434e4"/>
<circle cx="95.77" cy="552.87" r="0.72" fill="#3434e4"/>
<circle cx="96.25" cy="552.20" r="0.72" fill="#3434e4"/>
<circle cx="96.73" cy="551.53" r="0.72" fill="#3434e4"/>
<circle cx="97.70" cy="550.20" r="0.72" fill="#3434e4"/>
<circle cx="98.42" cy="549.82" r="0.72" fill="#3434e4"/>
<circle cx="99.13" cy="549.43" r="0.72" fill="#3434e4"/>
<circle cx="99.85" cy="549.05" r="0.72" fill="#3434e4"/>
<circle cx="100.56" cy="548.66" r="0.72" fill="#3434e4"/>
<circle cx="101.99" cy="547.89" r="0.72" fill="#3434e4"/>
<circle cx="102.71" cy="547.51" r="0.72" fill="#3434e4"/>
<circle cx="104.14" cy="546.74" r="0.72" fill="#3434e4"/>
<circle cx="104.85" cy="546.35" r="0.72" fill="#3434e4"/>
<circle cx="105.57" cy="545.97" r="0.72" fill="#3434e4"/>
<circle cx="106.28" cy="545.58" r="0.72" fill="#3434e4"/>
<circle cx="107.00" cy="545.20" r="0.72" fill="#3434e4"/>
<circle cx="109.90" cy="544.70" r="0.72" fill="#3434e4"/>
<circle cx="110.56" cy="544.22" r="0.72" fill="#3434e4"/>
<circle cx="111.23" cy="543.74" r="0.72" fill="#3434e4"/>
<circle cx="111.89" cy="543.26" r="0.72" fill="#3434e4"/>
<circle cx="113.22" cy="542.31" r="0.72" fill="#3434e4"/>
<circle cx="113.89" cy="541.83" r="0.72" fill="#3434e4"/>
<circle cx="114.55" cy="541.35" r="0.72" fill="#3434e4"/>
<circle cx="115.21" cy="540.87" r="0.72" fill="#3434e4"/>
<circle cx="115.88" cy="540.39" r="0.72" fill="#3434e4"/>
<circle cx="117.21" cy="539.44" r="0.72" fill="#3434e4"/>
<circle cx="117.87" cy="538.96" r="0.72" fill="#3434e4"/>
<circle cx="119.20" cy="538.00" r="0.72" fill="#3434e4"/>
<circle cx="121.38" cy="536.73" r="0.72" fill="#3434e4"/>
<circle cx="123.55" cy="535.45" r="0.72" fill="#3434e4"/>
<circle cx="124.28" cy="535.02" r="0.72" fill="#3434e4"/>
<circle cx="125.73" cy="534.17" r="0.72" fill="#3434e4"/>
<circle cx="126.45" cy="533.75" r="0.72" fill="#3434e4"/>
<circle cx="127.18" cy="533.32" r="0.72" fill="#3434e4"/>
<circle cx="128.69" cy="532.60" r="0.72" fill="#3434e4"/>
<circle cx="129.48" cy="532.30" r="0.72" fill="#3434e4"/>
<circle cx="130.27" cy="532.00" r="0.72" fill="#3434e4"/>
<circle cx="131.06" cy="531.70" r="0.72" fill="#3434e4"/>
<circle cx="131.84" cy="531.40" r="0.72" fill="#3434e4"/>
<circle cx="132.63" cy="531.10" r="0.72" fill="#3434e4"/>
<circle cx="134.21" cy="530.50" r="0.72" fill="#3434e4"/>
<circle cx="136.35" cy="529.25" r="0.72" fill="#3434e4"/>
<circle cx="137.03" cy="528.77" r="0.72" fill="#3434e4"/>
<circle cx="137.71" cy="528.29" r="0.72" fill="#3434e4"/>
<circle cx="138.38" cy="527.82" r="0.72" fill="#3434e4"/>
<circle cx="139.74" cy="526.86" r="0.72" fill="#3434e4"/>
<circle cx="140.42" cy="526.38" r="0.72" fill="#3434e4"/>
<circle cx="141.09" cy="525.91" r="0.72" fill="#3434e4"/>
<circle cx="141.77" cy="525.43" r="0.72" fill="#3434e4"/>
<circle cx="142.45" cy="524.95" r="0.72" fill="#3434e4"/>
<circle cx="143.12" cy="524.48" r="0.72" fill="#3434e4"/>
<circle cx="143.80" cy="524.00" r="0.72" fill="#3434e4"/>
<circle cx="144.48" cy="523.51" r="0.72" fill="#3434e4"/>
<circle cx="145.16" cy="523.02" r="0.72" fill="#3434e4"/>
<circle cx="145.85" cy="522.53" r="0.72" fill="#3434e4"/>
<circle cx="146.53" cy="522.04" r="0.72" fill="#3434e4"/>
<circle cx="149.25" cy="520.07" r="0.72" fill="#3434e4"/>
<circle cx="149.94" cy="519.58" r="0.72" fill="#3434e4"/>
<circle cx="150.62" cy="519.09" r="0.72" fill="#3434e4"/>
<circle cx="151.30" cy="518.60" r="0.72" fill="#3434e4"/>
<circle cx="152.06" cy="518.22" r="0.72" fill="#3434e4"/>
<circle cx="152.81" cy="517.84" r="0.72" fill="#3434e4"/>
<circle cx="153.57" cy="517.47" r="0.72" fill="#3434e4"/>
<circle cx="154.32" cy="517.09" r="0.72" fill="#3434e4"/>
<circle cx="156.59" cy="515.96" r="0.72" fill="#3434e4"/>
<circle cx="157.34" cy="515.58" r="0.72" fill="#3434e4"/>
<circle cx="158.71" cy="514.67" r="0.72" fill="#3434e4"/>
<circle cx="159.32" cy="514.13" r="0.72" fill="#3434e4"/>
<circle cx="159.93" cy="513.60" r="0.72" fill="#3434e4"/>
<circle cx="160.54" cy="513.07" r="0.72" fill="#3434e4"/>
<circle cx="161.77" cy="512.00" r="0.72" fill="#3434e4"/>
<circle cx="162.99" cy="510.93" r="0.72" fill="#3434e4"/>
<circle cx="163.60" cy="510.40" r="0.72" fill="#3434e4"/>
<circle cx="164.19" cy="509.81" r="0.72" fill="#3434e4"/>
<circle cx="165.36" cy="508.64" r="0.72" fill="#3434e4"/>
<circle cx="165.94" cy="508.06" r="0.72" fill="#3434e4"/>
<circle cx="167.11" cy="506.89" r="0.72" fill="#3434e4"/>
<circle cx="168.03" cy="505.52" r="0.72" fill="#3434e4"/>
<circle cx="168.37" cy="504.73" r="0.72" fill="#3434e4"/>
<circle cx="168.70" cy="503.95" r="0.72" fill="#3434e4"/>
<circle cx="169.03" cy="503.17" r="0.72" fill="#3434e4"/>
<circle cx="169.37" cy="502.38" r="0.72" fill="#3434e4"/>
<circle cx="169.70" cy="501.60" r="0.72" fill="#3434e4"/>
<circle cx="169.81" cy="500.77" r="0.72" fill="#3434e4"/>
<circle cx="169.92" cy="499.93" r="0.72" fill="#3434e4"/>
<circle cx="170.03" cy="499.10" r="0.72" fill="#3434e4"/>
<circle cx="170.14" cy="498.27" r="0.72" fill="#3434e4"/>
<circle cx="170.48" cy="495.77" r="0.72" fill="#3434e4"/>
<circle cx="170.59" cy="494.93" r="0.72" fill="#3434e4"/>
<circle cx="170.70" cy="494.10" r="0.72" fill="#3434e4"/>
<circle cx="171.00" cy="493.30" r="0.72" fill="#3434e4"/>
<circle cx="171.30" cy="492.50" r="0.72" fill="#3434e4"/>
<circle cx="171.60" cy="491.70" r="0.72" fill="#3434e4"/>
<circle cx="171.90" cy="490.90" r="0.72" fill="#3434e4"/>
<circle cx="172.20" cy="490.10" r="0.72" fill="#3434e4"/>
<circle cx="172.50" cy="489.30" r="0.72" fill="#3434e4"/>
<circle cx="173.18" cy="488.76" r="0.72" fill="#3434e4"/>
<circle cx="173.86" cy="488.22" r="0.72" fill="#3434e4"/>
<circle cx="175.22" cy="487.14" r="0.72" fill="#3434e4"/>
<circle cx="176.67" cy="486.30" r="0.72" fill="#3434e4"/>
<circle cx="177.44" cy="486.00" r="0.72" fill="#3434e4"/>
<circle cx="178.21" cy="485.70" r="0.72" fill="#3434e4"/>
<circle cx="178.99" cy="485.40" r="0.72" fill="#3434e4"/>
<circle cx="181.30" cy="484.50" r="0.72" fill="#3434e4"/>
<circle cx="181.98" cy="484.05" r="0.72" fill="#3434e4"/>
<circle cx="182.67" cy="483.60" r="0.72" fill="#3434e4"/>
<circle cx="183.35" cy="483.15" r="0.72" fill="#3434e4"/>
<circle cx="184.03" cy="482.70" r="0.72" fill="#3434e4"/>
<circle cx="184.72" cy="482.25" r="0.72" fill="#3434e4"/>
<circle cx="185.40" cy="481.80" r="0.72" fill="#3434e4"/>
<circle cx="187.95" cy="481.28" r="0.72" fill="#3434e4"/>
<circle cx="188.80" cy="481.10" r="0.72" fill="#3434e4"/>
<circle cx="189.47" cy="480.43" r="0.72" fill="#3434e4"/>
<circle cx="190.80" cy="479.10" r="0.72" fill="#3434e4"/>
<circle cx="191.50" cy="478.68" r="0.72" fill="#3434e4"/>
<circle cx="192.20" cy="478.26" r="0.72" fill="#3434e4"/>
<circle cx="192.90" cy="477.84" r="0.72" fill="#3434e4"/>
<circle cx="193.60" cy="477.42" r="0.72" fill="#3434e4"/>
<circle cx="194.30" cy="477.00" r="0.72" fill="#3434e4"/>
<circle cx="53.4" cy="597.6" r="2.7" fill="#2222ee" />
<ellipse cx="197.0" cy="473.6" rx="4.2" ry="2.5" fill="#2222ee" transform="rotate(-35 197.0 473.6)"/>
<circle cx="86.2" cy="572.0" r="1.1" fill="#c8e646" />
<circle cx="94.8" cy="554.2" r="1.6" fill="#c8e646" />
<circle cx="119.2" cy="538.0" r="1.0" fill="#c8e646" />
<circle cx="143.8" cy="524.0" r="0.9" fill="#c8e646" />
<circle cx="175.9" cy="486.6" r="0.9" fill="#c8e646" />
<circle cx="46.6" cy="605.2" r="0.8" fill="#c8e646" />
<circle cx="171.0" cy="499.0" r="0.7" fill="#c8e646" />
<rect x="46.6" y="611.8" width="187.4" height="11.5" fill="#f8f8f8" stroke="#cfcfcf" stroke-width="0.4" />
<line x1="47.5" y1="614.5" x2="205.5" y2="614.5" stroke="#555" stroke-width="0.45" />
<line x1="64.2" y1="619.5" x2="64.2" y2="620.8" stroke="#777" stroke-width="0.35" />
<line x1="114.6" y1="619.5" x2="114.6" y2="620.8" stroke="#777" stroke-width="0.35" />
<line x1="165.0" y1="619.5" x2="165.0" y2="620.8" stroke="#777" stroke-width="0.35" />
<text x="89.4" y="618.5" font-size="2.0" fill="#888" text-anchor="middle" font-family='"Liberation Sans", sans-serif' >8.55 Mb</text>
<line x1="89.4" y1="619.5" x2="89.4" y2="620.8" stroke="#777" stroke-width="0.35" />
<text x="139.8" y="618.5" font-size="2.0" fill="#888" text-anchor="middle" font-family='"Liberation Sans", sans-serif' >8.55 Mb</text>
<line x1="139.8" y1="619.5" x2="139.8" y2="620.8" stroke="#777" stroke-width="0.35" />
<text x="190.2" y="618.5" font-size="2.0" fill="#888" text-anchor="middle" font-family='"Liberation Sans", sans-serif' >8.55 Mb</text>
<line x1="190.2" y1="619.5" x2="190.2" y2="620.8" stroke="#777" stroke-width="0.35" />
<rect x="46.6" y="623.3" width="187.4" height="23.3" fill="#fdfdfd" stroke="#d6d6d6" stroke-width="0.4" />
<text x="208.5" y="629.8000000000001" font-size="2.6" fill="#555" text-anchor="start" font-family='"Liberation Sans", sans-serif' >Emb Liver Dnase</text>
<text x="208.5" y="634.9000000000001" font-size="2.6" fill="#555" text-anchor="start" font-family='"Liberation Sans", sans-serif' >Emb Liver EP300</text>
<text x="208.5" y="639.5" font-size="2.6" fill="#555" text-anchor="start" font-family='"Liberation Sans", sans-serif' >Erythro GATA1</text>
<text x="208.5" y="644.1" font-size="2.6" fill="#555" text-anchor="start" font-family='"Liberation Sans", sans-serif' >Refseq Genes</text>
<rect x="84.7" y="612.3" width="3.6" height="28.2" fill="#cfe5f0" stroke="none" stroke-width="1" opacity="0.85"/>
<rect x="93.3" y="612.3" width="3.6" height="28.2" fill="#cfe5f0" stroke="none" stroke-width="1" opacity="0.85"/>
<rect x="117.8" y="612.3" width="3.6" height="28.2" fill="#cfe5f0" stroke="none" stroke-width="1" opacity="0.85"/>
<rect x="142.7" y="612.3" width="3.6" height="28.2" fill="#cfe5f0" stroke="none" stroke-width="1" opacity="0.85"/>
<rect x="174.7" y="612.3" width="3.6" height="28.2" fill="#cfe5f0" stroke="none" stroke-width="1" opacity="0.85"/>
<line x1="47.5" y1="629.1" x2="207.5" y2="629.1" stroke="#c8c8f0" stroke-width="0.45" />
<line x1="47.5" y1="634.2" x2="207.5" y2="634.2" stroke="#c8c8f0" stroke-width="0.45" />
<path d="M85.3,629.4 L86.0,626.6 L87.0,626.6 L87.7,629.4 Z" fill="#1c1cdd" stroke="none" stroke-width="1" />
<path d="M85.3,634.5 L86.0,632.0 L87.0,632.0 L87.7,634.5 Z" fill="#1c1cdd" stroke="none" stroke-width="1" />
<path d="M85.6,639.5 L86.5,637.2 L87.4,639.5 Z" fill="#1c1cdd" stroke="none" stroke-width="1" />
<path d="M93.89999999999999,629.4 L94.6,626.6 L95.6,626.6 L96.3,629.4 Z" fill="#1c1cdd" stroke="none" stroke-width="1" />
<path d="M93.89999999999999,634.5 L94.6,632.0 L95.6,632.0 L96.3,634.5 Z" fill="#1c1cdd" stroke="none" stroke-width="1" />
<path d="M94.19999999999999,639.5 L95.1,637.2 L96.0,639.5 Z" fill="#1c1cdd" stroke="none" stroke-width="1" />
<path d="M118.39999999999999,629.4 L119.1,626.6 L120.1,626.6 L120.8,629.4 Z" fill="#1c1cdd" stroke="none" stroke-width="1" />
<path d="M118.39999999999999,634.5 L119.1,632.0 L120.1,632.0 L120.8,634.5 Z" fill="#1c1cdd" stroke="none" stroke-width="1" />
<path d="M118.69999999999999,639.5 L119.6,637.2 L120.5,639.5 Z" fill="#1c1cdd" stroke="none" stroke-width="1" />
<path d="M143.3,629.4 L144.0,626.6 L145.0,626.6 L145.7,629.4 Z" fill="#1c1cdd" stroke="none" stroke-width="1" />
<path d="M143.3,634.5 L144.0,632.0 L145.0,632.0 L145.7,634.5 Z" fill="#1c1cdd" stroke="none" stroke-width="1" />
<path d="M143.6,639.5 L144.5,637.2 L145.4,639.5 Z" fill="#1c1cdd" stroke="none" stroke-width="1" />
<path d="M175.3,629.4 L176.0,626.6 L177.0,626.6 L177.7,629.4 Z" fill="#1c1cdd" stroke="none" stroke-width="1" />
<path d="M175.3,634.5 L176.0,632.0 L177.0,632.0 L177.7,634.5 Z" fill="#1c1cdd" stroke="none" stroke-width="1" />
<path d="M175.6,639.5 L176.5,637.2 L177.4,639.5 Z" fill="#1c1cdd" stroke="none" stroke-width="1" />
<path d="M94.3,629.4 L95.1,624.8 L95.9,629.4 Z" fill="#1c1cdd" stroke="none" stroke-width="1" />
<rect x="48.0" y="624.6" width="1.5" height="0.8" fill="#4040e0" stroke="none" stroke-width="1" />
<rect x="55.0" y="628.6" width="1.5" height="0.8" fill="#4040e0" stroke="none" stroke-width="1" />
<rect x="63.5" y="628.7" width="1.5" height="0.8" fill="#4040e0" stroke="none" stroke-width="1" />
<rect x="64.0" y="633.6" width="1.5" height="0.8" fill="#4040e0" stroke="none" stroke-width="1" />
<rect x="113.0" y="633.8000000000001" width="1.5" height="0.8" fill="#4040e0" stroke="none" stroke-width="1" />
<text x="80.5" y="645.2" font-size="5.1" fill="#111" text-anchor="middle" font-family='"Liberation Sans", sans-serif' textLength="9.5" lengthAdjust="spacingAndGlyphs" font-weight="bold">ME1</text>
<text x="98.0" y="645.2" font-size="5.1" fill="#111" text-anchor="middle" font-family='"Liberation Sans", sans-serif' textLength="9.5" lengthAdjust="spacingAndGlyphs" font-weight="bold">ME2</text>
<text x="118.9" y="645.2" font-size="5.1" fill="#111" text-anchor="middle" font-family='"Liberation Sans", sans-serif' textLength="9.5" lengthAdjust="spacingAndGlyphs" font-weight="bold">ME3</text>
<text x="142.5" y="645.2" font-size="5.1" fill="#111" text-anchor="middle" font-family='"Liberation Sans", sans-serif' textLength="9.5" lengthAdjust="spacingAndGlyphs" font-weight="bold">ME4</text>
<text x="175.0" y="645.2" font-size="5.1" fill="#111" text-anchor="middle" font-family='"Liberation Sans", sans-serif' textLength="9.5" lengthAdjust="spacingAndGlyphs" font-weight="bold">ME5</text>
<rect x="48.0" y="640.6" width="1.8" height="1.8" fill="#1c1cdd" stroke="none" stroke-width="1" />
<rect x="52.2" y="640.6" width="2.0" height="1.8" fill="#1c1cdd" stroke="none" stroke-width="1" />
<line x1="47.5" y1="641.5" x2="55.5" y2="641.5" stroke="#4040e0" stroke-width="0.4" />
<text x="47.5" y="645.2" font-size="2.2" fill="#555" text-anchor="start" font-family='"Liberation Sans", sans-serif' >FBXL5</text>
<rect x="196.0" y="640.4" width="5.2" height="2.2" fill="#1c1cdd" stroke="none" stroke-width="1" />
<circle cx="203.6" cy="641.5" r="1.6" fill="#1c1cdd" />
<text x="196.0" y="645.2" font-size="2.2" fill="#555" text-anchor="start" font-family='"Liberation Sans", sans-serif' >CD38</text>
<text x="245.5" y="453.8" font-size="14.0" fill="#000" text-anchor="start" font-family='"Liberation Sans", sans-serif' >H</text>
<text x="269.0" y="459.4" font-size="9.07" fill="#000" text-anchor="start" font-family='"Liberation Sans", sans-serif' textLength="146" lengthAdjust="spacingAndGlyphs" >Signal at gkm−align predicted peaks</text>
<line x1="343.0" y1="479.6" x2="356.2" y2="479.6" stroke="#1a1a1a" stroke-width="2.8" />
<text x="358.8" y="482.40000000000003" font-size="7.4" fill="#111" text-anchor="start" font-family='"Liberation Sans", sans-serif' textLength="23.3" lengthAdjust="spacingAndGlyphs" >DNase</text>
<line x1="395.2" y1="479.6" x2="408.4" y2="479.6" stroke="#2f8a12" stroke-width="2.8" />
<text x="411.0" y="482.40000000000003" font-size="7.4" fill="#111" text-anchor="start" font-family='"Liberation Sans", sans-serif' textLength="31.8" lengthAdjust="spacingAndGlyphs" >H3K27ac</text>
<line x1="343.0" y1="493.6" x2="356.2" y2="493.6" stroke="#4d4dff" stroke-width="2.8" />
<text x="358.8" y="496.40000000000003" font-size="7.4" fill="#111" text-anchor="start" font-family='"Liberation Sans", sans-serif' textLength="33.8" lengthAdjust="spacingAndGlyphs" >H3K4me1</text>
<line x1="395.2" y1="493.6" x2="408.4" y2="493.6" stroke="#ff4d4d" stroke-width="2.8" />
<text x="411.0" y="496.40000000000003" font-size="7.4" fill="#111" text-anchor="start" font-family='"Liberation Sans", sans-serif' textLength="32.0" lengthAdjust="spacingAndGlyphs" >H3K4me3</text>
<path d="M257.6,485.0 L257.6,634.3 L447.0,634.3" fill="none" stroke="#333" stroke-width="1.0" />
<line x1="255.4" y1="627.4" x2="257.6" y2="627.4" stroke="#333" stroke-width="0.8" />
<text x="254.0" y="629.9" font-size="6.5" fill="#555" text-anchor="end" font-family='"Liberation Sans", sans-serif' >0</text>
<line x1="255.4" y1="585.0" x2="257.6" y2="585.0" stroke="#333" stroke-width="0.8" />
<text x="254.0" y="587.5" font-size="6.5" fill="#555" text-anchor="end" font-family='"Liberation Sans", sans-serif' >5</text>
<line x1="255.4" y1="542.5999999999999" x2="257.6" y2="542.5999999999999" stroke="#333" stroke-width="0.8" />
<text x="254.0" y="545.0999999999999" font-size="6.5" fill="#555" text-anchor="end" font-family='"Liberation Sans", sans-serif' >10</text>
<text x="254.0" y="502.7" font-size="6.5" fill="#555" text-anchor="end" font-family='"Liberation Sans", sans-serif' >15</text>
<line x1="265.0" y1="634.3" x2="265.0" y2="636.3" stroke="#333" stroke-width="0.8" />
<text x="265.0" y="642.7" font-size="6.5" fill="#555" text-anchor="middle" font-family='"Liberation Sans", sans-serif' >−1000</text>
<line x1="308.59999999999997" y1="634.3" x2="308.59999999999997" y2="636.3" stroke="#333" stroke-width="0.8" />
<text x="308.59999999999997" y="642.7" font-size="6.5" fill="#555" text-anchor="middle" font-family='"Liberation Sans", sans-serif' >−500</text>
<line x1="352.2" y1="634.3" x2="352.2" y2="636.3" stroke="#333" stroke-width="0.8" />
<text x="352.2" y="642.7" font-size="6.5" fill="#555" text-anchor="middle" font-family='"Liberation Sans", sans-serif' >0</text>
<line x1="395.8" y1="634.3" x2="395.8" y2="636.3" stroke="#333" stroke-width="0.8" />
<text x="395.8" y="642.7" font-size="6.5" fill="#555" text-anchor="middle" font-family='"Liberation Sans", sans-serif' >500</text>
<line x1="439.4" y1="634.3" x2="439.4" y2="636.3" stroke="#333" stroke-width="0.8" />
<text x="439.4" y="642.7" font-size="6.5" fill="#555" text-anchor="middle" font-family='"Liberation Sans", sans-serif' >1000</text>
<text x="352.5" y="651.4" font-size="7.6" fill="#111" text-anchor="middle" font-family='"Liberation Sans", sans-serif' textLength="101" lengthAdjust="spacingAndGlyphs" >Position relative to center (bp)</text>
<text x="0" y="0" font-size="7.4" fill="#111" text-anchor="middle" font-family='"Liberation Sans", sans-serif' textLength="49" lengthAdjust="spacingAndGlyphs" transform="translate(244.3,559.5) rotate(-90)">Average signal</text>
<path d="M265.00,620.43 C270.52,620.23 290.58,619.72 298.14,619.24 C305.69,618.75 304.20,618.63 310.34,617.53 C316.49,616.44 329.69,613.39 335.02,612.67 C340.36,611.94 339.48,612.90 342.35,613.18 C345.21,613.47 348.12,614.46 352.20,614.38 C356.28,614.29 361.97,612.47 366.85,612.67 C371.73,612.87 376.24,614.60 381.50,615.57 C386.76,616.54 392.40,617.73 398.42,618.47 C404.43,619.21 410.77,619.68 417.60,620.01 C424.43,620.33 435.77,620.36 439.40,620.43" fill="none" stroke="#ff4d4d" stroke-width="1.35" />
<path d="M265.00,591.43 C267.27,590.61 272.28,588.59 278.60,586.48 C284.93,584.38 295.61,581.42 302.93,578.81 C310.26,576.19 317.20,572.92 322.55,570.79 C327.90,568.65 332.13,566.69 335.02,566.01 C337.91,565.33 338.28,566.10 339.90,566.69 C341.53,567.29 342.74,569.00 344.79,569.59 C346.84,570.19 349.74,570.66 352.20,570.28 C354.66,569.89 356.66,568.00 359.52,567.29 C362.39,566.58 365.72,565.43 369.38,566.01 C373.04,566.59 376.66,568.77 381.50,570.79 C386.34,572.81 392.31,575.91 398.42,578.12 C404.52,580.34 411.29,581.96 418.12,584.09 C424.95,586.23 435.85,589.78 439.40,590.92" fill="none" stroke="#4d4dff" stroke-width="1.35" />
<path d="M265.00,586.99 C267.27,586.11 273.08,585.42 278.60,581.71 C284.13,578.00 292.44,570.79 298.14,564.73 C303.83,558.67 308.72,550.34 312.79,545.37 C316.85,540.39 319.92,537.19 322.55,534.88 C325.18,532.56 326.49,531.18 328.57,531.46 C330.65,531.75 332.93,533.03 335.02,536.58 C337.11,540.14 339.11,548.10 341.13,552.79 C343.15,557.48 345.30,562.13 347.14,564.73 C348.99,567.33 350.63,568.26 352.20,568.40 C353.77,568.54 354.93,568.19 356.56,565.58 C358.19,562.98 359.83,557.76 361.97,552.79 C364.10,547.81 367.34,539.17 369.38,535.73 C371.41,532.29 372.15,531.95 374.17,532.15 C376.19,532.35 377.89,532.70 381.50,536.92 C385.10,541.15 390.93,551.42 395.80,557.48 C400.67,563.54 405.62,569.07 410.71,573.26 C415.80,577.45 421.54,580.01 426.32,582.64 C431.10,585.27 437.22,587.98 439.40,589.04" fill="none" stroke="#2f8a12" stroke-width="1.35" />
<path d="M265.00,608.32 C267.18,608.16 273.72,607.78 278.08,607.38 C282.44,606.98 286.15,606.78 291.16,605.93 C296.17,605.08 303.30,603.68 308.16,602.26 C313.03,600.84 317.12,599.21 320.37,597.40 C323.63,595.60 325.26,594.84 327.70,591.43 C330.14,588.02 332.99,582.94 335.02,576.93 C337.06,570.92 338.28,563.44 339.90,555.35 C341.53,547.26 343.25,536.64 344.79,528.39 C346.33,520.15 347.91,510.39 349.15,505.87 C350.38,501.35 351.18,500.98 352.20,501.27 C353.22,501.55 354.23,504.25 355.25,507.58 C356.27,510.91 356.78,513.69 358.30,521.23 C359.83,528.76 362.17,542.71 364.41,552.79 C366.65,562.87 368.88,574.47 371.73,581.71 C374.58,588.94 377.49,592.57 381.50,596.21 C385.51,599.85 389.70,601.84 395.80,603.54 C401.90,605.25 410.86,605.73 418.12,606.44 C425.39,607.15 435.85,607.58 439.40,607.81" fill="none" stroke="#1a1a1a" stroke-width="1.35" />
<text x="458.0" y="453.6" font-size="15.0" fill="#000" text-anchor="start" font-family='"Liberation Serif", serif' >I</text>
<line x1="498.3" y1="452.2" x2="498.3" y2="634.4" stroke="#111" stroke-width="1.0" />
<line x1="498.3" y1="634.4" x2="672.9" y2="634.4" stroke="#111" stroke-width="1.0" />
<line x1="498.3" y1="631.2255470316742" x2="501.90000000000003" y2="631.2255470316742" stroke="#111" stroke-width="0.6" />
<line x1="501.5176462795406" y1="634.4" x2="501.5176462795406" y2="630.8" stroke="#111" stroke-width="0.6" />
<line x1="498.3" y1="625.8463724848544" x2="501.90000000000003" y2="625.8463724848544" stroke="#111" stroke-width="0.6" />
<line x1="506.67254908109777" y1="634.4" x2="506.67254908109777" y2="630.8" stroke="#111" stroke-width="0.6" />
<line x1="498.3" y1="621.1867195451973" x2="501.90000000000003" y2="621.1867195451973" stroke="#111" stroke-width="0.6" />
<line x1="511.13792899837966" y1="634.4" x2="511.13792899837966" y2="630.8" stroke="#111" stroke-width="0.6" />
<line x1="498.3" y1="617.0766143665502" x2="501.90000000000003" y2="617.0766143665502" stroke="#111" stroke-width="0.6" />
<line x1="515.076673226828" y1="634.4" x2="515.076673226828" y2="630.8" stroke="#111" stroke-width="0.6" />
<line x1="498.3" y1="613.4" x2="505.8" y2="613.4" stroke="#111" stroke-width="0.8" />
<line x1="518.6" y1="634.4" x2="518.6" y2="626.9" stroke="#111" stroke-width="0.8" />
<line x1="498.3" y1="589.2122398483991" x2="501.90000000000003" y2="589.2122398483991" stroke="#111" stroke-width="0.6" />
<line x1="541.7793096661266" y1="634.4" x2="541.7793096661266" y2="630.8" stroke="#111" stroke-width="0.6" />
<line x1="498.3" y1="575.0633071832751" x2="501.90000000000003" y2="575.0633071832751" stroke="#111" stroke-width="0.6" />
<line x1="555.3383366134141" y1="634.4" x2="555.3383366134141" y2="630.8" stroke="#111" stroke-width="0.6" />
<line x1="498.3" y1="565.0244796967982" x2="501.90000000000003" y2="565.0244796967982" stroke="#111" stroke-width="0.6" />
<line x1="564.9586193322532" y1="634.4" x2="564.9586193322532" y2="630.8" stroke="#111" stroke-width="0.6" />
<line x1="498.3" y1="557.2377601516009" x2="501.90000000000003" y2="557.2377601516009" stroke="#111" stroke-width="0.6" />
<line x1="572.4206903338735" y1="634.4" x2="572.4206903338735" y2="630.8" stroke="#111" stroke-width="0.6" />
<line x1="498.3" y1="550.8755470316742" x2="501.90000000000003" y2="550.8755470316742" stroke="#111" stroke-width="0.6" />
<line x1="578.5176462795406" y1="634.4" x2="578.5176462795406" y2="630.8" stroke="#111" stroke-width="0.6" />
<line x1="498.3" y1="545.4963724848544" x2="501.90000000000003" y2="545.4963724848544" stroke="#111" stroke-width="0.6" />
<line x1="583.6725490810978" y1="634.4" x2="583.6725490810978" y2="630.8" stroke="#111" stroke-width="0.6" />
<line x1="498.3" y1="540.8367195451973" x2="501.90000000000003" y2="540.8367195451973" stroke="#111" stroke-width="0.6" />
<line x1="588.1379289983797" y1="634.4" x2="588.1379289983797" y2="630.8" stroke="#111" stroke-width="0.6" />
<line x1="498.3" y1="536.7266143665503" x2="501.90000000000003" y2="536.7266143665503" stroke="#111" stroke-width="0.6" />
<line x1="592.076673226828" y1="634.4" x2="592.076673226828" y2="630.8" stroke="#111" stroke-width="0.6" />
<line x1="498.3" y1="533.05" x2="505.8" y2="533.05" stroke="#111" stroke-width="0.8" />
<line x1="595.6" y1="634.4" x2="595.6" y2="626.9" stroke="#111" stroke-width="0.8" />
<line x1="498.3" y1="508.8622398483991" x2="501.90000000000003" y2="508.8622398483991" stroke="#111" stroke-width="0.6" />
<line x1="618.7793096661266" y1="634.4" x2="618.7793096661266" y2="630.8" stroke="#111" stroke-width="0.6" />
<line x1="498.3" y1="494.7133071832751" x2="501.90000000000003" y2="494.7133071832751" stroke="#111" stroke-width="0.6" />
<line x1="632.3383366134141" y1="634.4" x2="632.3383366134141" y2="630.8" stroke="#111" stroke-width="0.6" />
<line x1="498.3" y1="484.6744796967982" x2="501.90000000000003" y2="484.6744796967982" stroke="#111" stroke-width="0.6" />
<line x1="641.9586193322532" y1="634.4" x2="641.9586193322532" y2="630.8" stroke="#111" stroke-width="0.6" />
<line x1="498.3" y1="476.8877601516009" x2="501.90000000000003" y2="476.8877601516009" stroke="#111" stroke-width="0.6" />
<line x1="649.4206903338735" y1="634.4" x2="649.4206903338735" y2="630.8" stroke="#111" stroke-width="0.6" />
<line x1="498.3" y1="470.52554703167425" x2="501.90000000000003" y2="470.52554703167425" stroke="#111" stroke-width="0.6" />
<line x1="655.5176462795406" y1="634.4" x2="655.5176462795406" y2="630.8" stroke="#111" stroke-width="0.6" />
<line x1="498.3" y1="465.14637248485445" x2="501.90000000000003" y2="465.14637248485445" stroke="#111" stroke-width="0.6" />
<line x1="660.6725490810978" y1="634.4" x2="660.6725490810978" y2="630.8" stroke="#111" stroke-width="0.6" />
<line x1="498.3" y1="460.4867195451973" x2="501.90000000000003" y2="460.4867195451973" stroke="#111" stroke-width="0.6" />
<line x1="665.1379289983797" y1="634.4" x2="665.1379289983797" y2="630.8" stroke="#111" stroke-width="0.6" />
<line x1="498.3" y1="456.37661436655026" x2="501.90000000000003" y2="456.37661436655026" stroke="#111" stroke-width="0.6" />
<line x1="669.076673226828" y1="634.4" x2="669.076673226828" y2="630.8" stroke="#111" stroke-width="0.6" />
<line x1="498.3" y1="452.7" x2="505.8" y2="452.7" stroke="#111" stroke-width="0.8" />
<line x1="672.6" y1="634.4" x2="672.6" y2="626.9" stroke="#111" stroke-width="0.8" />
<text x="496.5" y="615.4" font-size="5.8" fill="#444" text-anchor="end" font-family='"Liberation Sans", sans-serif' >10</text>
<text x="518.6" y="642.3" font-size="5.8" fill="#444" text-anchor="end" font-family='"Liberation Sans", sans-serif' >10</text>
<text x="496.5" y="535.05" font-size="5.8" fill="#444" text-anchor="end" font-family='"Liberation Sans", sans-serif' >100</text>
<text x="595.6" y="642.3" font-size="5.8" fill="#444" text-anchor="end" font-family='"Liberation Sans", sans-serif' >100</text>
<text x="496.5" y="454.7" font-size="5.8" fill="#444" text-anchor="end" font-family='"Liberation Sans", sans-serif' >1000</text>
<text x="672.6" y="642.3" font-size="5.8" fill="#444" text-anchor="end" font-family='"Liberation Sans", sans-serif' >1000</text>
<line x1="498.6" y1="634.1" x2="672.9" y2="452.4" stroke="#111" stroke-width="1.0" />
<circle cx="602.7" cy="467.2" r="1.75" fill="#000" />
<circle cx="603.4" cy="472.3" r="1.75" fill="#000" />
<circle cx="588.9" cy="474.5" r="1.75" fill="#000" />
<circle cx="587" cy="486.8" r="1.75" fill="#000" />
<circle cx="602.7" cy="489.4" r="1.75" fill="#000" />
<circle cx="609.7" cy="489.4" r="1.75" fill="#000" />
<circle cx="600.5" cy="496.3" r="1.75" fill="#000" />
<circle cx="566.7" cy="493.6" r="1.75" fill="#000" />
<circle cx="566.7" cy="501.4" r="1.75" fill="#000" />
<circle cx="568.2" cy="500.8" r="1.75" fill="#000" />
<circle cx="574.3" cy="498.1" r="1.75" fill="#000" />
<circle cx="578" cy="499" r="1.75" fill="#000" />
<circle cx="584.1" cy="498.5" r="1.75" fill="#000" />
<circle cx="584.5" cy="505.4" r="1.75" fill="#000" />
<circle cx="568.9" cy="509.5" r="1.75" fill="#000" />
<circle cx="576.2" cy="509.5" r="1.75" fill="#000" />
<circle cx="578.7" cy="510.1" r="1.75" fill="#000" />
<circle cx="564" cy="512.3" r="1.75" fill="#000" />
<circle cx="564" cy="517.7" r="1.75" fill="#000" />
<circle cx="569.6" cy="515.2" r="1.75" fill="#000" />
<circle cx="574.3" cy="514.4" r="1.75" fill="#000" />
<circle cx="585.2" cy="516.3" r="1.75" fill="#000" />
<circle cx="561.6" cy="519.9" r="1.75" fill="#000" />
<circle cx="572.5" cy="519.5" r="1.75" fill="#000" />
<circle cx="554.4" cy="523.5" r="1.75" fill="#000" />
<circle cx="573.2" cy="523.9" r="1.75" fill="#000" />
<circle cx="555.8" cy="529.5" r="1.75" fill="#000" />
<circle cx="559.5" cy="529" r="1.75" fill="#000" />
<circle cx="571.1" cy="528.6" r="1.75" fill="#000" />
<circle cx="540" cy="529.5" r="1.75" fill="#000" />
<circle cx="547.7" cy="541.3" r="1.75" fill="#000" />
<circle cx="553.1" cy="541.7" r="1.75" fill="#000" />
<circle cx="532.6" cy="546.6" r="1.75" fill="#000" />
<circle cx="541.7" cy="545.3" r="1.75" fill="#000" />
<circle cx="549.1" cy="546.2" r="1.75" fill="#000" />
<circle cx="554" cy="551.7" r="1.75" fill="#000" />
<circle cx="524.4" cy="554.2" r="1.75" fill="#000" />
<circle cx="521.7" cy="575.9" r="1.75" fill="#000" />
<circle cx="506.3" cy="567.2" r="1.75" fill="#000" />
<circle cx="506.8" cy="569" r="1.75" fill="#000" />
<circle cx="527.3" cy="564" r="1.75" fill="#000" />
<circle cx="532.2" cy="565.4" r="1.75" fill="#000" />
<circle cx="543.1" cy="567.6" r="1.75" fill="#000" />
<circle cx="622.4" cy="460.3" r="1.75" fill="#000" />
<text x="625.8" y="458.6" font-size="5.2" fill="#777" text-anchor="start" font-family='"Liberation Sans", sans-serif' >astrocyte</text>
<text x="592.0" y="475.0" font-size="5.2" fill="#777" text-anchor="start" font-family='"Liberation Sans", sans-serif' >ESC</text>
<text x="525.9" y="483.5" font-size="5.2" fill="#777" text-anchor="start" font-family='"Liberation Sans", sans-serif' >hemato.multi.progenitor_1</text>
<text x="569.5" y="501.8" font-size="5.2" fill="#777" text-anchor="start" font-family='"Liberation Sans", sans-serif' >(E)retina</text>
<text x="603.3" y="496.6" font-size="5.2" fill="#777" text-anchor="start" font-family='"Liberation Sans", sans-serif' >(E)brain_3</text>
<text x="588.0" y="512.9" font-size="5.2" fill="#777" text-anchor="start" font-family='"Liberation Sans", sans-serif' >(E)brain_2</text>
<text x="546.7" y="516.5" font-size="5.2" fill="#777" text-anchor="start" font-family='"Liberation Sans", sans-serif' >(A)heart</text>
<text x="558.2" y="525.6" font-size="5.2" fill="#777" text-anchor="start" font-family='"Liberation Sans", sans-serif' >(A)lung</text>
<text x="567.3" y="536.1" font-size="5.2" fill="#777" text-anchor="start" font-family='"Liberation Sans", sans-serif' >(E)brain_1</text>
<text x="535.0" y="537.0" font-size="5.2" fill="#777" text-anchor="start" font-family='"Liberation Sans", sans-serif' >(A)stomach</text>
<text x="531.3" y="548.8" font-size="5.2" fill="#777" text-anchor="start" font-family='"Liberation Sans", sans-serif' >(E)kidney</text>
<text x="524.0" y="562.2" font-size="5.2" fill="#777" text-anchor="start" font-family='"Liberation Sans", sans-serif' >(A)T−cell_1</text>
<text x="503.7" y="576.7" font-size="5.2" fill="#777" text-anchor="start" font-family='"Liberation Sans", sans-serif' >(E)liver</text>
<rect x="571.4" y="593.2" width="101.9" height="30.1" fill="#d4efe7" stroke="none" stroke-width="1" />
<text x="573.9" y="601.4" font-size="7.3" fill="#222" text-anchor="start" font-family='"Liberation Sans", sans-serif' textLength="96.9" lengthAdjust="spacingAndGlyphs" ># Novel conserved enhancers</text>
<text x="574.3" y="610.3" font-size="6.3" fill="#222" text-anchor="start" font-family='"Liberation Sans", sans-serif' textLength="82" lengthAdjust="spacingAndGlyphs" >197 on average per cell/tissue</text>
<text x="574.3" y="619.3" font-size="6.3" fill="#222" text-anchor="start" font-family='"Liberation Sans", sans-serif' textLength="88.5" lengthAdjust="spacingAndGlyphs" >6,591 total across 45 cell/tissues</text>
<text x="594.4" y="651.0" font-size="7.5" fill="#111" text-anchor="middle" font-family='"Liberation Sans", sans-serif' textLength="140.7" lengthAdjust="spacingAndGlyphs" ># identifiable conserved human enhancers</text>
<text x="594.6" y="659.2" font-size="7.4" fill="#111" text-anchor="middle" font-family='"Liberation Sans", sans-serif' textLength="78.2" lengthAdjust="spacingAndGlyphs" >(LASTZ/Liftover unique)</text>
<text x="0" y="0" font-size="7.4" fill="#111" text-anchor="middle" font-family='"Liberation Sans", sans-serif' textLength="137.6" lengthAdjust="spacingAndGlyphs" transform="translate(471.5,552.7) rotate(-90)"># identifiable conserved human enhancers</text>
<text x="0" y="0" font-size="7.4" fill="#111" text-anchor="middle" font-family='"Liberation Sans", sans-serif' textLength="71.7" lengthAdjust="spacingAndGlyphs" transform="translate(480.3,553.9) rotate(-90)">(gkm−align unique)</text>
</svg>
</body></html>
